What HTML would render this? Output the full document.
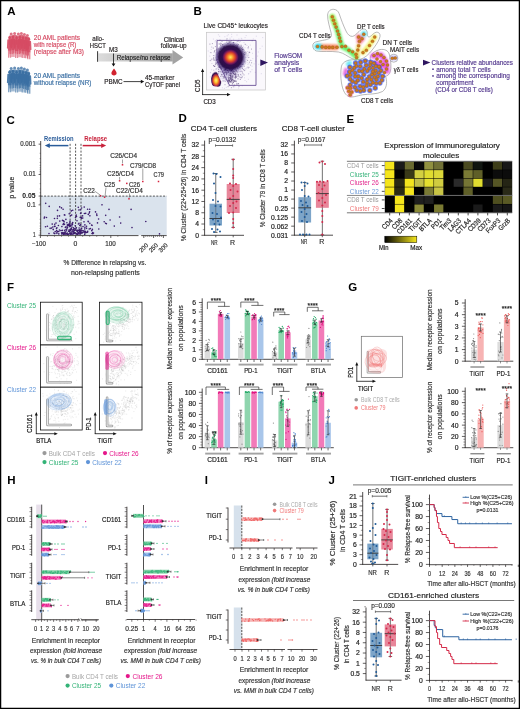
<!DOCTYPE html>
<html><head><meta charset="utf-8"><title>Figure</title>
<style>html,body{margin:0;padding:0;background:#fff;width:520px;height:709px;overflow:hidden;font-family:"Liberation Sans", sans-serif;}svg{display:block;will-change:transform;}</style>
</head><body>
<svg width="520" height="709" viewBox="0 0 520 709" font-family="'Liberation Sans', sans-serif"><defs>
<linearGradient id="garrow" x1="0" x2="1" y1="0" y2="0"><stop offset="0" stop-color="#dcdcdc"/><stop offset="1" stop-color="#a3a3a3"/></linearGradient>
<radialGradient id="gblob" cx="0.5" cy="0.5" r="0.5">
 <stop offset="0" stop-color="#fde668"/><stop offset="0.1" stop-color="#fbb43a"/><stop offset="0.2" stop-color="#f2702a"/><stop offset="0.3" stop-color="#cf3a30"/>
 <stop offset="0.4" stop-color="#7e1a5a"/><stop offset="0.5" stop-color="#320c4e"/><stop offset="0.7" stop-color="#24093f" stop-opacity="0.95"/><stop offset="0.85" stop-color="#3a2070" stop-opacity="0.5"/><stop offset="1" stop-color="#6a55a8" stop-opacity="0"/></radialGradient>
<radialGradient id="gblob2" cx="0.45" cy="0.62" r="0.55">
 <stop offset="0" stop-color="#fdf27a"/><stop offset="0.25" stop-color="#fbc232"/><stop offset="0.45" stop-color="#ec6a28"/>
 <stop offset="0.62" stop-color="#a82a4a"/><stop offset="0.8" stop-color="#2e0d4e"/><stop offset="1" stop-color="#2e0d4e" stop-opacity="0"/></radialGradient>
<radialGradient id="ghalo" cx="0.5" cy="0.5" r="0.5"><stop offset="0" stop-color="#7a68b5" stop-opacity="0.55"/><stop offset="1" stop-color="#b8aee0" stop-opacity="0"/></radialGradient>
<linearGradient id="gcbar" x1="0" x2="1" y1="0" y2="0"><stop offset="0" stop-color="#000"/><stop offset="1" stop-color="#f7e81c"/></linearGradient>
<filter id="blur1" filterUnits="userSpaceOnUse" x="0" y="0" width="520" height="709"><feGaussianBlur stdDeviation="1.2"/></filter>
<filter id="blur05" filterUnits="userSpaceOnUse" x="0" y="0" width="520" height="709"><feGaussianBlur stdDeviation="0.6"/></filter>
</defs>
<rect x="0" y="0" width="520" height="709" fill="#fff"/>
<text x="7.30" y="15.30" font-size="11.5" fill="#000" font-weight="bold">A</text>
<g fill="#d64b63"><g transform="translate(11.20 34.10)" opacity="0.78"><circle cx="0" cy="0" r="1.5"/><path d="M-2.3 2.4 Q-2.4 1.5 -1.4 1.5 L1.4 1.5 Q2.4 1.5 2.3 2.4 L2.7 10.5 L1.7 11 L1.65 13 L-1.65 13 L-1.7 11 L-2.7 10.5 Z"/><path d="M-1.65 12.5 L1.65 12.5 L1.6 20.0 L0.3 20.0 L0 13.5 L-0.3 20.0 L-1.6 20.0 Z" opacity="0.8"/></g><g transform="translate(14.60 33.50)" opacity="0.78"><circle cx="0" cy="0" r="1.5"/><path d="M-2.3 2.4 Q-2.4 1.5 -1.4 1.5 L1.4 1.5 Q2.4 1.5 2.3 2.4 L2.7 10.5 L1.7 11 L1.65 13 L-1.65 13 L-1.7 11 L-2.7 10.5 Z"/><path d="M-1.65 12.5 L1.65 12.5 L1.6 20.0 L0.3 20.0 L0 13.5 L-0.3 20.0 L-1.6 20.0 Z" opacity="0.8"/></g><g transform="translate(18.40 33.90)" opacity="0.78"><circle cx="0" cy="0" r="1.5"/><path d="M-2.3 2.4 Q-2.4 1.5 -1.4 1.5 L1.4 1.5 Q2.4 1.5 2.3 2.4 L2.7 10.5 L1.7 11 L1.65 13 L-1.65 13 L-1.7 11 L-2.7 10.5 Z"/><path d="M-1.65 12.5 L1.65 12.5 L1.6 20.0 L0.3 20.0 L0 13.5 L-0.3 20.0 L-1.6 20.0 Z" opacity="0.8"/></g><g transform="translate(21.40 33.50)" opacity="0.78"><circle cx="0" cy="0" r="1.5"/><path d="M-2.3 2.4 Q-2.4 1.5 -1.4 1.5 L1.4 1.5 Q2.4 1.5 2.3 2.4 L2.7 10.5 L1.7 11 L1.65 13 L-1.65 13 L-1.7 11 L-2.7 10.5 Z"/><path d="M-1.65 12.5 L1.65 12.5 L1.6 20.0 L0.3 20.0 L0 13.5 L-0.3 20.0 L-1.6 20.0 Z" opacity="0.8"/></g><g transform="translate(24.40 34.50)" opacity="0.78"><circle cx="0" cy="0" r="1.5"/><path d="M-2.3 2.4 Q-2.4 1.5 -1.4 1.5 L1.4 1.5 Q2.4 1.5 2.3 2.4 L2.7 10.5 L1.7 11 L1.65 13 L-1.65 13 L-1.7 11 L-2.7 10.5 Z"/><path d="M-1.65 12.5 L1.65 12.5 L1.6 20.0 L0.3 20.0 L0 13.5 L-0.3 20.0 L-1.6 20.0 Z" opacity="0.8"/></g><g transform="translate(27.40 35.50)" opacity="0.78"><circle cx="0" cy="0" r="1.5"/><path d="M-2.3 2.4 Q-2.4 1.5 -1.4 1.5 L1.4 1.5 Q2.4 1.5 2.3 2.4 L2.7 10.5 L1.7 11 L1.65 13 L-1.65 13 L-1.7 11 L-2.7 10.5 Z"/><path d="M-1.65 12.5 L1.65 12.5 L1.6 20.0 L0.3 20.0 L0 13.5 L-0.3 20.0 L-1.6 20.0 Z" opacity="0.8"/></g><g transform="translate(9.60 37.70)" opacity="0.9"><circle cx="0" cy="0" r="1.45"/><path d="M-2.3 2.4 Q-2.4 1.5 -1.4 1.5 L1.4 1.5 Q2.4 1.5 2.3 2.4 L2.7 10.5 L1.7 11 L1.65 13 L-1.65 13 L-1.7 11 L-2.7 10.5 Z"/><path d="M-1.65 12.5 L1.65 12.5 L1.6 20.0 L0.3 20.0 L0 13.5 L-0.3 20.0 L-1.6 20.0 Z" opacity="0.7"/></g><g transform="translate(13.00 36.90)" opacity="0.9"><circle cx="0" cy="0" r="1.45"/><path d="M-2.3 2.4 Q-2.4 1.5 -1.4 1.5 L1.4 1.5 Q2.4 1.5 2.3 2.4 L2.7 10.5 L1.7 11 L1.65 13 L-1.65 13 L-1.7 11 L-2.7 10.5 Z"/><path d="M-1.65 12.5 L1.65 12.5 L1.6 20.0 L0.3 20.0 L0 13.5 L-0.3 20.0 L-1.6 20.0 Z" opacity="0.7"/></g><g transform="translate(16.60 37.90)" opacity="0.9"><circle cx="0" cy="0" r="1.45"/><path d="M-2.3 2.4 Q-2.4 1.5 -1.4 1.5 L1.4 1.5 Q2.4 1.5 2.3 2.4 L2.7 10.5 L1.7 11 L1.65 13 L-1.65 13 L-1.7 11 L-2.7 10.5 Z"/><path d="M-1.65 12.5 L1.65 12.5 L1.6 20.0 L0.3 20.0 L0 13.5 L-0.3 20.0 L-1.6 20.0 Z" opacity="0.7"/></g><g transform="translate(20.00 37.30)" opacity="0.9"><circle cx="0" cy="0" r="1.45"/><path d="M-2.3 2.4 Q-2.4 1.5 -1.4 1.5 L1.4 1.5 Q2.4 1.5 2.3 2.4 L2.7 10.5 L1.7 11 L1.65 13 L-1.65 13 L-1.7 11 L-2.7 10.5 Z"/><path d="M-1.65 12.5 L1.65 12.5 L1.6 20.0 L0.3 20.0 L0 13.5 L-0.3 20.0 L-1.6 20.0 Z" opacity="0.7"/></g><g transform="translate(23.20 38.10)" opacity="0.9"><circle cx="0" cy="0" r="1.45"/><path d="M-2.3 2.4 Q-2.4 1.5 -1.4 1.5 L1.4 1.5 Q2.4 1.5 2.3 2.4 L2.7 10.5 L1.7 11 L1.65 13 L-1.65 13 L-1.7 11 L-2.7 10.5 Z"/><path d="M-1.65 12.5 L1.65 12.5 L1.6 20.0 L0.3 20.0 L0 13.5 L-0.3 20.0 L-1.6 20.0 Z" opacity="0.7"/></g><g transform="translate(26.40 38.30)" opacity="0.9"><circle cx="0" cy="0" r="1.45"/><path d="M-2.3 2.4 Q-2.4 1.5 -1.4 1.5 L1.4 1.5 Q2.4 1.5 2.3 2.4 L2.7 10.5 L1.7 11 L1.65 13 L-1.65 13 L-1.7 11 L-2.7 10.5 Z"/><path d="M-1.65 12.5 L1.65 12.5 L1.6 20.0 L0.3 20.0 L0 13.5 L-0.3 20.0 L-1.6 20.0 Z" opacity="0.7"/></g><g transform="translate(28.80 39.30)" opacity="0.9"><circle cx="0" cy="0" r="1.45"/><path d="M-2.3 2.4 Q-2.4 1.5 -1.4 1.5 L1.4 1.5 Q2.4 1.5 2.3 2.4 L2.7 10.5 L1.7 11 L1.65 13 L-1.65 13 L-1.7 11 L-2.7 10.5 Z"/><path d="M-1.65 12.5 L1.65 12.5 L1.6 20.0 L0.3 20.0 L0 13.5 L-0.3 20.0 L-1.6 20.0 Z" opacity="0.7"/></g></g>
<g fill="#3a6fa3"><g transform="translate(11.20 68.60)" opacity="0.78"><circle cx="0" cy="0" r="1.5"/><path d="M-2.3 2.4 Q-2.4 1.5 -1.4 1.5 L1.4 1.5 Q2.4 1.5 2.3 2.4 L2.7 10.5 L1.7 11 L1.65 13 L-1.65 13 L-1.7 11 L-2.7 10.5 Z"/><path d="M-1.65 12.5 L1.65 12.5 L1.6 20.0 L0.3 20.0 L0 13.5 L-0.3 20.0 L-1.6 20.0 Z" opacity="0.8"/></g><g transform="translate(14.60 68.00)" opacity="0.78"><circle cx="0" cy="0" r="1.5"/><path d="M-2.3 2.4 Q-2.4 1.5 -1.4 1.5 L1.4 1.5 Q2.4 1.5 2.3 2.4 L2.7 10.5 L1.7 11 L1.65 13 L-1.65 13 L-1.7 11 L-2.7 10.5 Z"/><path d="M-1.65 12.5 L1.65 12.5 L1.6 20.0 L0.3 20.0 L0 13.5 L-0.3 20.0 L-1.6 20.0 Z" opacity="0.8"/></g><g transform="translate(18.40 68.40)" opacity="0.78"><circle cx="0" cy="0" r="1.5"/><path d="M-2.3 2.4 Q-2.4 1.5 -1.4 1.5 L1.4 1.5 Q2.4 1.5 2.3 2.4 L2.7 10.5 L1.7 11 L1.65 13 L-1.65 13 L-1.7 11 L-2.7 10.5 Z"/><path d="M-1.65 12.5 L1.65 12.5 L1.6 20.0 L0.3 20.0 L0 13.5 L-0.3 20.0 L-1.6 20.0 Z" opacity="0.8"/></g><g transform="translate(21.40 68.00)" opacity="0.78"><circle cx="0" cy="0" r="1.5"/><path d="M-2.3 2.4 Q-2.4 1.5 -1.4 1.5 L1.4 1.5 Q2.4 1.5 2.3 2.4 L2.7 10.5 L1.7 11 L1.65 13 L-1.65 13 L-1.7 11 L-2.7 10.5 Z"/><path d="M-1.65 12.5 L1.65 12.5 L1.6 20.0 L0.3 20.0 L0 13.5 L-0.3 20.0 L-1.6 20.0 Z" opacity="0.8"/></g><g transform="translate(24.40 69.00)" opacity="0.78"><circle cx="0" cy="0" r="1.5"/><path d="M-2.3 2.4 Q-2.4 1.5 -1.4 1.5 L1.4 1.5 Q2.4 1.5 2.3 2.4 L2.7 10.5 L1.7 11 L1.65 13 L-1.65 13 L-1.7 11 L-2.7 10.5 Z"/><path d="M-1.65 12.5 L1.65 12.5 L1.6 20.0 L0.3 20.0 L0 13.5 L-0.3 20.0 L-1.6 20.0 Z" opacity="0.8"/></g><g transform="translate(27.40 70.00)" opacity="0.78"><circle cx="0" cy="0" r="1.5"/><path d="M-2.3 2.4 Q-2.4 1.5 -1.4 1.5 L1.4 1.5 Q2.4 1.5 2.3 2.4 L2.7 10.5 L1.7 11 L1.65 13 L-1.65 13 L-1.7 11 L-2.7 10.5 Z"/><path d="M-1.65 12.5 L1.65 12.5 L1.6 20.0 L0.3 20.0 L0 13.5 L-0.3 20.0 L-1.6 20.0 Z" opacity="0.8"/></g><g transform="translate(9.60 72.20)" opacity="0.9"><circle cx="0" cy="0" r="1.45"/><path d="M-2.3 2.4 Q-2.4 1.5 -1.4 1.5 L1.4 1.5 Q2.4 1.5 2.3 2.4 L2.7 10.5 L1.7 11 L1.65 13 L-1.65 13 L-1.7 11 L-2.7 10.5 Z"/><path d="M-1.65 12.5 L1.65 12.5 L1.6 20.0 L0.3 20.0 L0 13.5 L-0.3 20.0 L-1.6 20.0 Z" opacity="0.7"/></g><g transform="translate(13.00 71.40)" opacity="0.9"><circle cx="0" cy="0" r="1.45"/><path d="M-2.3 2.4 Q-2.4 1.5 -1.4 1.5 L1.4 1.5 Q2.4 1.5 2.3 2.4 L2.7 10.5 L1.7 11 L1.65 13 L-1.65 13 L-1.7 11 L-2.7 10.5 Z"/><path d="M-1.65 12.5 L1.65 12.5 L1.6 20.0 L0.3 20.0 L0 13.5 L-0.3 20.0 L-1.6 20.0 Z" opacity="0.7"/></g><g transform="translate(16.60 72.40)" opacity="0.9"><circle cx="0" cy="0" r="1.45"/><path d="M-2.3 2.4 Q-2.4 1.5 -1.4 1.5 L1.4 1.5 Q2.4 1.5 2.3 2.4 L2.7 10.5 L1.7 11 L1.65 13 L-1.65 13 L-1.7 11 L-2.7 10.5 Z"/><path d="M-1.65 12.5 L1.65 12.5 L1.6 20.0 L0.3 20.0 L0 13.5 L-0.3 20.0 L-1.6 20.0 Z" opacity="0.7"/></g><g transform="translate(20.00 71.80)" opacity="0.9"><circle cx="0" cy="0" r="1.45"/><path d="M-2.3 2.4 Q-2.4 1.5 -1.4 1.5 L1.4 1.5 Q2.4 1.5 2.3 2.4 L2.7 10.5 L1.7 11 L1.65 13 L-1.65 13 L-1.7 11 L-2.7 10.5 Z"/><path d="M-1.65 12.5 L1.65 12.5 L1.6 20.0 L0.3 20.0 L0 13.5 L-0.3 20.0 L-1.6 20.0 Z" opacity="0.7"/></g><g transform="translate(23.20 72.60)" opacity="0.9"><circle cx="0" cy="0" r="1.45"/><path d="M-2.3 2.4 Q-2.4 1.5 -1.4 1.5 L1.4 1.5 Q2.4 1.5 2.3 2.4 L2.7 10.5 L1.7 11 L1.65 13 L-1.65 13 L-1.7 11 L-2.7 10.5 Z"/><path d="M-1.65 12.5 L1.65 12.5 L1.6 20.0 L0.3 20.0 L0 13.5 L-0.3 20.0 L-1.6 20.0 Z" opacity="0.7"/></g><g transform="translate(26.40 72.80)" opacity="0.9"><circle cx="0" cy="0" r="1.45"/><path d="M-2.3 2.4 Q-2.4 1.5 -1.4 1.5 L1.4 1.5 Q2.4 1.5 2.3 2.4 L2.7 10.5 L1.7 11 L1.65 13 L-1.65 13 L-1.7 11 L-2.7 10.5 Z"/><path d="M-1.65 12.5 L1.65 12.5 L1.6 20.0 L0.3 20.0 L0 13.5 L-0.3 20.0 L-1.6 20.0 Z" opacity="0.7"/></g><g transform="translate(28.80 73.80)" opacity="0.9"><circle cx="0" cy="0" r="1.45"/><path d="M-2.3 2.4 Q-2.4 1.5 -1.4 1.5 L1.4 1.5 Q2.4 1.5 2.3 2.4 L2.7 10.5 L1.7 11 L1.65 13 L-1.65 13 L-1.7 11 L-2.7 10.5 Z"/><path d="M-1.65 12.5 L1.65 12.5 L1.6 20.0 L0.3 20.0 L0 13.5 L-0.3 20.0 L-1.6 20.0 Z" opacity="0.7"/></g></g>
<text x="33.80" y="40.20" font-size="7.1" fill="#d64b63" stroke="#d64b63" stroke-width="0.18" textLength="46.20" lengthAdjust="spacingAndGlyphs">20 AML patients</text>
<text x="33.80" y="47.30" font-size="7.1" fill="#d64b63" stroke="#d64b63" stroke-width="0.18" textLength="42.60" lengthAdjust="spacingAndGlyphs">with relapse (R)</text>
<text x="33.80" y="54.40" font-size="7.1" fill="#d64b63" stroke="#d64b63" stroke-width="0.18" textLength="50.00" lengthAdjust="spacingAndGlyphs">(relapse after M3)</text>
<text x="33.80" y="78.00" font-size="7.1" fill="#3a6fa3" stroke="#3a6fa3" stroke-width="0.18" textLength="46.20" lengthAdjust="spacingAndGlyphs">20 AML patients</text>
<text x="33.80" y="85.20" font-size="7.1" fill="#3a6fa3" stroke="#3a6fa3" stroke-width="0.18" textLength="57.50" lengthAdjust="spacingAndGlyphs">without relapse (NR)</text>
<text x="98.20" y="40.60" font-size="7.1" fill="#231f20" stroke="#231f20" stroke-width="0.18" text-anchor="middle" textLength="11.90" lengthAdjust="spacingAndGlyphs">allo-</text>
<text x="97.80" y="47.80" font-size="7.1" fill="#231f20" stroke="#231f20" stroke-width="0.18" text-anchor="middle" textLength="16.00" lengthAdjust="spacingAndGlyphs">HSCT</text>
<text x="113.40" y="52.40" font-size="7.1" fill="#231f20" stroke="#231f20" stroke-width="0.18" text-anchor="middle" textLength="8.70" lengthAdjust="spacingAndGlyphs">M3</text>
<rect x="98.30" y="53.30" width="74.50" height="8.20" fill="url(#garrow)"/>
<path d="M172.5 50.0 L183.2 57.4 L172.5 64.6 Z" fill="#a3a3a3"/>
<line x1="97.60" y1="51.20" x2="97.60" y2="61.80" stroke="#333" stroke-width="1.0"/>
<text x="116.70" y="60.40" font-size="7.1" fill="#222" stroke="#222" stroke-width="0.18" textLength="53.90" lengthAdjust="spacingAndGlyphs">Relapse/no relapse</text>
<line x1="113.50" y1="53.50" x2="113.50" y2="64.00" stroke="#111" stroke-width="0.8"/>
<path d="M111.6 63.4 L115.4 63.4 L113.5 66.6 Z" fill="#111"/>
<path d="M114 68.6 C115.6 70.8 116.6 72.0 116.6 73.2 C116.6 74.6 115.4 75.4 114 75.4 C112.6 75.4 111.4 74.6 111.4 73.2 C111.4 72.0 112.4 70.8 114 68.6 Z" fill="#d2232f"/>
<text x="113.40" y="83.80" font-size="7.1" fill="#231f20" stroke="#231f20" stroke-width="0.18" text-anchor="middle" textLength="18.30" lengthAdjust="spacingAndGlyphs">PBMC</text>
<line x1="123.50" y1="81.60" x2="141.50" y2="81.60" stroke="#111" stroke-width="0.8"/>
<path d="M140.8 79.8 L144.2 81.6 L140.8 83.4 Z" fill="#111"/>
<text x="145.00" y="79.90" font-size="7.1" fill="#231f20" stroke="#231f20" stroke-width="0.18" textLength="29.40" lengthAdjust="spacingAndGlyphs">45-marker</text>
<text x="145.00" y="87.30" font-size="7.1" fill="#231f20" stroke="#231f20" stroke-width="0.18" textLength="35.00" lengthAdjust="spacingAndGlyphs">CyTOF panel</text>
<text x="173.80" y="42.20" font-size="7.1" fill="#231f20" stroke="#231f20" stroke-width="0.18" text-anchor="middle" textLength="20.20" lengthAdjust="spacingAndGlyphs">Clinical</text>
<text x="173.70" y="48.00" font-size="7.1" fill="#231f20" stroke="#231f20" stroke-width="0.18" text-anchor="middle" textLength="26.00" lengthAdjust="spacingAndGlyphs">follow-up</text>
<text x="193.60" y="15.30" font-size="11.5" fill="#000" font-weight="bold">B</text>
<text x="203.60" y="28.40" font-size="7.1" fill="#231f20" stroke="#231f20" stroke-width="0.18" textLength="30.50" lengthAdjust="spacingAndGlyphs">Live CD45</text>
<text x="234.60" y="25.40" font-size="4.2" fill="#231f20" stroke="#231f20" stroke-width="0.18">+</text>
<text x="238.60" y="28.40" font-size="7.1" fill="#231f20" stroke="#231f20" stroke-width="0.18" textLength="29.30" lengthAdjust="spacingAndGlyphs">leukocytes</text>
<rect x="206.50" y="32.30" width="58.90" height="57.70" fill="#faf8fc" stroke="#c4c4c4" stroke-width="0.7"/>
<path d="M229.2 66.1h0M229.5 56.2h0M221.8 57.4h0M244.2 65.1h0M243.4 63.0h0M236.3 62.2h0M213.7 70.3h0M237.6 66.0h0M213.4 39.1h0M222.2 54.4h0M235.4 59.4h0M237.7 52.3h0M235.4 64.7h0M224.7 80.6h0M238.1 74.4h0M225.2 51.1h0M228.2 58.7h0M239.0 63.0h0M227.1 48.5h0M226.3 74.7h0M223.1 62.9h0M236.7 42.1h0M232.5 75.7h0M209.8 56.1h0M230.8 50.2h0M237.5 59.3h0M215.9 69.9h0M239.4 71.4h0M247.8 64.3h0M233.3 44.4h0M238.8 52.7h0M227.0 44.8h0M221.4 53.6h0M246.2 35.6h0M216.0 62.9h0M247.9 66.9h0M235.9 51.2h0M219.7 71.7h0M244.1 61.9h0M234.7 65.2h0M249.5 67.4h0M237.7 66.6h0M214.7 75.4h0M242.5 66.4h0M210.3 52.4h0M241.3 38.3h0M230.0 72.2h0M217.6 79.3h0M238.1 58.2h0M235.6 67.8h0M233.3 73.7h0M224.7 55.0h0M243.5 60.3h0M222.3 71.4h0M248.1 54.7h0M216.8 58.4h0M230.4 56.4h0M247.5 47.7h0M245.9 44.8h0M223.3 67.6h0M244.4 70.3h0M235.8 61.7h0M233.7 66.9h0M230.1 63.3h0M238.3 60.0h0M240.4 66.8h0M254.1 63.9h0M227.3 55.5h0M231.9 71.1h0M228.3 64.6h0M219.6 62.9h0M236.4 62.9h0M227.3 67.9h0M235.1 53.7h0M258.7 64.3h0M225.9 58.8h0M229.5 59.2h0M243.1 46.0h0M231.3 71.4h0M241.4 77.9h0M213.3 55.8h0M228.2 67.5h0M244.0 42.6h0M239.5 42.1h0M233.9 74.3h0M230.4 62.3h0M240.8 61.7h0M231.0 78.4h0M243.5 56.5h0M262.2 46.2h0M242.1 56.8h0M233.5 68.5h0M234.4 67.7h0M215.2 41.9h0M238.8 48.4h0M220.7 42.4h0M245.9 69.0h0M248.2 48.7h0M232.0 46.3h0M240.4 79.1h0M222.2 78.7h0M242.9 57.9h0M210.3 76.9h0M230.9 52.8h0M236.4 64.9h0M248.5 47.8h0M244.5 77.8h0M248.0 57.8h0M223.8 72.2h0M233.3 61.5h0M247.7 56.8h0M211.6 69.8h0M235.5 52.7h0M231.9 70.0h0M232.9 75.9h0M231.3 72.5h0M248.4 79.3h0M224.6 70.6h0M211.4 47.0h0M210.4 72.8h0M218.4 59.8h0M229.9 59.7h0M225.5 62.8h0M251.7 60.5h0M237.8 72.0h0M229.8 44.9h0M225.9 72.9h0M213.9 52.8h0M243.1 69.5h0M232.1 69.7h0M233.8 45.9h0M214.8 52.3h0M242.2 53.2h0M222.1 50.7h0M215.2 58.6h0M219.0 64.4h0M224.9 36.7h0M240.0 56.7h0M235.2 54.5h0M240.6 69.0h0M239.3 63.9h0M246.7 67.9h0M237.0 35.0h0M241.9 75.7h0M228.7 54.4h0M253.3 38.9h0M221.8 68.3h0M252.8 58.6h0M238.2 70.8h0M222.0 58.9h0M235.2 69.9h0M231.6 57.7h0M220.8 55.7h0M241.8 61.2h0M222.6 49.9h0M261.3 73.7h0M238.8 65.8h0M250.5 65.1h0M231.3 66.3h0M210.6 72.4h0M235.6 51.6h0M246.6 81.7h0M216.6 52.0h0M235.2 62.2h0M227.6 48.3h0M255.3 72.4h0M218.9 43.9h0M250.7 71.9h0M252.0 69.7h0M222.4 63.1h0M208.2 51.0h0M231.4 66.3h0M224.0 58.5h0M237.0 64.5h0M239.0 62.5h0M228.4 69.5h0M232.5 50.1h0M225.1 60.0h0M230.8 61.9h0M232.0 62.1h0M230.5 44.9h0M236.6 72.6h0M236.8 57.7h0M236.9 48.4h0M211.1 60.7h0M221.8 68.9h0M220.6 78.9h0M227.8 43.6h0M223.6 66.3h0M237.5 62.1h0M248.3 68.5h0M231.8 67.2h0M250.2 71.7h0M243.3 47.0h0M230.4 68.8h0M228.7 72.8h0M238.6 70.9h0M245.6 57.4h0M228.2 70.5h0M242.8 60.1h0M219.2 62.3h0M236.0 73.6h0M240.6 60.3h0M241.4 66.5h0M234.3 60.7h0M229.3 68.2h0M220.4 52.5h0M232.1 42.4h0M227.2 35.9h0M224.5 66.8h0M238.2 59.3h0M229.4 43.0h0M252.1 66.2h0M244.0 49.4h0M230.0 38.2h0M240.6 71.2h0M211.1 59.4h0M238.9 38.9h0M211.9 47.2h0M225.1 43.2h0M232.3 63.0h0M239.0 68.4h0M248.5 74.0h0M217.6 53.9h0M220.3 47.1h0M231.1 60.1h0M237.4 41.0h0M218.4 59.7h0M229.8 56.3h0M231.3 50.9h0M239.7 64.3h0M231.0 51.9h0M221.2 60.4h0M215.5 62.4h0M233.6 43.5h0M229.2 56.2h0M237.1 67.3h0M231.6 49.8h0M230.4 59.2h0M240.1 63.5h0M224.1 43.7h0M227.9 51.1h0M219.8 58.6h0M226.6 61.3h0M237.8 55.0h0M257.6 56.1h0M244.1 61.5h0M223.7 63.0h0M238.6 88.0h0M235.5 75.4h0M240.4 71.4h0M237.6 58.1h0M237.6 47.1h0M245.0 47.8h0M234.7 85.4h0M229.5 60.2h0M244.8 60.3h0M223.1 63.1h0M238.4 68.5h0M223.5 81.0h0M250.3 60.2h0M235.0 54.9h0M247.6 51.5h0M239.4 54.2h0M224.4 68.6h0M246.7 59.9h0M224.5 69.7h0M231.5 63.7h0M248.8 73.6h0M226.3 87.4h0M232.0 69.4h0M224.9 59.5h0M212.8 81.4h0M247.0 45.4h0M215.4 40.5h0M244.9 54.5h0M231.3 56.2h0M230.7 46.9h0M232.3 42.7h0M231.2 63.7h0M237.1 57.2h0M222.1 61.9h0M226.7 78.8h0M240.4 58.6h0M226.8 51.6h0M221.7 55.8h0M235.2 66.2h0M238.3 85.2h0M224.2 60.2h0M262.7 37.6h0M226.3 62.0h0M233.7 64.9h0M229.4 64.4h0M232.6 69.3h0M211.2 49.4h0M232.0 47.6h0M220.5 67.5h0M224.9 67.6h0M240.2 63.7h0M237.6 58.7h0M216.5 59.6h0M237.0 53.6h0M230.9 69.0h0M222.3 67.7h0M252.5 53.3h0M233.6 58.2h0M248.9 63.8h0M241.9 51.7h0M231.8 59.9h0M212.5 77.3h0M241.9 39.0h0M240.2 58.4h0M236.9 64.4h0M215.5 57.5h0M248.4 53.1h0M220.7 43.7h0M218.6 64.0h0M250.6 65.2h0M234.7 86.8h0M226.3 51.9h0M237.8 66.6h0M220.8 46.0h0M235.2 63.0h0M217.6 57.6h0M226.0 65.5h0M230.7 59.0h0M228.1 72.6h0M247.3 55.6h0M241.3 50.9h0M232.8 69.0h0M248.7 55.4h0M231.2 62.4h0M215.5 60.2h0M224.6 64.5h0M219.6 36.3h0M232.4 63.1h0M226.0 70.7h0M229.0 52.7h0M237.3 41.2h0M224.5 59.8h0M241.3 58.0h0M235.4 52.1h0M235.3 80.0h0M224.4 88.4h0M224.9 60.2h0M233.9 72.3h0M218.4 34.8h0M238.7 69.5h0M234.3 63.0h0M242.2 64.4h0M250.3 45.1h0M240.9 55.5h0M242.2 85.8h0M231.9 56.9h0M226.5 49.9h0M225.1 67.7h0M232.4 60.8h0M230.1 71.0h0M237.4 58.3h0M239.3 58.2h0M219.3 77.5h0M237.1 48.5h0M243.9 64.1h0M214.8 79.3h0M235.7 70.7h0M234.2 58.2h0M215.0 71.7h0M232.3 56.6h0M235.9 60.9h0M239.4 55.5h0M231.6 34.3h0M227.3 68.1h0M246.7 55.6h0M230.7 79.0h0M228.4 68.8h0M250.5 60.5h0M245.5 51.5h0M234.3 59.1h0M233.3 73.6h0M258.3 52.0h0M225.7 66.0h0M220.4 66.0h0M238.3 56.7h0M237.8 41.4h0M240.4 41.5h0M224.3 53.3h0M227.6 70.3h0M232.9 55.2h0M238.0 79.0h0M232.1 64.4h0M245.6 63.2h0M256.3 36.2h0M231.6 65.0h0M242.6 68.0h0M229.0 47.4h0M233.1 72.4h0M220.0 47.7h0M231.7 36.8h0M229.1 54.8h0M237.0 51.6h0M222.3 55.3h0M231.5 52.0h0M232.1 69.0h0M245.0 80.5h0M223.4 55.0h0M224.0 59.6h0M237.7 43.7h0M237.1 59.7h0M211.9 63.5h0M245.1 37.6h0M240.9 62.5h0M237.2 65.3h0M246.3 57.3h0M241.6 55.1h0M240.0 50.2h0M230.8 80.8h0M236.9 58.1h0M219.4 50.5h0M234.1 71.3h0M236.7 66.3h0M231.5 76.2h0M227.7 53.4h0M241.8 60.8h0M228.9 53.1h0M229.2 67.5h0M235.9 45.5h0M236.7 62.1h0M221.0 69.3h0M228.9 56.0h0M240.8 75.8h0M224.4 65.3h0M222.4 87.8h0M226.6 74.3h0M224.9 69.7h0M227.2 66.0h0M231.0 52.0h0M255.7 61.0h0M213.9 70.2h0M213.1 73.8h0M225.6 61.7h0M245.9 61.4h0M216.7 39.6h0M245.0 68.9h0M223.0 70.3h0M237.5 67.8h0M241.9 68.8h0M233.9 65.9h0M260.1 48.6h0M228.4 60.4h0M241.7 54.7h0M244.6 50.5h0M234.9 53.7h0M233.7 51.7h0M214.4 73.1h0M235.3 53.3h0M234.2 71.9h0M221.2 58.7h0M237.9 66.3h0M228.3 34.7h0M245.7 63.9h0M232.1 56.7h0M234.9 54.9h0M220.7 51.1h0M225.4 52.7h0M219.3 67.6h0M217.6 67.9h0M220.8 64.2h0M247.1 62.4h0M224.0 60.6h0M233.6 39.2h0M225.3 62.0h0M226.8 61.0h0M240.1 69.2h0M242.0 67.1h0M228.8 59.8h0M229.0 56.2h0M230.0 39.3h0M228.3 59.7h0M221.3 59.7h0" stroke="#6e5aa8" stroke-width="0.6" stroke-linecap="square" fill="none" opacity="0.35"/>
<ellipse cx="230" cy="63" rx="16" ry="21" fill="url(#ghalo)"/>
<ellipse cx="226" cy="72" rx="9" ry="12" transform="rotate(-25 226 72)" fill="url(#ghalo)" opacity="0.8"/>
<ellipse cx="230.5" cy="57.2" rx="16.5" ry="16.0" fill="url(#gblob)"/>
<path d="M224.5 75.1h0M230.4 69.6h0M230.1 78.1h0M232.9 80.2h0M216.3 60.4h0M234.0 71.4h0M230.3 70.0h0M218.1 52.9h0M238.1 83.6h0M232.6 77.1h0M225.9 68.8h0M224.3 73.1h0M232.7 72.3h0M216.2 68.9h0M213.6 57.7h0M223.1 76.5h0M212.4 43.6h0M223.2 47.0h0M225.8 69.1h0M236.5 70.2h0M233.5 70.8h0M221.4 48.0h0M228.7 67.8h0M213.3 48.1h0M223.5 65.5h0M228.4 80.2h0M230.2 79.6h0M236.9 47.9h0M228.6 68.3h0M242.3 47.5h0M220.7 68.9h0M233.1 67.7h0M222.1 46.0h0M224.7 46.4h0M232.1 69.8h0M237.6 72.0h0M220.5 49.1h0M235.5 77.4h0M240.9 66.1h0M217.5 62.9h0M229.5 80.1h0M244.5 52.3h0M230.7 71.9h0M223.8 66.7h0M223.7 71.7h0M214.8 66.5h0M221.1 62.1h0M234.8 74.4h0M223.0 80.9h0M238.6 83.7h0M241.3 71.2h0M233.8 73.2h0M234.0 71.7h0M218.7 56.1h0M224.3 67.2h0M218.9 48.5h0M217.3 54.7h0M239.1 48.4h0M230.7 76.4h0M230.8 79.0h0M242.3 59.4h0M220.9 66.8h0M231.5 40.8h0M214.6 66.3h0M215.8 72.9h0M230.2 75.5h0M214.0 66.1h0M237.3 45.4h0M241.7 57.9h0M236.8 46.8h0M230.0 81.5h0M242.8 57.7h0M235.9 75.5h0M232.6 73.1h0M234.4 67.0h0M240.5 61.1h0M240.2 77.5h0M225.6 71.9h0M224.4 72.9h0M235.2 74.2h0M221.8 74.8h0M219.3 44.0h0M248.5 46.9h0M240.5 62.7h0M227.2 73.0h0M232.8 75.1h0M228.8 79.7h0M221.9 63.4h0M230.4 68.7h0M239.0 86.4h0M218.5 73.9h0M229.3 85.2h0M224.8 67.5h0M234.1 80.8h0M245.2 44.3h0M228.6 78.5h0M232.8 77.2h0M230.8 44.4h0M220.8 71.7h0M231.1 77.1h0M218.2 76.5h0M230.2 69.5h0M232.3 84.2h0M236.3 77.3h0M234.3 67.3h0M240.7 74.5h0M238.5 66.2h0M228.5 77.3h0M230.4 81.9h0M230.6 75.3h0M218.9 71.6h0M227.2 80.6h0M236.0 66.1h0M234.7 69.1h0M231.2 80.7h0M218.5 69.4h0M230.4 41.9h0M231.9 81.1h0M233.7 80.3h0M231.6 68.8h0M243.4 53.9h0M223.3 48.9h0M243.6 69.7h0M236.8 74.3h0M222.4 66.5h0M246.1 52.3h0M216.9 59.6h0M231.3 70.6h0M223.7 66.0h0M230.8 73.9h0M251.6 62.8h0M218.9 49.6h0M222.6 48.8h0M242.9 56.1h0M245.0 54.2h0M231.8 71.2h0M226.7 42.1h0M233.5 82.4h0M240.3 79.4h0M240.6 64.1h0M235.1 72.8h0M229.0 72.4h0M239.2 67.1h0M242.5 49.5h0M230.7 73.1h0M227.9 70.3h0M220.9 49.0h0M234.4 77.7h0M235.9 71.3h0M230.6 77.2h0M231.4 74.2h0M219.1 51.1h0M234.0 46.4h0M234.3 85.0h0M228.2 80.1h0M241.6 52.8h0M219.9 62.8h0M224.4 69.0h0M239.0 65.2h0M227.9 68.1h0M230.9 71.3h0M223.0 44.6h0M233.9 81.1h0M242.4 68.4h0M236.7 83.3h0M225.7 68.2h0M218.7 53.2h0M218.3 62.2h0M215.6 63.8h0M222.0 41.3h0M235.1 68.2h0M220.4 43.9h0M217.5 59.7h0M218.8 66.2h0M219.8 60.8h0M232.8 45.2h0M213.8 55.5h0M229.3 77.6h0M252.2 40.7h0M221.6 64.4h0M229.2 67.6h0M221.3 68.1h0M219.3 58.0h0M222.5 66.1h0M237.3 46.4h0M238.5 44.6h0M233.7 73.6h0M221.8 74.6h0M231.5 69.1h0M219.9 55.8h0M230.4 73.9h0M229.0 80.1h0M230.6 78.2h0M225.6 69.3h0M244.9 62.0h0M233.3 68.3h0M233.6 42.4h0M219.6 51.5h0M223.6 65.2h0M211.0 52.7h0M231.4 80.6h0M220.4 67.2h0M211.9 59.1h0M217.9 56.4h0M229.2 67.7h0M232.6 79.7h0M226.9 67.6h0M220.1 51.9h0M227.9 67.6h0M229.8 73.7h0M235.5 78.3h0M243.4 49.3h0M224.3 66.4h0M231.5 73.3h0M225.6 67.9h0M226.3 70.4h0M234.9 74.2h0M237.6 65.9h0M231.1 75.9h0M229.8 41.8h0M219.4 67.0h0M241.5 46.1h0M232.2 70.7h0M231.5 80.2h0M226.0 67.9h0M223.5 47.6h0M232.2 79.0h0M219.9 64.4h0M214.4 51.6h0M227.0 72.6h0M221.9 64.8h0M229.0 82.3h0M225.9 69.7h0M224.8 70.5h0M246.7 53.9h0M242.6 49.0h0M224.2 76.8h0M235.3 81.2h0M233.1 82.4h0M230.5 76.0h0M242.9 51.0h0M228.5 67.8h0M240.2 62.8h0M229.4 69.6h0M214.4 60.1h0M217.9 64.8h0M242.2 64.5h0M219.2 52.1h0M242.3 76.8h0M232.5 71.7h0M230.2 77.8h0M233.4 68.7h0M215.4 64.7h0M228.9 78.2h0M228.2 83.6h0M243.1 64.2h0M233.3 86.8h0M220.2 61.5h0M219.1 65.9h0M229.5 75.2h0M225.6 68.9h0M232.3 70.0h0M229.7 81.2h0M232.0 76.1h0M239.8 67.3h0M240.8 66.7h0M233.0 81.8h0M235.2 69.2h0M244.4 54.8h0M229.4 80.7h0M220.3 52.3h0M231.9 69.4h0M232.5 76.2h0M225.7 72.5h0M228.7 82.1h0M231.2 68.1h0M241.7 77.7h0M233.9 76.1h0M238.6 40.8h0M220.0 54.7h0M215.4 46.6h0M216.2 50.2h0M223.9 78.2h0M229.6 69.9h0M228.6 71.5h0M225.0 84.7h0M237.6 68.6h0M224.5 76.9h0M232.9 79.2h0M226.3 74.1h0M225.7 69.4h0M234.8 81.3h0M227.2 68.2h0M235.9 81.0h0M242.5 72.0h0M220.8 76.4h0M231.4 79.2h0M236.9 44.7h0M231.5 78.9h0M216.6 63.2h0M248.2 67.4h0M241.1 57.8h0M227.6 70.4h0M227.8 43.6h0M226.6 72.3h0M231.1 70.3h0M220.5 45.2h0M224.0 66.9h0M218.5 71.7h0M242.9 73.7h0M230.1 81.7h0M234.0 71.6h0M220.5 68.1h0M239.0 76.6h0M221.6 43.8h0M217.8 62.1h0M232.6 83.4h0M234.5 81.0h0M226.8 68.0h0M229.5 70.0h0M218.6 57.6h0M228.5 81.1h0M232.5 69.5h0M209.9 44.1h0M225.6 79.1h0M236.8 47.3h0M231.3 70.7h0M236.9 76.5h0M213.5 65.5h0M220.9 81.7h0M251.5 49.1h0M219.8 67.5h0M244.2 66.3h0M233.9 67.6h0M233.6 42.6h0M236.8 71.4h0M231.7 77.3h0M221.6 69.0h0M238.0 78.8h0M240.7 47.1h0M234.2 44.7h0M225.2 81.3h0M238.4 74.7h0M227.5 70.4h0M228.8 75.8h0M231.0 70.4h0M230.7 75.1h0M220.0 40.1h0M241.0 45.1h0M214.7 50.6h0M227.1 71.4h0M230.3 79.0h0M228.4 72.5h0M228.0 81.6h0M224.8 72.7h0M235.7 76.4h0M224.4 47.3h0M244.7 70.6h0M232.2 79.9h0M235.1 74.7h0M226.7 73.5h0M231.4 87.7h0M224.9 66.3h0M235.7 45.7h0M233.4 73.8h0M231.5 82.0h0M222.3 50.0h0M216.7 49.2h0M223.1 65.3h0M219.1 67.5h0M223.3 65.9h0M228.8 43.1h0M224.0 77.4h0M224.7 48.2h0M235.5 76.3h0M226.9 77.3h0M249.4 62.2h0M236.0 77.3h0M233.1 72.7h0M232.8 69.3h0M231.4 70.4h0M238.3 75.7h0M219.4 66.6h0M229.4 42.0h0M244.0 74.9h0M223.4 66.6h0M230.9 73.2h0M236.3 81.3h0M220.1 52.5h0M240.9 62.8h0M249.2 52.1h0M213.5 58.8h0M241.6 48.6h0M221.5 64.8h0M232.1 78.0h0M225.3 70.0h0M224.9 71.1h0M228.2 41.2h0M223.4 65.6h0M228.1 86.7h0M228.9 74.2h0M236.9 84.4h0M247.6 60.4h0M227.0 68.3h0M226.7 74.8h0M235.5 73.2h0M226.5 46.4h0M229.4 67.8h0M228.9 70.9h0M235.9 70.7h0M232.8 68.8h0M234.8 67.0h0M229.2 80.5h0M223.5 70.3h0M248.8 57.4h0M228.8 46.3h0M249.7 52.6h0M222.5 44.6h0M213.8 60.0h0M245.3 53.0h0M223.9 46.6h0M235.1 74.3h0M210.2 60.6h0M218.1 62.5h0M224.4 69.9h0M237.4 67.3h0M222.4 72.2h0M229.2 85.7h0M219.0 53.8h0M227.0 38.8h0M233.1 68.2h0M230.8 82.1h0M226.8 40.2h0" stroke="#2e1258" stroke-width="0.7" stroke-linecap="square" fill="none" opacity="0.55"/>
<path d="M212.0 84.5 C210.5 80 211.2 74 213.2 71 C214.8 69.2 216.6 70.5 217.6 73.5 C219 77.5 221.5 82 222.0 84.5 C222.2 86.3 219 86.8 216 86.6 C213.5 86.4 212.4 85.8 212.0 84.5 Z" fill="url(#gblob2)"/>
<path d="M217 40.4 L256 40.4 L256 85.4 L229.6 85.4 L217 60.5 Z" fill="none" stroke="#5b3f8c" stroke-width="0.8"/>
<line x1="202.60" y1="95.00" x2="202.60" y2="71.50" stroke="#111" stroke-width="0.8"/>
<path d="M201 72 L202.6 68.5 L204.2 72 Z" fill="#111"/>
<line x1="202.20" y1="94.60" x2="227.50" y2="94.60" stroke="#111" stroke-width="0.8"/>
<path d="M227 93 L230.5 94.6 L227 96.2 Z" fill="#111"/>
<text x="199.80" y="92.00" font-size="7.1" fill="#231f20" stroke="#231f20" stroke-width="0.18" textLength="12.50" lengthAdjust="spacingAndGlyphs" transform="rotate(-90 199.80 92.00)">CD5</text>
<text x="203.40" y="104.30" font-size="7.1" fill="#231f20" stroke="#231f20" stroke-width="0.18" textLength="12.40" lengthAdjust="spacingAndGlyphs">CD3</text>
<path d="M260.3 59.4 L268.0 62.6 L260.3 65.9 Z" fill="#2e1660"/>
<text x="274.20" y="58.10" font-size="7.2" fill="#553a8f" stroke="#553a8f" stroke-width="0.18" textLength="28.00" lengthAdjust="spacingAndGlyphs">FlowSOM</text>
<text x="274.20" y="65.00" font-size="7.2" fill="#553a8f" stroke="#553a8f" stroke-width="0.18" textLength="25.00" lengthAdjust="spacingAndGlyphs">analysis</text>
<text x="274.20" y="72.30" font-size="7.2" fill="#553a8f" stroke="#553a8f" stroke-width="0.18" textLength="28.00" lengthAdjust="spacingAndGlyphs">of T cells</text>
<path d="M312.8 46.0 C312.5 43.5 314.5 42.0 317 41.6 L322.5 40.4 C328 39.5 331.5 38.5 331.5 34.5 C330 28 327.3 20 327.6 15 C328 11 330.5 9.3 333.5 9.3 C336.5 9.4 338.3 11.2 339.2 13.8 C341 19 343.5 26 346 31 C347.5 34.5 350 36.6 352.5 36.4 C355 36 356.5 33.5 359 31.6 C360.5 29.6 362.5 28.7 364.3 29.0 C366.6 29.5 367.6 31.8 367.2 34.0 C367 35.8 368.2 37.5 369.8 36.8 C372 35.5 373.6 32.8 376.2 32.2 C378.8 31.8 380.6 34.0 380.0 36.6 C379.2 40.0 377.0 43.5 374.6 46.8 C371.5 51 368 55.5 363.5 58.0 C359.5 60.0 355.5 60.2 352.0 58.6 C347.5 56.5 344 53.0 338.5 52.0 C330 50.8 322 52.2 316.5 51.0 C314.2 50.4 313.0 48.5 312.8 46.0 Z" fill="#fff" stroke="#8a8a8a" stroke-width="0.6"/>
<path d="M341.5 66 C343 61.5 348 59.6 354 59.8 C362 60.0 368 59.0 373.5 62.5 C378 65.5 383.5 70.5 385.8 77 C387.5 83 386.5 88.5 382.5 91.5 C377 94.5 369 93.8 362.5 94.8 C357 95.8 352 98.0 348.5 96.5 C344 94.0 342.5 88.5 341.5 83 C340.5 77 340.5 71 341.5 66 Z" fill="#fff" stroke="#8a8a8a" stroke-width="0.6"/>
<path d="M370.5 56.5 C372 52.5 376 50.5 380 49.6 C384.5 48.8 388 50.5 389.2 54.0 C390.4 58 391.2 63 390.8 68.5 C390.4 73.5 388.0 76.5 384.5 76.2 C380 75.8 377 72.5 374.0 68.5 C371.5 65 369.5 60.5 370.5 56.5 Z" fill="#fff" stroke="#8a8a8a" stroke-width="0.6"/>
<circle cx="393.8" cy="58.2" r="4.0" fill="#fff" stroke="#8a8a8a" stroke-width="0.6"/>
<path d="M332.3 16.8 L337.5 31 L341.9 46.5 L349 50.3 L356.6 57" fill="none" stroke="#4df04d" stroke-width="5.04" stroke-linecap="round" stroke-linejoin="round" opacity="0.83" filter="url(#blur1)"/>
<path d="M332.3 16.8 L335 24" fill="none" stroke="#c8f05a" stroke-width="4.80" stroke-linecap="round" stroke-linejoin="round" opacity="0.83" filter="url(#blur1)"/>
<path d="M322 47 L336 47.2" fill="none" stroke="#f8845a" stroke-width="5.52" stroke-linecap="round" stroke-linejoin="round" opacity="0.99" filter="url(#blur1)"/>
<path d="M317.5 46.5 L319 46.6" fill="none" stroke="#30e0f0" stroke-width="6.00" stroke-linecap="round" stroke-linejoin="round" opacity="0.99" filter="url(#blur1)"/>
<path d="M374.7 37 L369 45.7 L363 52.6" fill="none" stroke="#f0ee55" stroke-width="5.04" stroke-linecap="round" stroke-linejoin="round" opacity="0.83" filter="url(#blur1)"/>
<path d="M358.6 37 L362 38.7 L359.5 41.3" fill="none" stroke="#f25a7a" stroke-width="5.40" stroke-linecap="round" stroke-linejoin="round" opacity="0.83" filter="url(#blur1)"/>
<path d="M363.8 33.6 L364 34" fill="none" stroke="#40e0f0" stroke-width="5.52" stroke-linecap="round" stroke-linejoin="round" opacity="0.83" filter="url(#blur1)"/>
<path d="M358.6 45.7 L357.8 50 L357 56" fill="none" stroke="#f0d04a" stroke-width="4.20" stroke-linecap="round" stroke-linejoin="round" opacity="0.83" filter="url(#blur1)"/>
<path d="M373 56 L381 55 L386 62 L387 71 M376 63 L383 66" fill="none" stroke="#e545e0" stroke-width="5.40" stroke-linecap="round" stroke-linejoin="round" opacity="0.88" filter="url(#blur1)"/>
<path d="M345 74 L346 70" fill="none" stroke="#e040d0" stroke-width="4.20" stroke-linecap="round" stroke-linejoin="round" opacity="0.77" filter="url(#blur1)"/>
<path d="M348 64 L350 63" fill="none" stroke="#40e0f0" stroke-width="4.20" stroke-linecap="round" stroke-linejoin="round" opacity="0.77" filter="url(#blur1)"/>
<path d="M392.5 58 L395 58" fill="none" stroke="#8080ff" stroke-width="4.20" stroke-linecap="round" stroke-linejoin="round" opacity="0.77" filter="url(#blur1)"/>
<path d="M370.3 84.7h0M347.1 75.9h0M364.3 68.9h0M367.2 79.4h0M356.9 90.3h0M375.9 66.1h0M370.1 65.1h0M354.2 67.9h0M367.0 82.7h0M380.9 70.6h0M360.1 66.3h0M357.8 80.3h0M359.2 70.9h0M377.9 76.4h0M358.3 76.4h0M375.2 88.0h0M366.5 85.8h0M350.2 84.9h0M349.6 71.9h0M369.8 90.4h0M367.3 71.0h0M363.8 74.5h0M350.2 74.9h0M360.1 86.2h0M376.2 83.2h0M371.3 79.6h0M355.8 82.5h0M379.9 83.0h0M382.6 76.3h0M376.4 79.6h0M372.0 74.5h0M363.2 81.8h0M360.6 62.2h0M350.2 79.1h0M362.2 71.2h0M356.4 66.0h0M375.7 70.6h0M363.8 90.3h0M379.2 67.3h0M355.0 87.2h0M369.4 76.7h0M366.2 65.3h0M355.1 72.9h0M369.2 68.6h0M374.9 73.7h0M352.3 70.2h0M355.2 76.4h0M360.4 91.0h0M372.8 82.6h0M361.7 78.0h0M381.9 80.1h0M355.6 63.0h0M363.2 87.1h0M373.9 63.3h0M352.5 81.2h0M349.9 67.2h0M370.8 62.2h0M374.5 77.2h0M365.3 61.0h0M372.9 67.9h0M378.8 72.7h0M372.8 71.5h0" stroke="#2f48ee" stroke-width="5.4" stroke-linecap="round" fill="none" opacity="0.7" filter="url(#blur05)"/>
<path d="M347.5 87.8h0M350.5 88.3h0M348.8 91.2h0M351.8 92.0h0M350.2 94.8h0" stroke="#f0508a" stroke-width="5.0" stroke-linecap="round" fill="none" opacity="0.55" filter="url(#blur05)"/>
<circle cx="332.3" cy="16.8" r="1.55" fill="#cc7a1e" stroke="#8a4a10" stroke-width="0.3"/>
<circle cx="333.5" cy="20.2" r="1.55" fill="#cc7a1e" stroke="#8a4a10" stroke-width="0.3"/>
<circle cx="334.8" cy="23.7" r="1.55" fill="#cc7a1e" stroke="#8a4a10" stroke-width="0.3"/>
<circle cx="336.1" cy="27.1" r="1.55" fill="#cc7a1e" stroke="#8a4a10" stroke-width="0.3"/>
<circle cx="337.5" cy="31.0" r="1.55" fill="#cc7a1e" stroke="#8a4a10" stroke-width="0.3"/>
<circle cx="338.7" cy="34.4" r="1.55" fill="#cc7a1e" stroke="#8a4a10" stroke-width="0.3"/>
<circle cx="339.6" cy="37.9" r="1.55" fill="#cc7a1e" stroke="#8a4a10" stroke-width="0.3"/>
<circle cx="340.5" cy="41.3" r="1.55" fill="#cc7a1e" stroke="#8a4a10" stroke-width="0.3"/>
<circle cx="341.9" cy="46.5" r="1.55" fill="#cc7a1e" stroke="#8a4a10" stroke-width="0.3"/>
<circle cx="317.5" cy="46.5" r="1.55" fill="#cc7a1e" stroke="#8a4a10" stroke-width="0.3"/>
<circle cx="322.0" cy="46.9" r="1.55" fill="#cc7a1e" stroke="#8a4a10" stroke-width="0.3"/>
<circle cx="325.8" cy="47.4" r="1.55" fill="#cc7a1e" stroke="#8a4a10" stroke-width="0.3"/>
<circle cx="329.2" cy="47.4" r="1.55" fill="#cc7a1e" stroke="#8a4a10" stroke-width="0.3"/>
<circle cx="332.7" cy="47.4" r="1.55" fill="#cc7a1e" stroke="#8a4a10" stroke-width="0.3"/>
<circle cx="337.0" cy="47.3" r="1.55" fill="#cc7a1e" stroke="#8a4a10" stroke-width="0.3"/>
<circle cx="345.5" cy="46.2" r="1.55" fill="#cc7a1e" stroke="#8a4a10" stroke-width="0.3"/>
<circle cx="349.0" cy="50.3" r="1.55" fill="#cc7a1e" stroke="#8a4a10" stroke-width="0.3"/>
<circle cx="352.6" cy="51.7" r="1.55" fill="#cc7a1e" stroke="#8a4a10" stroke-width="0.3"/>
<circle cx="356.0" cy="54.3" r="1.55" fill="#cc7a1e" stroke="#8a4a10" stroke-width="0.3"/>
<circle cx="356.6" cy="57.5" r="1.55" fill="#cc7a1e" stroke="#8a4a10" stroke-width="0.3"/>
<circle cx="374.7" cy="37.0" r="1.55" fill="#cc7a1e" stroke="#8a4a10" stroke-width="0.3"/>
<circle cx="372.5" cy="41.3" r="1.55" fill="#cc7a1e" stroke="#8a4a10" stroke-width="0.3"/>
<circle cx="369.5" cy="45.5" r="1.55" fill="#cc7a1e" stroke="#8a4a10" stroke-width="0.3"/>
<circle cx="366.4" cy="50.3" r="1.55" fill="#cc7a1e" stroke="#8a4a10" stroke-width="0.3"/>
<circle cx="363.0" cy="52.6" r="1.55" fill="#cc7a1e" stroke="#8a4a10" stroke-width="0.3"/>
<circle cx="358.6" cy="37.0" r="1.55" fill="#cc7a1e" stroke="#8a4a10" stroke-width="0.3"/>
<circle cx="362.0" cy="38.7" r="1.55" fill="#cc7a1e" stroke="#8a4a10" stroke-width="0.3"/>
<circle cx="359.5" cy="41.3" r="1.55" fill="#cc7a1e" stroke="#8a4a10" stroke-width="0.3"/>
<circle cx="358.6" cy="45.7" r="1.55" fill="#cc7a1e" stroke="#8a4a10" stroke-width="0.3"/>
<circle cx="357.8" cy="50.0" r="1.55" fill="#cc7a1e" stroke="#8a4a10" stroke-width="0.3"/>
<circle cx="363.8" cy="34.2" r="1.55" fill="#cc7a1e" stroke="#8a4a10" stroke-width="0.3"/>
<circle cx="370.3" cy="84.7" r="1.55" fill="#cc7a1e" stroke="#8a4a10" stroke-width="0.3"/>
<circle cx="347.1" cy="75.9" r="1.55" fill="#cc7a1e" stroke="#8a4a10" stroke-width="0.3"/>
<circle cx="364.3" cy="68.9" r="1.55" fill="#cc7a1e" stroke="#8a4a10" stroke-width="0.3"/>
<circle cx="367.2" cy="79.4" r="1.55" fill="#cc7a1e" stroke="#8a4a10" stroke-width="0.3"/>
<circle cx="356.9" cy="90.3" r="1.55" fill="#cc7a1e" stroke="#8a4a10" stroke-width="0.3"/>
<circle cx="375.9" cy="66.1" r="1.55" fill="#cc7a1e" stroke="#8a4a10" stroke-width="0.3"/>
<circle cx="370.1" cy="65.1" r="1.55" fill="#cc7a1e" stroke="#8a4a10" stroke-width="0.3"/>
<circle cx="354.2" cy="67.9" r="1.55" fill="#cc7a1e" stroke="#8a4a10" stroke-width="0.3"/>
<circle cx="367.0" cy="82.7" r="1.55" fill="#cc7a1e" stroke="#8a4a10" stroke-width="0.3"/>
<circle cx="380.9" cy="70.6" r="1.55" fill="#cc7a1e" stroke="#8a4a10" stroke-width="0.3"/>
<circle cx="360.1" cy="66.3" r="1.55" fill="#cc7a1e" stroke="#8a4a10" stroke-width="0.3"/>
<circle cx="357.8" cy="80.3" r="1.55" fill="#cc7a1e" stroke="#8a4a10" stroke-width="0.3"/>
<circle cx="359.2" cy="70.9" r="1.55" fill="#cc7a1e" stroke="#8a4a10" stroke-width="0.3"/>
<circle cx="377.9" cy="76.4" r="1.55" fill="#cc7a1e" stroke="#8a4a10" stroke-width="0.3"/>
<circle cx="358.3" cy="76.4" r="1.55" fill="#cc7a1e" stroke="#8a4a10" stroke-width="0.3"/>
<circle cx="375.2" cy="88.0" r="1.55" fill="#cc7a1e" stroke="#8a4a10" stroke-width="0.3"/>
<circle cx="366.5" cy="85.8" r="1.55" fill="#cc7a1e" stroke="#8a4a10" stroke-width="0.3"/>
<circle cx="350.2" cy="84.9" r="1.55" fill="#cc7a1e" stroke="#8a4a10" stroke-width="0.3"/>
<circle cx="349.6" cy="71.9" r="1.55" fill="#cc7a1e" stroke="#8a4a10" stroke-width="0.3"/>
<circle cx="369.8" cy="90.4" r="1.55" fill="#cc7a1e" stroke="#8a4a10" stroke-width="0.3"/>
<circle cx="367.3" cy="71.0" r="1.55" fill="#cc7a1e" stroke="#8a4a10" stroke-width="0.3"/>
<circle cx="363.8" cy="74.5" r="1.55" fill="#cc7a1e" stroke="#8a4a10" stroke-width="0.3"/>
<circle cx="350.2" cy="74.9" r="1.55" fill="#cc7a1e" stroke="#8a4a10" stroke-width="0.3"/>
<circle cx="360.1" cy="86.2" r="1.55" fill="#cc7a1e" stroke="#8a4a10" stroke-width="0.3"/>
<circle cx="376.2" cy="83.2" r="1.55" fill="#cc7a1e" stroke="#8a4a10" stroke-width="0.3"/>
<circle cx="371.3" cy="79.6" r="1.55" fill="#cc7a1e" stroke="#8a4a10" stroke-width="0.3"/>
<circle cx="355.8" cy="82.5" r="1.55" fill="#cc7a1e" stroke="#8a4a10" stroke-width="0.3"/>
<circle cx="379.9" cy="83.0" r="1.55" fill="#cc7a1e" stroke="#8a4a10" stroke-width="0.3"/>
<circle cx="382.6" cy="76.3" r="1.55" fill="#cc7a1e" stroke="#8a4a10" stroke-width="0.3"/>
<circle cx="376.4" cy="79.6" r="1.55" fill="#cc7a1e" stroke="#8a4a10" stroke-width="0.3"/>
<circle cx="372.0" cy="74.5" r="1.55" fill="#cc7a1e" stroke="#8a4a10" stroke-width="0.3"/>
<circle cx="363.2" cy="81.8" r="1.55" fill="#cc7a1e" stroke="#8a4a10" stroke-width="0.3"/>
<circle cx="360.6" cy="62.2" r="1.55" fill="#cc7a1e" stroke="#8a4a10" stroke-width="0.3"/>
<circle cx="350.2" cy="79.1" r="1.55" fill="#cc7a1e" stroke="#8a4a10" stroke-width="0.3"/>
<circle cx="362.2" cy="71.2" r="1.55" fill="#cc7a1e" stroke="#8a4a10" stroke-width="0.3"/>
<circle cx="356.4" cy="66.0" r="1.55" fill="#cc7a1e" stroke="#8a4a10" stroke-width="0.3"/>
<circle cx="375.7" cy="70.6" r="1.55" fill="#cc7a1e" stroke="#8a4a10" stroke-width="0.3"/>
<circle cx="363.8" cy="90.3" r="1.55" fill="#cc7a1e" stroke="#8a4a10" stroke-width="0.3"/>
<circle cx="379.2" cy="67.3" r="1.55" fill="#cc7a1e" stroke="#8a4a10" stroke-width="0.3"/>
<circle cx="355.0" cy="87.2" r="1.55" fill="#cc7a1e" stroke="#8a4a10" stroke-width="0.3"/>
<circle cx="369.4" cy="76.7" r="1.55" fill="#cc7a1e" stroke="#8a4a10" stroke-width="0.3"/>
<circle cx="366.2" cy="65.3" r="1.55" fill="#cc7a1e" stroke="#8a4a10" stroke-width="0.3"/>
<circle cx="355.1" cy="72.9" r="1.55" fill="#cc7a1e" stroke="#8a4a10" stroke-width="0.3"/>
<circle cx="369.2" cy="68.6" r="1.55" fill="#cc7a1e" stroke="#8a4a10" stroke-width="0.3"/>
<circle cx="374.9" cy="73.7" r="1.55" fill="#cc7a1e" stroke="#8a4a10" stroke-width="0.3"/>
<circle cx="352.3" cy="70.2" r="1.55" fill="#cc7a1e" stroke="#8a4a10" stroke-width="0.3"/>
<circle cx="355.2" cy="76.4" r="1.55" fill="#cc7a1e" stroke="#8a4a10" stroke-width="0.3"/>
<circle cx="360.4" cy="91.0" r="1.55" fill="#cc7a1e" stroke="#8a4a10" stroke-width="0.3"/>
<circle cx="372.8" cy="82.6" r="1.55" fill="#cc7a1e" stroke="#8a4a10" stroke-width="0.3"/>
<circle cx="361.7" cy="78.0" r="1.55" fill="#cc7a1e" stroke="#8a4a10" stroke-width="0.3"/>
<circle cx="381.9" cy="80.1" r="1.55" fill="#cc7a1e" stroke="#8a4a10" stroke-width="0.3"/>
<circle cx="355.6" cy="63.0" r="1.55" fill="#cc7a1e" stroke="#8a4a10" stroke-width="0.3"/>
<circle cx="363.2" cy="87.1" r="1.55" fill="#cc7a1e" stroke="#8a4a10" stroke-width="0.3"/>
<circle cx="373.9" cy="63.3" r="1.55" fill="#cc7a1e" stroke="#8a4a10" stroke-width="0.3"/>
<circle cx="352.5" cy="81.2" r="1.55" fill="#cc7a1e" stroke="#8a4a10" stroke-width="0.3"/>
<circle cx="349.9" cy="67.2" r="1.55" fill="#cc7a1e" stroke="#8a4a10" stroke-width="0.3"/>
<circle cx="370.8" cy="62.2" r="1.55" fill="#cc7a1e" stroke="#8a4a10" stroke-width="0.3"/>
<circle cx="374.5" cy="77.2" r="1.55" fill="#cc7a1e" stroke="#8a4a10" stroke-width="0.3"/>
<circle cx="365.3" cy="61.0" r="1.55" fill="#cc7a1e" stroke="#8a4a10" stroke-width="0.3"/>
<circle cx="372.9" cy="67.9" r="1.55" fill="#cc7a1e" stroke="#8a4a10" stroke-width="0.3"/>
<circle cx="378.8" cy="72.7" r="1.55" fill="#cc7a1e" stroke="#8a4a10" stroke-width="0.3"/>
<circle cx="372.8" cy="71.5" r="1.55" fill="#cc7a1e" stroke="#8a4a10" stroke-width="0.3"/>
<circle cx="347.5" cy="87.8" r="1.55" fill="#cc7a1e" stroke="#8a4a10" stroke-width="0.3"/>
<circle cx="350.5" cy="88.3" r="1.55" fill="#cc7a1e" stroke="#8a4a10" stroke-width="0.3"/>
<circle cx="348.8" cy="91.2" r="1.55" fill="#cc7a1e" stroke="#8a4a10" stroke-width="0.3"/>
<circle cx="351.8" cy="92.0" r="1.55" fill="#cc7a1e" stroke="#8a4a10" stroke-width="0.3"/>
<circle cx="350.2" cy="94.8" r="1.55" fill="#cc7a1e" stroke="#8a4a10" stroke-width="0.3"/>
<circle cx="374.0" cy="55.5" r="1.55" fill="#cc7a1e" stroke="#8a4a10" stroke-width="0.3"/>
<circle cx="377.5" cy="53.5" r="1.55" fill="#cc7a1e" stroke="#8a4a10" stroke-width="0.3"/>
<circle cx="381.0" cy="55.0" r="1.55" fill="#cc7a1e" stroke="#8a4a10" stroke-width="0.3"/>
<circle cx="384.0" cy="57.5" r="1.55" fill="#cc7a1e" stroke="#8a4a10" stroke-width="0.3"/>
<circle cx="386.5" cy="61.0" r="1.55" fill="#cc7a1e" stroke="#8a4a10" stroke-width="0.3"/>
<circle cx="387.5" cy="65.0" r="1.55" fill="#cc7a1e" stroke="#8a4a10" stroke-width="0.3"/>
<circle cx="386.5" cy="69.0" r="1.55" fill="#cc7a1e" stroke="#8a4a10" stroke-width="0.3"/>
<circle cx="384.5" cy="72.5" r="1.55" fill="#cc7a1e" stroke="#8a4a10" stroke-width="0.3"/>
<circle cx="377.0" cy="59.0" r="1.55" fill="#cc7a1e" stroke="#8a4a10" stroke-width="0.3"/>
<circle cx="380.5" cy="61.5" r="1.55" fill="#cc7a1e" stroke="#8a4a10" stroke-width="0.3"/>
<circle cx="383.0" cy="64.5" r="1.55" fill="#cc7a1e" stroke="#8a4a10" stroke-width="0.3"/>
<circle cx="379.0" cy="66.5" r="1.55" fill="#cc7a1e" stroke="#8a4a10" stroke-width="0.3"/>
<circle cx="392.3" cy="58.3" r="1.55" fill="#cc7a1e" stroke="#8a4a10" stroke-width="0.3"/>
<circle cx="395.3" cy="58.0" r="1.55" fill="#cc7a1e" stroke="#8a4a10" stroke-width="0.3"/>
<text x="299.00" y="38.20" font-size="7.1" fill="#231f20" stroke="#231f20" stroke-width="0.18" textLength="31.60" lengthAdjust="spacingAndGlyphs">CD4 T cells</text>
<text x="357.00" y="28.70" font-size="7.1" fill="#231f20" stroke="#231f20" stroke-width="0.18" textLength="27.60" lengthAdjust="spacingAndGlyphs">DP T cells</text>
<text x="382.60" y="45.40" font-size="7.1" fill="#231f20" stroke="#231f20" stroke-width="0.18" textLength="29.50" lengthAdjust="spacingAndGlyphs">DN T cells</text>
<text x="390.00" y="52.30" font-size="7.1" fill="#231f20" stroke="#231f20" stroke-width="0.18" textLength="29.00" lengthAdjust="spacingAndGlyphs">MAIT cells</text>
<text x="393.80" y="72.30" font-size="7.1" fill="#231f20" stroke="#231f20" stroke-width="0.18" textLength="24.50" lengthAdjust="spacingAndGlyphs">γδ T cells</text>
<text x="361.00" y="103.00" font-size="7.1" fill="#231f20" stroke="#231f20" stroke-width="0.18" textLength="32.00" lengthAdjust="spacingAndGlyphs">CD8 T cells</text>
<path d="M423.0 59.8 L430.4 62.6 L423.0 65.4 Z" fill="#2e1660"/>
<text x="431.60" y="64.80" font-size="7.3" fill="#553a8f" stroke="#553a8f" stroke-width="0.18" textLength="81.40" lengthAdjust="spacingAndGlyphs">Clusters relative abundances</text>
<circle cx="433.00" cy="69.20" r="0.90" fill="#553a8f"/>
<text x="436.20" y="71.50" font-size="7.3" fill="#553a8f" stroke="#553a8f" stroke-width="0.18" textLength="54.60" lengthAdjust="spacingAndGlyphs">among total T cells</text>
<circle cx="433.00" cy="75.90" r="0.90" fill="#553a8f"/>
<text x="436.20" y="78.00" font-size="7.3" fill="#553a8f" stroke="#553a8f" stroke-width="0.18" textLength="73.80" lengthAdjust="spacingAndGlyphs">among the corresponding</text>
<text x="436.20" y="84.70" font-size="7.3" fill="#553a8f" stroke="#553a8f" stroke-width="0.18" textLength="37.40" lengthAdjust="spacingAndGlyphs">compartment</text>
<text x="435.20" y="92.20" font-size="7.3" fill="#553a8f" stroke="#553a8f" stroke-width="0.18" textLength="57.60" lengthAdjust="spacingAndGlyphs">(CD4 or CD8 T cells)</text>
<text x="6.50" y="124.20" font-size="11.5" fill="#000" font-weight="bold">C</text>
<rect x="40.70" y="196.10" width="126.00" height="39.10" fill="#dae3ed"/>
<line x1="40.70" y1="141.00" x2="40.70" y2="235.60" stroke="#231f20" stroke-width="0.8"/>
<line x1="38.60" y1="144.15" x2="40.70" y2="144.15" stroke="#231f20" stroke-width="0.7"/>
<line x1="38.60" y1="174.50" x2="40.70" y2="174.50" stroke="#231f20" stroke-width="0.7"/>
<line x1="38.60" y1="204.85" x2="40.70" y2="204.85" stroke="#231f20" stroke-width="0.7"/>
<line x1="38.60" y1="235.20" x2="40.70" y2="235.20" stroke="#231f20" stroke-width="0.7"/>
<line x1="39.60" y1="153.29" x2="40.70" y2="153.29" stroke="#231f20" stroke-width="0.4"/>
<line x1="39.60" y1="158.63" x2="40.70" y2="158.63" stroke="#231f20" stroke-width="0.4"/>
<line x1="39.60" y1="162.42" x2="40.70" y2="162.42" stroke="#231f20" stroke-width="0.4"/>
<line x1="39.60" y1="165.36" x2="40.70" y2="165.36" stroke="#231f20" stroke-width="0.4"/>
<line x1="39.60" y1="167.77" x2="40.70" y2="167.77" stroke="#231f20" stroke-width="0.4"/>
<line x1="39.60" y1="169.80" x2="40.70" y2="169.80" stroke="#231f20" stroke-width="0.4"/>
<line x1="39.60" y1="171.56" x2="40.70" y2="171.56" stroke="#231f20" stroke-width="0.4"/>
<line x1="39.60" y1="173.11" x2="40.70" y2="173.11" stroke="#231f20" stroke-width="0.4"/>
<line x1="39.60" y1="183.64" x2="40.70" y2="183.64" stroke="#231f20" stroke-width="0.4"/>
<line x1="39.60" y1="188.98" x2="40.70" y2="188.98" stroke="#231f20" stroke-width="0.4"/>
<line x1="39.60" y1="192.77" x2="40.70" y2="192.77" stroke="#231f20" stroke-width="0.4"/>
<line x1="39.60" y1="195.71" x2="40.70" y2="195.71" stroke="#231f20" stroke-width="0.4"/>
<line x1="39.60" y1="198.12" x2="40.70" y2="198.12" stroke="#231f20" stroke-width="0.4"/>
<line x1="39.60" y1="200.15" x2="40.70" y2="200.15" stroke="#231f20" stroke-width="0.4"/>
<line x1="39.60" y1="201.91" x2="40.70" y2="201.91" stroke="#231f20" stroke-width="0.4"/>
<line x1="39.60" y1="203.46" x2="40.70" y2="203.46" stroke="#231f20" stroke-width="0.4"/>
<line x1="39.60" y1="213.99" x2="40.70" y2="213.99" stroke="#231f20" stroke-width="0.4"/>
<line x1="39.60" y1="219.33" x2="40.70" y2="219.33" stroke="#231f20" stroke-width="0.4"/>
<line x1="39.60" y1="223.12" x2="40.70" y2="223.12" stroke="#231f20" stroke-width="0.4"/>
<line x1="39.60" y1="226.06" x2="40.70" y2="226.06" stroke="#231f20" stroke-width="0.4"/>
<line x1="39.60" y1="228.47" x2="40.70" y2="228.47" stroke="#231f20" stroke-width="0.4"/>
<line x1="39.60" y1="230.50" x2="40.70" y2="230.50" stroke="#231f20" stroke-width="0.4"/>
<line x1="39.60" y1="232.26" x2="40.70" y2="232.26" stroke="#231f20" stroke-width="0.4"/>
<line x1="39.60" y1="233.81" x2="40.70" y2="233.81" stroke="#231f20" stroke-width="0.4"/>
<line x1="38.60" y1="196.10" x2="40.70" y2="196.10" stroke="#231f20" stroke-width="0.6"/>
<text x="35.60" y="146.00" font-size="6.8" fill="#333" stroke="#333" stroke-width="0.18" text-anchor="end" textLength="15.40" lengthAdjust="spacingAndGlyphs">0.001</text>
<text x="35.60" y="176.30" font-size="6.8" fill="#333" stroke="#333" stroke-width="0.18" text-anchor="end" textLength="12.00" lengthAdjust="spacingAndGlyphs">0.01</text>
<text x="35.60" y="197.60" font-size="6.8" fill="#111" text-anchor="end" font-weight="bold" textLength="13.30" lengthAdjust="spacingAndGlyphs">0.05</text>
<text x="35.60" y="206.70" font-size="6.8" fill="#333" stroke="#333" stroke-width="0.18" text-anchor="end" textLength="8.60" lengthAdjust="spacingAndGlyphs">0.1</text>
<text x="35.60" y="237.20" font-size="6.8" fill="#333" stroke="#333" stroke-width="0.18" text-anchor="end" textLength="2.60" lengthAdjust="spacingAndGlyphs">1</text>
<text x="13.80" y="198.40" font-size="7.0" fill="#333" stroke="#333" stroke-width="0.18" textLength="21.50" lengthAdjust="spacingAndGlyphs" transform="rotate(-90 13.80 198.40)">p value</text>
<line x1="40.30" y1="235.60" x2="138.50" y2="235.60" stroke="#231f20" stroke-width="0.8"/>
<line x1="141.20" y1="235.60" x2="166.70" y2="235.60" stroke="#231f20" stroke-width="0.8"/>
<line x1="40.40" y1="235.60" x2="40.40" y2="238.00" stroke="#231f20" stroke-width="0.7"/>
<line x1="75.60" y1="235.60" x2="75.60" y2="238.00" stroke="#231f20" stroke-width="0.7"/>
<line x1="110.80" y1="235.60" x2="110.80" y2="238.00" stroke="#231f20" stroke-width="0.7"/>
<line x1="47.44" y1="235.60" x2="47.44" y2="237.00" stroke="#231f20" stroke-width="0.4"/>
<line x1="54.48" y1="235.60" x2="54.48" y2="237.00" stroke="#231f20" stroke-width="0.4"/>
<line x1="61.52" y1="235.60" x2="61.52" y2="237.00" stroke="#231f20" stroke-width="0.4"/>
<line x1="68.56" y1="235.60" x2="68.56" y2="237.00" stroke="#231f20" stroke-width="0.4"/>
<line x1="82.64" y1="235.60" x2="82.64" y2="237.00" stroke="#231f20" stroke-width="0.4"/>
<line x1="89.68" y1="235.60" x2="89.68" y2="237.00" stroke="#231f20" stroke-width="0.4"/>
<line x1="96.72" y1="235.60" x2="96.72" y2="237.00" stroke="#231f20" stroke-width="0.4"/>
<line x1="103.76" y1="235.60" x2="103.76" y2="237.00" stroke="#231f20" stroke-width="0.4"/>
<line x1="117.84" y1="235.60" x2="117.84" y2="237.00" stroke="#231f20" stroke-width="0.4"/>
<line x1="143.80" y1="235.60" x2="143.80" y2="238.00" stroke="#231f20" stroke-width="0.7"/>
<line x1="145.76" y1="235.60" x2="145.76" y2="237.00" stroke="#231f20" stroke-width="0.4"/>
<line x1="147.72" y1="235.60" x2="147.72" y2="237.00" stroke="#231f20" stroke-width="0.4"/>
<line x1="149.68" y1="235.60" x2="149.68" y2="237.00" stroke="#231f20" stroke-width="0.4"/>
<line x1="151.64" y1="235.60" x2="151.64" y2="237.00" stroke="#231f20" stroke-width="0.4"/>
<line x1="153.60" y1="235.60" x2="153.60" y2="238.00" stroke="#231f20" stroke-width="0.7"/>
<line x1="155.56" y1="235.60" x2="155.56" y2="237.00" stroke="#231f20" stroke-width="0.4"/>
<line x1="157.52" y1="235.60" x2="157.52" y2="237.00" stroke="#231f20" stroke-width="0.4"/>
<line x1="159.48" y1="235.60" x2="159.48" y2="237.00" stroke="#231f20" stroke-width="0.4"/>
<line x1="161.44" y1="235.60" x2="161.44" y2="237.00" stroke="#231f20" stroke-width="0.4"/>
<line x1="163.40" y1="235.60" x2="163.40" y2="238.00" stroke="#231f20" stroke-width="0.7"/>
<text x="38.90" y="246.40" font-size="6.8" fill="#333" stroke="#333" stroke-width="0.18" text-anchor="middle" textLength="13.90" lengthAdjust="spacingAndGlyphs">−100</text>
<text x="75.30" y="246.40" font-size="6.8" fill="#333" stroke="#333" stroke-width="0.18" text-anchor="middle">0</text>
<text x="110.50" y="246.40" font-size="6.8" fill="#333" stroke="#333" stroke-width="0.18" text-anchor="middle" textLength="10.50" lengthAdjust="spacingAndGlyphs">100</text>
<text x="148.60" y="245.60" font-size="6.1" fill="#333" stroke="#333" stroke-width="0.18" text-anchor="end" transform="rotate(-45 148.60 245.60)">200</text>
<text x="158.40" y="245.60" font-size="6.1" fill="#333" stroke="#333" stroke-width="0.18" text-anchor="end" transform="rotate(-45 158.40 245.60)">250</text>
<text x="168.20" y="245.60" font-size="6.1" fill="#333" stroke="#333" stroke-width="0.18" text-anchor="end" transform="rotate(-45 168.20 245.60)">300</text>
<text x="104.90" y="265.00" font-size="7.2" fill="#333" stroke="#333" stroke-width="0.18" text-anchor="middle" textLength="82.70" lengthAdjust="spacingAndGlyphs">% Difference in relapsing vs.</text>
<text x="105.40" y="274.50" font-size="7.2" fill="#333" stroke="#333" stroke-width="0.18" text-anchor="middle" textLength="69.00" lengthAdjust="spacingAndGlyphs">non-relapsing patients</text>
<line x1="40.70" y1="196.10" x2="166.70" y2="196.10" stroke="#222" stroke-width="0.75" stroke-dasharray="2.0 1.4"/>
<line x1="70.10" y1="143.80" x2="70.10" y2="235.20" stroke="#222" stroke-width="0.75" stroke-dasharray="2.0 1.4"/>
<line x1="75.60" y1="143.80" x2="75.60" y2="235.20" stroke="#222" stroke-width="0.75" stroke-dasharray="2.0 1.4"/>
<line x1="81.00" y1="143.80" x2="81.00" y2="235.20" stroke="#222" stroke-width="0.75" stroke-dasharray="2.0 1.4"/>
<line x1="49.00" y1="145.60" x2="68.40" y2="145.60" stroke="#2a5c9a" stroke-width="1.5"/>
<path d="M44.8 145.6 L49.8 143.2 L49.8 148.0 Z" fill="#2a5c9a"/>
<line x1="82.70" y1="145.60" x2="102.00" y2="145.60" stroke="#c8203a" stroke-width="1.5"/>
<path d="M106.2 145.6 L101.2 143.2 L101.2 148.0 Z" fill="#c8203a"/>
<text x="44.10" y="140.70" font-size="6.9" fill="#2a5c9a" font-weight="bold" textLength="29.50" lengthAdjust="spacingAndGlyphs">Remission</text>
<text x="84.30" y="140.70" font-size="6.9" fill="#c8203a" font-weight="bold" textLength="22.90" lengthAdjust="spacingAndGlyphs">Relapse</text>
<path d="M63.0 233.8h0M70.0 233.8h0M77.1 231.6h0M84.7 234.4h0M53.2 229.6h0M78.9 210.0h0M71.9 227.1h0M73.5 227.9h0M93.5 233.1h0M68.6 224.2h0M89.6 211.8h0M67.7 224.9h0M64.2 232.7h0M84.0 221.8h0M69.7 223.1h0M84.7 229.0h0M64.9 215.1h0M105.7 215.3h0M47.4 226.2h0M44.2 218.1h0M82.8 218.0h0M92.1 225.3h0M87.7 231.3h0M67.9 225.7h0M80.4 209.8h0M70.4 234.1h0M59.7 206.9h0M91.8 230.5h0M72.7 234.1h0M71.2 228.9h0M80.7 224.6h0M78.4 224.0h0M67.0 228.8h0M80.3 217.4h0M54.5 226.3h0M57.5 231.5h0M63.6 220.9h0M71.3 234.2h0M70.9 234.1h0M70.3 233.8h0M52.2 224.1h0M80.6 213.5h0M87.5 232.2h0M75.5 217.5h0M84.4 232.1h0M79.7 231.4h0M67.7 234.4h0M70.3 234.1h0M63.7 233.9h0M65.4 227.4h0M79.3 233.0h0M88.4 221.7h0M82.6 215.9h0M88.1 221.4h0M82.2 230.6h0M79.8 225.4h0M69.4 225.4h0M80.6 230.1h0M63.7 234.0h0M64.7 230.3h0M78.3 232.4h0M69.8 224.7h0M64.2 221.8h0M85.7 213.3h0M70.7 215.6h0M70.4 230.4h0M85.6 232.2h0M74.0 233.7h0M63.1 209.2h0M72.6 231.8h0M66.1 229.5h0M86.3 232.4h0M72.5 224.3h0M74.8 230.2h0M53.8 233.0h0M79.0 223.3h0M76.5 216.5h0M73.9 232.3h0M71.3 228.6h0M54.8 233.6h0M78.0 234.2h0M98.8 229.0h0M91.6 225.1h0M79.2 230.5h0M85.0 232.9h0M78.1 230.2h0M89.8 223.3h0M77.2 230.4h0M74.9 230.0h0M63.5 223.5h0M65.0 233.5h0M59.8 221.1h0M56.9 233.3h0M62.9 232.6h0M89.7 209.2h0M69.6 226.5h0M86.6 228.2h0M96.9 215.4h0M57.3 218.3h0M71.9 234.0h0M73.3 233.6h0M90.4 228.6h0M92.8 233.7h0M81.6 228.4h0M95.5 211.9h0M68.7 234.1h0M56.8 230.8h0M80.8 224.8h0M71.3 233.3h0M65.8 234.0h0M97.5 222.9h0M65.0 232.1h0M83.6 232.0h0M53.2 229.3h0M89.3 213.0h0M57.5 216.1h0M73.6 229.6h0M72.5 223.0h0M57.0 232.2h0M72.0 231.6h0M69.7 231.6h0M88.3 214.4h0M70.2 230.8h0M61.7 234.0h0M75.0 232.7h0M77.1 231.1h0M89.2 229.0h0M72.1 225.0h0M81.6 218.5h0M69.0 224.6h0M70.0 221.4h0M73.8 231.2h0M57.5 210.4h0M49.0 233.6h0M80.4 232.2h0M45.5 226.7h0M69.2 213.8h0M83.0 226.6h0M83.8 230.7h0M92.0 233.5h0M61.6 232.7h0M50.1 228.3h0M67.7 234.3h0M70.2 232.9h0M81.6 208.0h0M70.2 233.9h0M55.2 231.6h0M55.0 226.4h0M98.6 219.0h0M69.0 230.1h0M76.2 215.1h0M79.1 228.0h0M89.9 215.8h0M92.8 232.5h0M70.4 233.8h0M58.8 231.6h0M63.4 234.3h0M80.9 213.1h0M72.1 230.1h0M56.9 227.8h0M64.8 234.2h0M66.9 222.7h0M80.3 233.8h0M61.0 230.6h0M77.0 233.6h0M74.2 228.5h0M66.1 234.2h0M46.5 217.5h0M67.2 233.1h0M66.3 233.7h0M73.3 233.9h0M105.6 223.2h0M56.5 228.5h0M64.4 214.9h0M80.5 230.4h0M72.7 234.1h0M65.9 219.4h0M62.3 232.9h0M84.9 227.3h0M72.7 222.6h0M59.5 230.0h0M72.0 223.9h0M70.4 229.2h0M84.9 224.9h0M72.7 210.2h0M67.5 227.4h0M64.5 224.3h0M104.2 221.7h0M62.5 220.4h0M76.9 234.3h0M79.4 229.8h0M59.5 215.9h0M70.2 226.2h0M76.7 230.3h0M106.4 223.7h0M58.8 233.9h0M80.0 234.3h0M86.5 228.3h0M82.0 232.5h0M82.2 232.6h0M73.7 233.3h0M73.0 229.9h0M80.8 232.3h0M70.8 234.3h0M77.0 220.7h0M77.4 231.6h0M66.0 226.9h0M78.2 233.8h0M58.4 225.5h0M70.9 225.2h0M71.7 215.0h0M81.4 217.5h0M77.3 233.8h0M76.2 234.0h0M84.2 207.1h0M68.6 231.2h0M52.8 227.0h0M67.2 225.0h0M65.5 232.1h0M84.4 213.5h0M71.3 210.9h0M81.7 232.8h0M75.2 225.8h0M72.0 231.9h0M56.0 223.1h0M62.5 230.3h0M86.5 226.2h0M81.1 231.0h0M81.2 228.7h0M87.6 209.2h0M63.1 224.6h0M82.4 232.8h0M91.8 230.7h0M81.2 232.8h0M66.5 230.7h0M85.2 231.3h0M76.4 227.7h0M56.7 230.6h0M75.9 228.6h0M74.7 233.2h0M78.3 207.3h0M74.3 233.4h0M70.0 233.4h0M92.4 229.4h0M54.7 224.2h0M68.0 234.3h0M51.5 228.1h0M61.9 226.6h0M45.7 203.3h0M49.2 206.4h0M44.6 217.0h0M54.5 218.5h0M109.0 209.4h0M131.1 209.4h0M120.7 223.1h0M145.8 221.5h0M159.5 233.9h0M132.0 227.6h0M119.6 217.0h0M96.7 214.0h0M61.5 207.9h0M102.0 204.8h0M110.1 220.0h0M114.3 226.1h0" stroke="#3d1d6e" stroke-width="1.65" stroke-linecap="round" fill="none"/>
<rect x="121.75" y="164.05" width="1.50" height="1.50" fill="#d6203c"/>
<rect x="142.05" y="180.75" width="1.50" height="1.50" fill="#d6203c"/>
<rect x="118.85" y="180.05" width="1.50" height="1.50" fill="#d6203c"/>
<rect x="126.05" y="182.65" width="1.50" height="1.50" fill="#d6203c"/>
<rect x="157.75" y="180.75" width="1.50" height="1.50" fill="#d6203c"/>
<rect x="103.85" y="196.45" width="1.50" height="1.50" fill="#d6203c"/>
<rect x="99.85" y="195.05" width="1.50" height="1.50" fill="#d6203c"/>
<rect x="128.25" y="198.05" width="1.50" height="1.50" fill="#d6203c"/>
<line x1="122.50" y1="159.50" x2="122.50" y2="163.50" stroke="#444" stroke-width="0.5"/>
<line x1="142.80" y1="168.50" x2="142.80" y2="180.00" stroke="#444" stroke-width="0.5"/>
<line x1="119.60" y1="177.00" x2="119.60" y2="179.80" stroke="#444" stroke-width="0.5"/>
<line x1="129.50" y1="193.50" x2="129.20" y2="197.80" stroke="#444" stroke-width="0.5"/>
<line x1="94.50" y1="191.00" x2="100.60" y2="195.30" stroke="#444" stroke-width="0.5"/>
<line x1="106.00" y1="187.50" x2="105.00" y2="196.60" stroke="#444" stroke-width="0.5"/>
<text x="123.70" y="158.00" font-size="6.8" fill="#333" stroke="#333" stroke-width="0.18" text-anchor="middle" textLength="26.80" lengthAdjust="spacingAndGlyphs">C26/CD4</text>
<text x="143.00" y="167.60" font-size="6.8" fill="#333" stroke="#333" stroke-width="0.18" text-anchor="middle" textLength="26.00" lengthAdjust="spacingAndGlyphs">C79/CD8</text>
<text x="120.50" y="176.20" font-size="6.8" fill="#333" stroke="#333" stroke-width="0.18" text-anchor="middle" textLength="27.00" lengthAdjust="spacingAndGlyphs">C25/CD4</text>
<text x="109.50" y="186.60" font-size="6.8" fill="#333" stroke="#333" stroke-width="0.18" text-anchor="middle" textLength="11.00" lengthAdjust="spacingAndGlyphs">C25</text>
<text x="134.50" y="186.60" font-size="6.8" fill="#333" stroke="#333" stroke-width="0.18" text-anchor="middle" textLength="11.00" lengthAdjust="spacingAndGlyphs">C26</text>
<text x="158.80" y="177.00" font-size="6.8" fill="#333" stroke="#333" stroke-width="0.18" text-anchor="middle" textLength="10.40" lengthAdjust="spacingAndGlyphs">C79</text>
<text x="89.00" y="192.50" font-size="6.8" fill="#333" stroke="#333" stroke-width="0.18" text-anchor="middle" textLength="11.50" lengthAdjust="spacingAndGlyphs">C22</text>
<text x="129.40" y="192.50" font-size="6.8" fill="#333" stroke="#333" stroke-width="0.18" text-anchor="middle" textLength="26.80" lengthAdjust="spacingAndGlyphs">C22/CD4</text>
<text x="178.60" y="121.90" font-size="11.5" fill="#000" font-weight="bold">D</text>
<text x="190.70" y="130.80" font-size="7.6" fill="#222" stroke="#222" stroke-width="0.18" textLength="66.40" lengthAdjust="spacingAndGlyphs">CD4 T-cell clusters</text>
<text x="281.80" y="130.80" font-size="7.6" fill="#222" stroke="#222" stroke-width="0.18" textLength="63.20" lengthAdjust="spacingAndGlyphs">CD8 T-cell cluster</text>
<line x1="204.60" y1="140.60" x2="204.60" y2="235.60" stroke="#231f20" stroke-width="0.8"/>
<line x1="201.40" y1="235.30" x2="204.60" y2="235.30" stroke="#231f20" stroke-width="0.7"/>
<line x1="201.40" y1="224.02" x2="204.60" y2="224.02" stroke="#231f20" stroke-width="0.7"/>
<line x1="201.40" y1="212.75" x2="204.60" y2="212.75" stroke="#231f20" stroke-width="0.7"/>
<line x1="201.40" y1="201.47" x2="204.60" y2="201.47" stroke="#231f20" stroke-width="0.7"/>
<line x1="201.40" y1="190.20" x2="204.60" y2="190.20" stroke="#231f20" stroke-width="0.7"/>
<line x1="201.40" y1="178.92" x2="204.60" y2="178.92" stroke="#231f20" stroke-width="0.7"/>
<line x1="201.40" y1="167.64" x2="204.60" y2="167.64" stroke="#231f20" stroke-width="0.7"/>
<line x1="201.40" y1="156.37" x2="204.60" y2="156.37" stroke="#231f20" stroke-width="0.7"/>
<line x1="201.40" y1="145.09" x2="204.60" y2="145.09" stroke="#231f20" stroke-width="0.7"/>
<line x1="202.80" y1="229.66" x2="204.60" y2="229.66" stroke="#231f20" stroke-width="0.45"/>
<line x1="202.80" y1="218.39" x2="204.60" y2="218.39" stroke="#231f20" stroke-width="0.45"/>
<line x1="202.80" y1="207.11" x2="204.60" y2="207.11" stroke="#231f20" stroke-width="0.45"/>
<line x1="202.80" y1="195.83" x2="204.60" y2="195.83" stroke="#231f20" stroke-width="0.45"/>
<line x1="202.80" y1="184.56" x2="204.60" y2="184.56" stroke="#231f20" stroke-width="0.45"/>
<line x1="202.80" y1="173.28" x2="204.60" y2="173.28" stroke="#231f20" stroke-width="0.45"/>
<line x1="202.80" y1="162.01" x2="204.60" y2="162.01" stroke="#231f20" stroke-width="0.45"/>
<line x1="202.80" y1="150.73" x2="204.60" y2="150.73" stroke="#231f20" stroke-width="0.45"/>
<text x="199.00" y="237.70" font-size="6.8" fill="#222" stroke="#222" stroke-width="0.18" text-anchor="end">0</text>
<text x="199.00" y="226.42" font-size="6.8" fill="#222" stroke="#222" stroke-width="0.18" text-anchor="end">4</text>
<text x="199.00" y="215.15" font-size="6.8" fill="#222" stroke="#222" stroke-width="0.18" text-anchor="end">8</text>
<text x="199.00" y="203.87" font-size="6.8" fill="#222" stroke="#222" stroke-width="0.18" text-anchor="end">12</text>
<text x="199.00" y="192.60" font-size="6.8" fill="#222" stroke="#222" stroke-width="0.18" text-anchor="end">16</text>
<text x="199.00" y="181.32" font-size="6.8" fill="#222" stroke="#222" stroke-width="0.18" text-anchor="end">20</text>
<text x="199.00" y="170.04" font-size="6.8" fill="#222" stroke="#222" stroke-width="0.18" text-anchor="end">24</text>
<text x="199.00" y="158.77" font-size="6.8" fill="#222" stroke="#222" stroke-width="0.18" text-anchor="end">28</text>
<text x="199.00" y="147.49" font-size="6.8" fill="#222" stroke="#222" stroke-width="0.18" text-anchor="end">32</text>
<line x1="204.20" y1="235.30" x2="244.00" y2="235.30" stroke="#231f20" stroke-width="0.8"/>
<line x1="215.80" y1="235.30" x2="215.80" y2="237.30" stroke="#231f20" stroke-width="0.7"/>
<line x1="233.20" y1="235.30" x2="233.20" y2="237.30" stroke="#231f20" stroke-width="0.7"/>
<line x1="215.75" y1="173.50" x2="215.75" y2="232.40" stroke="#333" stroke-width="0.7"/>
<line x1="213.95" y1="173.50" x2="217.55" y2="173.50" stroke="#333" stroke-width="0.7"/>
<line x1="213.95" y1="232.40" x2="217.55" y2="232.40" stroke="#333" stroke-width="0.7"/>
<rect x="209.50" y="203.70" width="12.50" height="21.80" fill="#7da5c9" stroke="none"/>
<line x1="215.75" y1="203.70" x2="215.75" y2="225.50" stroke="#555" stroke-width="0.5"/>
<line x1="209.50" y1="218.50" x2="222.00" y2="218.50" stroke="#333" stroke-width="0.9"/>
<path d="M213.5 173.5h0M216.5 174.0h0M220.5 177.0h0M214.0 183.5h0M215.5 193.0h0M213.0 200.0h0M218.0 201.5h0M215.5 206.0h0M220.5 206.5h0M212.5 213.0h0M217.0 214.0h0M221.0 217.5h0M213.0 219.5h0M218.0 221.0h0M214.5 224.0h0M219.5 224.5h0M212.0 229.0h0M217.5 229.5h0M214.0 232.0h0M220.0 231.5h0" stroke="#1f5a98" stroke-width="2.0" stroke-linecap="round" fill="none"/>
<line x1="233.20" y1="159.30" x2="233.20" y2="227.40" stroke="#333" stroke-width="0.7"/>
<line x1="231.40" y1="159.30" x2="235.00" y2="159.30" stroke="#333" stroke-width="0.7"/>
<line x1="231.40" y1="227.40" x2="235.00" y2="227.40" stroke="#333" stroke-width="0.7"/>
<rect x="226.70" y="184.00" width="13.00" height="29.00" fill="#e8869a" stroke="none"/>
<line x1="233.20" y1="184.00" x2="233.20" y2="213.00" stroke="#555" stroke-width="0.5"/>
<line x1="226.70" y1="199.40" x2="239.70" y2="199.40" stroke="#333" stroke-width="0.9"/>
<path d="M233.2 159.5h0M233.2 169.0h0M233.2 175.5h0M233.2 178.0h0M230.0 183.5h0M236.0 184.0h0M233.2 186.0h0M230.5 190.0h0M237.5 191.5h0M233.2 196.0h0M230.0 198.5h0M236.5 201.5h0M233.2 203.0h0M230.0 206.0h0M236.0 208.0h0M233.2 212.5h0M229.0 213.0h0M233.2 219.0h0M233.2 223.0h0M233.2 227.4h0" stroke="#d3284b" stroke-width="2.0" stroke-linecap="round" fill="none"/>
<text x="214.20" y="244.80" font-size="7.0" fill="#333" stroke="#333" stroke-width="0.18" text-anchor="middle" textLength="6.60" lengthAdjust="spacingAndGlyphs">NR</text>
<text x="232.60" y="244.80" font-size="7.0" fill="#333" stroke="#333" stroke-width="0.18" text-anchor="middle">R</text>
<text x="222.40" y="141.60" font-size="6.7" fill="#333" stroke="#333" stroke-width="0.18" text-anchor="middle" textLength="27.60" lengthAdjust="spacingAndGlyphs">p=0.0132</text>
<line x1="215.50" y1="145.50" x2="232.60" y2="145.50" stroke="#333" stroke-width="0.7"/>
<line x1="215.50" y1="144.30" x2="215.50" y2="146.70" stroke="#333" stroke-width="0.6"/>
<line x1="232.60" y1="144.30" x2="232.60" y2="146.70" stroke="#333" stroke-width="0.6"/>
<text x="186.40" y="241.20" font-size="7.0" fill="#333" stroke="#333" stroke-width="0.18" textLength="107.50" lengthAdjust="spacingAndGlyphs" transform="rotate(-90 186.40 241.20)">% Cluster (22+25+26) in CD4 T cells</text>
<line x1="294.40" y1="140.70" x2="294.40" y2="235.50" stroke="#231f20" stroke-width="0.8"/>
<line x1="291.20" y1="144.90" x2="294.40" y2="144.90" stroke="#231f20" stroke-width="0.7"/>
<line x1="291.20" y1="153.93" x2="294.40" y2="153.93" stroke="#231f20" stroke-width="0.7"/>
<line x1="291.20" y1="162.96" x2="294.40" y2="162.96" stroke="#231f20" stroke-width="0.7"/>
<line x1="291.20" y1="171.99" x2="294.40" y2="171.99" stroke="#231f20" stroke-width="0.7"/>
<line x1="291.20" y1="181.02" x2="294.40" y2="181.02" stroke="#231f20" stroke-width="0.7"/>
<line x1="291.20" y1="190.05" x2="294.40" y2="190.05" stroke="#231f20" stroke-width="0.7"/>
<line x1="291.20" y1="199.08" x2="294.40" y2="199.08" stroke="#231f20" stroke-width="0.7"/>
<line x1="291.20" y1="208.11" x2="294.40" y2="208.11" stroke="#231f20" stroke-width="0.7"/>
<line x1="291.20" y1="217.14" x2="294.40" y2="217.14" stroke="#231f20" stroke-width="0.7"/>
<line x1="291.20" y1="226.17" x2="294.40" y2="226.17" stroke="#231f20" stroke-width="0.7"/>
<line x1="291.20" y1="235.20" x2="294.40" y2="235.20" stroke="#231f20" stroke-width="0.7"/>
<text x="288.00" y="147.30" font-size="6.8" fill="#222" stroke="#222" stroke-width="0.18" text-anchor="end">32</text>
<text x="288.00" y="156.33" font-size="6.8" fill="#222" stroke="#222" stroke-width="0.18" text-anchor="end">16</text>
<text x="288.00" y="165.36" font-size="6.8" fill="#222" stroke="#222" stroke-width="0.18" text-anchor="end">8</text>
<text x="288.00" y="174.39" font-size="6.8" fill="#222" stroke="#222" stroke-width="0.18" text-anchor="end">4</text>
<text x="288.00" y="183.42" font-size="6.8" fill="#222" stroke="#222" stroke-width="0.18" text-anchor="end">2</text>
<text x="288.00" y="192.45" font-size="6.8" fill="#222" stroke="#222" stroke-width="0.18" text-anchor="end">1</text>
<text x="288.00" y="201.48" font-size="6.8" fill="#222" stroke="#222" stroke-width="0.18" text-anchor="end">0.5</text>
<text x="288.00" y="210.51" font-size="6.8" fill="#222" stroke="#222" stroke-width="0.18" text-anchor="end">0.25</text>
<text x="288.00" y="219.54" font-size="6.8" fill="#222" stroke="#222" stroke-width="0.18" text-anchor="end">0.125</text>
<text x="288.00" y="228.57" font-size="6.8" fill="#222" stroke="#222" stroke-width="0.18" text-anchor="end">0.062</text>
<text x="288.00" y="237.60" font-size="6.8" fill="#222" stroke="#222" stroke-width="0.18" text-anchor="end">0.031</text>
<line x1="294.00" y1="235.20" x2="333.00" y2="235.20" stroke="#231f20" stroke-width="0.8"/>
<line x1="304.70" y1="235.20" x2="304.70" y2="237.20" stroke="#231f20" stroke-width="0.7"/>
<line x1="322.30" y1="235.20" x2="322.30" y2="237.20" stroke="#231f20" stroke-width="0.7"/>
<line x1="304.75" y1="182.50" x2="304.75" y2="234.90" stroke="#333" stroke-width="0.7"/>
<line x1="302.95" y1="182.50" x2="306.55" y2="182.50" stroke="#333" stroke-width="0.7"/>
<line x1="302.95" y1="234.90" x2="306.55" y2="234.90" stroke="#333" stroke-width="0.7"/>
<rect x="298.40" y="197.20" width="12.70" height="25.30" fill="#7da5c9" stroke="none"/>
<line x1="304.75" y1="197.20" x2="304.75" y2="222.50" stroke="#555" stroke-width="0.5"/>
<line x1="298.40" y1="207.80" x2="311.10" y2="207.80" stroke="#333" stroke-width="0.9"/>
<path d="M301.5 182.5h0M304.7 182.5h0M307.5 183.5h0M304.7 186.0h0M302.0 190.0h0M304.7 196.0h0M308.5 196.5h0M301.0 201.0h0M306.0 202.5h0M302.5 205.0h0M307.5 206.0h0M304.7 209.0h0M301.5 212.0h0M306.5 214.0h0M304.7 217.0h0M302.0 221.0h0M307.0 222.0h0M300.0 234.6h0M303.0 234.6h0M306.5 234.6h0M309.5 234.6h0" stroke="#1f5a98" stroke-width="2.0" stroke-linecap="round" fill="none"/>
<line x1="322.35" y1="161.20" x2="322.35" y2="234.90" stroke="#333" stroke-width="0.7"/>
<line x1="320.55" y1="161.20" x2="324.15" y2="161.20" stroke="#333" stroke-width="0.7"/>
<line x1="320.55" y1="234.90" x2="324.15" y2="234.90" stroke="#333" stroke-width="0.7"/>
<rect x="315.90" y="181.60" width="12.90" height="26.20" fill="#e8869a" stroke="none"/>
<line x1="322.35" y1="181.60" x2="322.35" y2="207.80" stroke="#555" stroke-width="0.5"/>
<line x1="315.90" y1="193.60" x2="328.80" y2="193.60" stroke="#333" stroke-width="0.9"/>
<path d="M319.5 162.5h0M322.3 161.5h0M325.0 164.0h0M317.0 181.8h0M320.0 181.5h0M323.5 182.0h0M327.5 181.0h0M319.0 185.0h0M324.5 185.5h0M322.3 189.0h0M318.5 193.0h0M326.0 195.0h0M322.3 198.0h0M319.0 200.5h0M325.0 202.5h0M322.3 205.5h0M322.3 211.0h0M322.3 216.0h0M322.3 222.0h0M322.3 234.6h0" stroke="#d3284b" stroke-width="2.0" stroke-linecap="round" fill="none"/>
<text x="304.00" y="244.40" font-size="7.0" fill="#333" stroke="#333" stroke-width="0.18" text-anchor="middle" textLength="6.60" lengthAdjust="spacingAndGlyphs">NR</text>
<text x="321.90" y="244.40" font-size="7.0" fill="#333" stroke="#333" stroke-width="0.18" text-anchor="middle">R</text>
<text x="311.60" y="141.60" font-size="6.7" fill="#333" stroke="#333" stroke-width="0.18" text-anchor="middle" textLength="27.60" lengthAdjust="spacingAndGlyphs">p=0.0167</text>
<line x1="304.50" y1="145.00" x2="321.60" y2="145.00" stroke="#333" stroke-width="0.7"/>
<line x1="304.50" y1="143.80" x2="304.50" y2="146.20" stroke="#333" stroke-width="0.6"/>
<line x1="321.60" y1="143.80" x2="321.60" y2="146.20" stroke="#333" stroke-width="0.6"/>
<text x="265.00" y="227.30" font-size="7.0" fill="#333" stroke="#333" stroke-width="0.18" textLength="78.10" lengthAdjust="spacingAndGlyphs" transform="rotate(-90 265.00 227.30)">% Cluster 79 in CD8 T cells</text>
<text x="346.40" y="122.50" font-size="11.5" fill="#000" font-weight="bold">E</text>
<text x="442.10" y="147.60" font-size="7.8" fill="#222" stroke="#222" stroke-width="0.18" text-anchor="middle" textLength="115.60" lengthAdjust="spacingAndGlyphs">Expression of immunoregulatory</text>
<text x="441.20" y="158.20" font-size="7.8" fill="#222" stroke="#222" stroke-width="0.18" text-anchor="middle" textLength="36.40" lengthAdjust="spacingAndGlyphs">molecules</text>
<rect x="384.80" y="161.30" width="127.40" height="51.50" fill="#000"/>
<rect x="385.05" y="161.55" width="9.30" height="8.08" fill="#f5e51c"/>
<rect x="394.85" y="161.55" width="9.30" height="8.08" fill="#1a1a1a"/>
<rect x="404.65" y="161.55" width="9.30" height="8.08" fill="#6a6a30"/>
<rect x="414.45" y="161.55" width="9.30" height="8.08" fill="#0a0a0a"/>
<rect x="424.25" y="161.55" width="9.30" height="8.08" fill="#909040"/>
<rect x="434.05" y="161.55" width="9.30" height="8.08" fill="#707035"/>
<rect x="463.45" y="161.55" width="9.30" height="8.08" fill="#4a4a20"/>
<rect x="473.25" y="161.55" width="9.30" height="8.08" fill="#101510"/>
<rect x="492.85" y="161.55" width="9.30" height="8.08" fill="#3d3d18"/>
<rect x="502.65" y="161.55" width="9.30" height="8.08" fill="#181818"/>
<rect x="385.05" y="170.13" width="9.30" height="8.08" fill="#f5e51c"/>
<rect x="404.65" y="170.13" width="9.30" height="8.08" fill="#3a3a18"/>
<rect x="414.45" y="170.13" width="9.30" height="8.08" fill="#d4d040"/>
<rect x="424.25" y="170.13" width="9.30" height="8.08" fill="#e0dc30"/>
<rect x="434.05" y="170.13" width="9.30" height="8.08" fill="#dcd838"/>
<rect x="463.45" y="170.13" width="9.30" height="8.08" fill="#7a7a35"/>
<rect x="473.25" y="170.13" width="9.30" height="8.08" fill="#5f5f28"/>
<rect x="492.85" y="170.13" width="9.30" height="8.08" fill="#0c0c0c"/>
<rect x="502.65" y="170.13" width="9.30" height="8.08" fill="#0c0c0c"/>
<rect x="385.05" y="178.72" width="9.30" height="8.08" fill="#f5e51c"/>
<rect x="394.85" y="178.72" width="9.30" height="8.08" fill="#2a2a15"/>
<rect x="404.65" y="178.72" width="9.30" height="8.08" fill="#f3e41e"/>
<rect x="414.45" y="178.72" width="9.30" height="8.08" fill="#c0be48"/>
<rect x="424.25" y="178.72" width="9.30" height="8.08" fill="#e4e030"/>
<rect x="434.05" y="178.72" width="9.30" height="8.08" fill="#d0cc40"/>
<rect x="453.65" y="178.72" width="9.30" height="8.08" fill="#2a2a2a"/>
<rect x="463.45" y="178.72" width="9.30" height="8.08" fill="#757535"/>
<rect x="473.25" y="178.72" width="9.30" height="8.08" fill="#e0dc30"/>
<rect x="483.05" y="178.72" width="9.30" height="8.08" fill="#1a1a1a"/>
<rect x="492.85" y="178.72" width="9.30" height="8.08" fill="#555525"/>
<rect x="502.65" y="178.72" width="9.30" height="8.08" fill="#252515"/>
<rect x="385.05" y="187.30" width="9.30" height="8.08" fill="#f5e51c"/>
<rect x="394.85" y="187.30" width="9.30" height="8.08" fill="#2a2a15"/>
<rect x="404.65" y="187.30" width="9.30" height="8.08" fill="#f5e51c"/>
<rect x="424.25" y="187.30" width="9.30" height="8.08" fill="#7a7a35"/>
<rect x="434.05" y="187.30" width="9.30" height="8.08" fill="#c8c445"/>
<rect x="463.45" y="187.30" width="9.30" height="8.08" fill="#5f5f28"/>
<rect x="502.65" y="187.30" width="9.30" height="8.08" fill="#2a2a18"/>
<rect x="394.85" y="195.88" width="9.30" height="8.08" fill="#f5e51c"/>
<rect x="414.45" y="195.88" width="9.30" height="8.08" fill="#1f1f1f"/>
<rect x="424.25" y="195.88" width="9.30" height="8.08" fill="#1f1f1f"/>
<rect x="492.85" y="195.88" width="9.30" height="8.08" fill="#4f4f20"/>
<rect x="502.65" y="195.88" width="9.30" height="8.08" fill="#5a5a25"/>
<rect x="394.85" y="204.47" width="9.30" height="8.08" fill="#f5e51c"/>
<rect x="414.45" y="204.47" width="9.30" height="8.08" fill="#8a8a38"/>
<rect x="434.05" y="204.47" width="9.30" height="8.08" fill="#7a7a32"/>
<rect x="473.25" y="204.47" width="9.30" height="8.08" fill="#1a1a1a"/>
<rect x="492.85" y="204.47" width="9.30" height="8.08" fill="#1a1a1a"/>
<rect x="502.65" y="204.47" width="9.30" height="8.08" fill="#151515"/>
<line x1="346.90" y1="161.30" x2="512.20" y2="161.30" stroke="#6a6a6a" stroke-width="0.9"/>
<line x1="346.90" y1="195.43" x2="512.20" y2="195.43" stroke="#7a7a7a" stroke-width="0.9"/>
<line x1="346.90" y1="212.80" x2="512.20" y2="212.80" stroke="#6a6a6a" stroke-width="0.9"/>
<text x="378.70" y="168.09" font-size="7.3" fill="#9a9a9a" text-anchor="end" textLength="32.00" lengthAdjust="spacingAndGlyphs">CD4 T cells</text>
<line x1="381.80" y1="165.59" x2="384.60" y2="165.59" stroke="#222" stroke-width="0.8"/>
<text x="378.70" y="176.68" font-size="7.3" fill="#36b37a" text-anchor="end" textLength="28.90" lengthAdjust="spacingAndGlyphs">Cluster 25</text>
<line x1="381.80" y1="174.18" x2="384.60" y2="174.18" stroke="#222" stroke-width="0.8"/>
<text x="378.70" y="185.26" font-size="7.3" fill="#e2268c" text-anchor="end" textLength="28.90" lengthAdjust="spacingAndGlyphs">Cluster 26</text>
<line x1="381.80" y1="182.76" x2="384.60" y2="182.76" stroke="#222" stroke-width="0.8"/>
<text x="378.70" y="193.84" font-size="7.3" fill="#6d9ad6" text-anchor="end" textLength="28.90" lengthAdjust="spacingAndGlyphs">Cluster 22</text>
<line x1="381.80" y1="191.34" x2="384.60" y2="191.34" stroke="#222" stroke-width="0.8"/>
<text x="378.70" y="202.43" font-size="7.3" fill="#9a9a9a" text-anchor="end" textLength="32.00" lengthAdjust="spacingAndGlyphs">CD8 T cells</text>
<line x1="381.80" y1="199.93" x2="384.60" y2="199.93" stroke="#222" stroke-width="0.8"/>
<text x="378.70" y="211.01" font-size="7.3" fill="#f07a7a" text-anchor="end" textLength="28.90" lengthAdjust="spacingAndGlyphs">Cluster 79</text>
<line x1="381.80" y1="208.51" x2="384.60" y2="208.51" stroke="#222" stroke-width="0.8"/>
<line x1="389.70" y1="212.80" x2="389.70" y2="215.40" stroke="#222" stroke-width="0.8"/>
<text x="393.10" y="221.20" font-size="7.0" fill="#222" stroke="#222" stroke-width="0.18" text-anchor="end" textLength="12.04" lengthAdjust="spacingAndGlyphs" transform="rotate(-45 393.10 221.20)">CD4</text>
<line x1="399.50" y1="212.80" x2="399.50" y2="215.40" stroke="#222" stroke-width="0.8"/>
<text x="402.90" y="221.20" font-size="7.0" fill="#222" stroke="#222" stroke-width="0.18" text-anchor="end" textLength="12.04" lengthAdjust="spacingAndGlyphs" transform="rotate(-45 402.90 221.20)">CD8</text>
<line x1="409.30" y1="212.80" x2="409.30" y2="215.40" stroke="#222" stroke-width="0.8"/>
<text x="412.70" y="221.20" font-size="7.0" fill="#222" stroke="#222" stroke-width="0.18" text-anchor="end" textLength="18.74" lengthAdjust="spacingAndGlyphs" transform="rotate(-45 412.70 221.20)">CD161</text>
<line x1="419.10" y1="212.80" x2="419.10" y2="215.40" stroke="#222" stroke-width="0.8"/>
<text x="422.50" y="221.20" font-size="7.0" fill="#222" stroke="#222" stroke-width="0.18" text-anchor="end" textLength="15.38" lengthAdjust="spacingAndGlyphs" transform="rotate(-45 422.50 221.20)">TIGIT</text>
<line x1="428.90" y1="212.80" x2="428.90" y2="215.40" stroke="#222" stroke-width="0.8"/>
<text x="432.30" y="221.20" font-size="7.0" fill="#222" stroke="#222" stroke-width="0.18" text-anchor="end" textLength="15.06" lengthAdjust="spacingAndGlyphs" transform="rotate(-45 432.30 221.20)">BTLA</text>
<line x1="438.70" y1="212.80" x2="438.70" y2="215.40" stroke="#222" stroke-width="0.8"/>
<text x="442.10" y="221.20" font-size="7.0" fill="#222" stroke="#222" stroke-width="0.18" text-anchor="end" textLength="11.71" lengthAdjust="spacingAndGlyphs" transform="rotate(-45 442.10 221.20)">PD1</text>
<line x1="448.50" y1="212.80" x2="448.50" y2="215.40" stroke="#222" stroke-width="0.8"/>
<text x="451.90" y="221.20" font-size="7.0" fill="#222" stroke="#222" stroke-width="0.18" text-anchor="end" textLength="13.15" lengthAdjust="spacingAndGlyphs" transform="rotate(-45 451.90 221.20)">Tim3</text>
<line x1="458.30" y1="212.80" x2="458.30" y2="215.40" stroke="#222" stroke-width="0.8"/>
<text x="461.70" y="221.20" font-size="7.0" fill="#222" stroke="#222" stroke-width="0.18" text-anchor="end" textLength="15.39" lengthAdjust="spacingAndGlyphs" transform="rotate(-45 461.70 221.20)">LAG3</text>
<line x1="468.10" y1="212.80" x2="468.10" y2="215.40" stroke="#222" stroke-width="0.8"/>
<text x="471.50" y="221.20" font-size="7.0" fill="#222" stroke="#222" stroke-width="0.18" text-anchor="end" textLength="18.74" lengthAdjust="spacingAndGlyphs" transform="rotate(-45 471.50 221.20)">CTLA4</text>
<line x1="477.90" y1="212.80" x2="477.90" y2="215.40" stroke="#222" stroke-width="0.8"/>
<text x="481.30" y="221.20" font-size="7.0" fill="#222" stroke="#222" stroke-width="0.18" text-anchor="end" textLength="15.39" lengthAdjust="spacingAndGlyphs" transform="rotate(-45 481.30 221.20)">CD39</text>
<line x1="487.70" y1="212.80" x2="487.70" y2="215.40" stroke="#222" stroke-width="0.8"/>
<text x="491.10" y="221.20" font-size="7.0" fill="#222" stroke="#222" stroke-width="0.18" text-anchor="end" textLength="15.39" lengthAdjust="spacingAndGlyphs" transform="rotate(-45 491.10 221.20)">CD73</text>
<line x1="497.50" y1="212.80" x2="497.50" y2="215.40" stroke="#222" stroke-width="0.8"/>
<text x="500.90" y="221.20" font-size="7.0" fill="#222" stroke="#222" stroke-width="0.18" text-anchor="end" textLength="17.40" lengthAdjust="spacingAndGlyphs" transform="rotate(-45 500.90 221.20)">FoxP3</text>
<line x1="507.30" y1="212.80" x2="507.30" y2="215.40" stroke="#222" stroke-width="0.8"/>
<text x="510.70" y="221.20" font-size="7.0" fill="#222" stroke="#222" stroke-width="0.18" text-anchor="end" textLength="13.71" lengthAdjust="spacingAndGlyphs" transform="rotate(-45 510.70 221.20)">GrzB</text>
<rect x="384.80" y="236.20" width="32.00" height="6.40" fill="url(#gcbar)" stroke="#000" stroke-width="0.5"/>
<text x="383.70" y="250.20" font-size="6.6" fill="#222" stroke="#222" stroke-width="0.18" text-anchor="middle" textLength="9.40" lengthAdjust="spacingAndGlyphs">Min</text>
<text x="416.20" y="250.20" font-size="6.6" fill="#222" stroke="#222" stroke-width="0.18" text-anchor="middle" textLength="12.00" lengthAdjust="spacingAndGlyphs">Max</text>
<text x="6.90" y="291.30" font-size="11.5" fill="#000" font-weight="bold">F</text>
<text x="6.90" y="307.60" font-size="7.4" fill="#33b377" textLength="29.10" lengthAdjust="spacingAndGlyphs">Cluster 25</text>
<text x="6.90" y="350.40" font-size="7.4" fill="#e5168a" textLength="29.10" lengthAdjust="spacingAndGlyphs">Cluster 26</text>
<text x="6.90" y="392.20" font-size="7.4" fill="#5f94d8" textLength="29.10" lengthAdjust="spacingAndGlyphs">Cluster 22</text>
<rect x="40.50" y="302.20" width="41.70" height="42.80" fill="#fff" stroke="#111" stroke-width="0.8"/>
<path d="M75.7 327.2h0M67.8 333.6h0M53.7 333.1h0M50.2 330.7h0M62.9 329.1h0M66.9 319.8h0M73.1 319.3h0M51.6 319.4h0M61.1 318.5h0M61.0 319.9h0M55.2 323.4h0M57.3 325.3h0M68.5 323.7h0M49.0 325.3h0M71.8 305.3h0M73.4 307.5h0M56.1 324.8h0M70.6 331.1h0M71.1 331.1h0M63.9 326.2h0M56.1 319.9h0M60.3 313.2h0M59.7 324.3h0M55.1 320.3h0M68.4 329.6h0M74.7 317.4h0M53.9 324.9h0M46.7 316.6h0M60.4 309.2h0M49.2 312.6h0M73.2 317.9h0M49.5 322.5h0M75.2 311.5h0M57.2 320.9h0M56.2 319.1h0M61.0 328.0h0M57.0 324.8h0M61.7 332.0h0M69.5 332.3h0M64.2 321.4h0M53.0 327.5h0M67.7 314.3h0M61.1 310.4h0M57.6 329.4h0M65.1 324.7h0M64.0 326.9h0M64.0 338.9h0M59.0 322.4h0M65.2 326.8h0M71.4 325.9h0M57.6 331.9h0M64.9 324.7h0M65.8 334.6h0M63.4 319.1h0M66.0 320.6h0M66.6 333.3h0M63.0 325.1h0M64.6 328.0h0M71.8 341.1h0M78.1 316.4h0M73.8 315.6h0M62.1 333.5h0M55.5 320.9h0M53.5 315.5h0M67.2 332.2h0M77.4 310.4h0M64.1 324.0h0M54.0 324.1h0M75.3 311.6h0M51.7 319.1h0M68.9 316.2h0M51.3 336.5h0M60.8 319.3h0M52.0 334.6h0M65.4 337.4h0M73.2 316.5h0M62.9 307.6h0M59.8 331.8h0M65.8 312.8h0M67.9 317.3h0M57.1 322.1h0M57.7 327.1h0M53.9 325.8h0M59.6 331.5h0M62.3 338.5h0M78.1 321.1h0M59.6 340.0h0M60.6 333.9h0M49.7 315.7h0M71.7 319.3h0M68.1 311.6h0M58.5 313.1h0M74.2 305.4h0M57.6 316.6h0M57.3 328.6h0M56.1 317.2h0M73.8 324.5h0M78.8 327.9h0M63.0 337.4h0M72.8 325.6h0M67.1 328.4h0M56.4 309.1h0M52.1 328.8h0M68.9 314.4h0M73.2 327.5h0M70.0 318.3h0M62.6 309.1h0M70.3 306.8h0M46.3 330.2h0M52.9 306.4h0M66.4 322.9h0M60.3 327.3h0M75.2 307.5h0M57.7 313.5h0M61.8 337.8h0M62.7 318.5h0M70.6 332.5h0M72.7 341.0h0M59.9 321.6h0M53.5 315.5h0M77.8 324.4h0M52.5 329.9h0M55.9 322.0h0M56.6 324.6h0M63.5 335.6h0M64.8 316.0h0M52.7 326.8h0M60.6 321.5h0M61.9 326.0h0M63.8 329.5h0M52.6 316.7h0M72.2 306.4h0M58.4 315.2h0M72.9 319.0h0M53.7 317.2h0M48.2 317.2h0M72.4 310.9h0M46.7 318.3h0M67.7 311.4h0M64.3 319.9h0M66.3 325.6h0M56.6 315.2h0M57.9 314.4h0M68.0 321.3h0M64.0 329.3h0M60.1 326.4h0M76.4 307.6h0M68.7 310.5h0M68.0 318.6h0M63.8 315.7h0M55.3 328.7h0M75.8 338.7h0M72.8 311.3h0M62.7 305.4h0M60.9 317.7h0M56.7 315.3h0M59.0 316.8h0M55.0 312.6h0M58.8 329.0h0M65.0 309.5h0M64.5 333.6h0M67.7 329.0h0M60.5 334.9h0M70.2 329.1h0M65.0 312.0h0M58.3 320.7h0M60.2 319.9h0M68.5 339.3h0M63.1 323.7h0M69.0 317.3h0M56.1 327.9h0M73.2 309.7h0M53.2 334.5h0M58.0 315.8h0M58.5 319.7h0M60.7 311.0h0M59.1 317.0h0M55.4 331.4h0M68.4 315.9h0M64.7 323.0h0M53.2 320.8h0M49.7 314.4h0M59.6 321.7h0M48.0 319.1h0M63.0 324.0h0M61.7 319.6h0M57.6 323.9h0M74.0 325.2h0M62.1 305.9h0M55.5 333.9h0M59.5 328.2h0M61.1 322.2h0M72.0 313.6h0M64.0 328.0h0M64.9 335.9h0M64.0 313.3h0M53.4 317.9h0M67.1 309.0h0M65.1 316.9h0M70.7 324.8h0M60.5 321.6h0M59.1 337.7h0M61.1 324.1h0M79.8 323.5h0M61.1 320.3h0M74.5 313.0h0M74.2 334.3h0M76.8 312.6h0M67.8 324.5h0M62.3 309.0h0M68.2 321.9h0M60.0 325.4h0M64.6 318.9h0M61.5 321.6h0M49.6 329.0h0M62.6 317.2h0M55.6 325.5h0M59.6 313.3h0M73.3 308.4h0M66.9 322.7h0M76.4 332.0h0M61.6 326.7h0M66.1 326.4h0M62.7 318.9h0M59.9 323.3h0M64.9 326.0h0M78.9 321.5h0M60.0 315.5h0M66.2 313.2h0M53.0 318.9h0M66.0 324.5h0M61.5 319.4h0M68.7 316.9h0M78.3 323.1h0M57.9 326.6h0M63.1 328.3h0M59.2 318.5h0M50.9 323.2h0M68.1 311.2h0M56.2 322.8h0M51.1 323.9h0M65.5 310.4h0M64.3 328.3h0" stroke="#8a8a8a" stroke-width="0.55" stroke-linecap="square" fill="none" opacity="0.35"/>
<path d="M47.5 314.7 L47.5 340.0 L70.7 340.0" fill="none" stroke="#9c9c9c" stroke-width="2.6" stroke-linejoin="round" stroke-linecap="round"/>
<path d="M47.5 314.7 L47.5 340.0 L70.7 340.0" fill="none" stroke="#ececec" stroke-width="1.0" stroke-linejoin="round" stroke-linecap="round"/>
<rect x="99.50" y="302.20" width="42.50" height="42.80" fill="#fff" stroke="#111" stroke-width="0.8"/>
<path d="M116.9 332.4h0M123.5 324.1h0M121.3 319.9h0M115.7 341.0h0M110.0 325.1h0M130.9 313.6h0M128.7 316.6h0M127.5 318.0h0M132.6 319.8h0M131.7 313.4h0M119.9 322.1h0M122.6 321.2h0M106.7 336.0h0M123.4 316.0h0M114.1 329.3h0M109.2 331.9h0M113.1 328.3h0M127.1 323.7h0M124.2 319.5h0M134.6 310.5h0M133.8 316.5h0M122.8 319.5h0M114.1 329.6h0M130.2 319.9h0M120.4 323.9h0M122.9 324.5h0M118.6 326.8h0M119.4 322.5h0M107.4 328.6h0M135.7 314.9h0M110.5 330.4h0M121.3 326.2h0M125.7 316.7h0M114.6 336.3h0M119.1 333.4h0M106.4 339.5h0M129.0 314.6h0M127.1 317.8h0M120.7 322.6h0M132.7 305.2h0M110.8 335.5h0M128.3 316.7h0M132.4 311.7h0M112.7 333.8h0M120.8 313.0h0M110.1 334.8h0M122.1 322.5h0M119.4 336.4h0M129.0 310.6h0M115.4 334.7h0M111.7 327.1h0M138.1 319.0h0M113.2 322.2h0M123.9 329.5h0M113.7 331.4h0M118.0 333.8h0M115.3 326.5h0M116.2 325.2h0M114.2 327.4h0M113.9 333.2h0M136.7 314.0h0M110.4 333.6h0M106.6 329.6h0M118.7 324.5h0M107.4 333.5h0M118.2 325.1h0M105.2 339.1h0M118.0 319.8h0M130.0 321.8h0M120.3 340.5h0M108.6 340.5h0M129.7 319.6h0M124.4 324.6h0M118.9 321.2h0M128.6 314.6h0M139.5 313.7h0M110.1 340.0h0M124.9 318.6h0M116.0 333.1h0M121.8 318.5h0M115.7 333.8h0M116.2 320.5h0M139.6 304.6h0M113.4 328.6h0M128.9 322.2h0M134.5 319.9h0M126.2 315.0h0M115.6 328.2h0M116.0 333.7h0M127.5 314.2h0M116.5 332.1h0M130.9 321.2h0M126.6 313.3h0M132.5 315.3h0M107.6 339.3h0M124.4 320.2h0M115.1 332.9h0M125.0 325.4h0M119.1 326.3h0M138.4 313.1h0M111.7 333.5h0M126.7 321.7h0M114.1 338.1h0M136.4 312.0h0M125.9 324.3h0M124.5 316.2h0M119.5 335.2h0M120.6 312.6h0M117.9 323.7h0M114.4 325.8h0M114.3 333.3h0M132.8 307.0h0M117.7 333.4h0M114.8 329.9h0M123.5 319.6h0M131.9 309.4h0M108.4 333.5h0M113.9 312.7h0M109.7 334.9h0M135.6 316.0h0M116.1 337.8h0M113.0 334.9h0M120.5 319.7h0M123.2 307.3h0M129.8 322.7h0M122.5 326.6h0M122.9 326.9h0M126.9 314.8h0M137.1 310.5h0M115.3 330.5h0M109.6 339.2h0M113.2 326.1h0M123.3 323.9h0M136.2 318.2h0M126.6 321.3h0M122.6 324.8h0M125.0 325.9h0M128.9 319.0h0M105.7 337.9h0M116.9 328.6h0M137.1 307.5h0M111.0 329.1h0M112.6 341.4h0M111.5 335.4h0M134.3 308.8h0M119.9 325.6h0M113.3 330.1h0M128.6 317.2h0M109.3 342.0h0M128.1 315.2h0M112.7 325.6h0M113.6 330.4h0M131.7 310.0h0M112.6 338.3h0M112.7 326.2h0M121.4 324.0h0M117.8 314.2h0M107.7 332.2h0M118.7 329.8h0M118.6 333.3h0M128.6 315.8h0M126.9 318.0h0M130.1 318.2h0M128.7 313.0h0M128.0 318.0h0M133.6 311.8h0M128.4 320.7h0M132.3 321.7h0M132.3 317.7h0M121.6 315.0h0M129.6 310.0h0M127.2 325.3h0M127.8 314.9h0M124.4 327.7h0M126.0 315.0h0M124.6 328.9h0M121.7 331.4h0M107.7 328.5h0M107.5 334.8h0M128.7 311.5h0M122.6 309.7h0M117.6 326.4h0M127.3 321.4h0M134.3 309.8h0M110.8 335.7h0M114.4 334.9h0M105.4 336.3h0M127.7 321.3h0M121.9 324.9h0M126.6 320.5h0M124.7 320.5h0M132.7 319.1h0M113.2 328.1h0M110.2 342.8h0M120.8 321.5h0M133.9 312.0h0M107.2 333.4h0M126.6 328.2h0M107.7 335.1h0M132.7 317.7h0M104.6 333.2h0M123.9 319.8h0M128.5 322.4h0M136.2 306.5h0M135.1 316.0h0M122.5 328.3h0M119.0 331.2h0M115.7 327.1h0M107.9 336.2h0M122.8 326.2h0M120.0 310.4h0M109.2 332.4h0M132.9 312.5h0M136.2 306.4h0M120.7 318.3h0M113.3 340.3h0M116.1 329.9h0M112.3 335.9h0M116.4 324.2h0M113.2 332.5h0M137.7 320.3h0M121.0 334.8h0M113.4 330.6h0M125.4 313.4h0M121.0 320.7h0M122.9 317.0h0M110.2 330.5h0M125.3 321.2h0M130.9 319.5h0M116.8 314.1h0M129.2 318.8h0M103.4 334.5h0M119.9 323.4h0M123.1 323.5h0M137.5 315.3h0M103.7 342.2h0M111.9 330.6h0M128.8 319.4h0M128.1 326.3h0M127.0 316.1h0M133.6 316.3h0M135.3 313.8h0M110.6 323.4h0M107.4 341.2h0M113.5 325.8h0M118.8 331.8h0M128.8 328.7h0" stroke="#8a8a8a" stroke-width="0.55" stroke-linecap="square" fill="none" opacity="0.35"/>
<path d="M107.1 312.7 L107.1 341.0 L112.0 341.0" fill="none" stroke="#9c9c9c" stroke-width="2.6" stroke-linejoin="round" stroke-linecap="round"/>
<path d="M107.1 312.7 L107.1 341.0 L112.0 341.0" fill="none" stroke="#ececec" stroke-width="1.0" stroke-linejoin="round" stroke-linecap="round"/>
<rect x="40.50" y="345.00" width="41.70" height="42.20" fill="#fff" stroke="#111" stroke-width="0.8"/>
<path d="M66.1 361.1h0M59.6 362.4h0M77.8 357.1h0M58.0 356.0h0M50.1 366.4h0M54.7 365.8h0M59.5 361.6h0M58.8 367.0h0M58.8 371.5h0M57.8 363.8h0M53.1 353.6h0M62.0 362.1h0M58.4 370.4h0M62.0 372.3h0M69.8 359.4h0M52.0 368.7h0M64.9 369.0h0M64.3 361.6h0M59.0 369.5h0M65.6 365.3h0M50.8 354.1h0M68.7 361.7h0M57.3 377.8h0M77.9 365.1h0M68.1 368.3h0M56.0 369.4h0M74.5 361.0h0M56.3 364.2h0M57.6 359.9h0M63.0 364.7h0M63.6 375.6h0M56.9 360.1h0M58.9 357.5h0M75.2 369.4h0M62.4 367.7h0M55.3 361.2h0M58.2 352.7h0M49.7 358.1h0M56.1 365.1h0M69.9 373.4h0M57.5 369.4h0M72.5 348.8h0M55.4 373.7h0M70.8 361.9h0M52.4 368.4h0M57.1 361.1h0M63.2 350.8h0M54.9 360.4h0M78.3 361.9h0M72.7 373.0h0M49.6 382.2h0M61.3 350.7h0M76.9 364.5h0M59.5 366.2h0M52.6 366.6h0M62.8 358.4h0M66.7 368.0h0M51.9 366.7h0M49.1 359.8h0M57.9 359.3h0M60.7 356.0h0M64.0 375.8h0M66.7 349.3h0M52.4 355.6h0M62.0 353.7h0M55.8 362.1h0M70.8 354.4h0M51.9 372.5h0M67.6 361.8h0M69.5 361.6h0M69.5 375.6h0M62.4 360.6h0M67.8 375.4h0M67.8 351.2h0M50.4 355.0h0M57.9 359.1h0M71.2 374.2h0M59.3 365.0h0M66.3 373.6h0M56.4 367.7h0M59.4 361.5h0M62.5 358.3h0M73.6 370.3h0M57.4 373.8h0M59.0 362.5h0M62.8 370.2h0M56.7 363.5h0M49.7 372.5h0M59.4 359.5h0M64.7 371.5h0M59.1 368.7h0M75.9 353.4h0M53.2 369.2h0M68.1 368.9h0M59.1 373.5h0M64.9 351.2h0M62.1 360.6h0M61.8 366.8h0M67.4 366.2h0M68.6 368.5h0M65.7 368.4h0M67.6 372.2h0M74.6 366.9h0M56.8 358.6h0M63.1 372.1h0M60.9 367.2h0M54.4 366.1h0M74.6 365.3h0M72.7 360.8h0M61.1 368.0h0M59.4 381.0h0M72.2 361.1h0M68.8 361.5h0M74.5 358.6h0M62.1 366.1h0M66.5 355.0h0M62.6 375.1h0M64.8 359.6h0M47.7 369.5h0M76.5 372.0h0M72.3 372.3h0M57.4 366.1h0M64.6 354.7h0M59.6 376.4h0M62.1 366.1h0M57.5 369.5h0M54.4 362.8h0M67.7 362.4h0M56.4 377.4h0M54.8 372.2h0M54.7 357.3h0M66.2 363.0h0M53.6 362.9h0M69.0 362.7h0M69.7 361.9h0M70.2 375.3h0M65.2 356.8h0M65.8 367.7h0M78.5 363.6h0M69.2 369.5h0M61.1 378.9h0M59.8 361.2h0M44.1 371.9h0M62.4 367.3h0M61.3 355.7h0M63.8 374.8h0M64.2 365.8h0M61.1 371.3h0M43.8 363.6h0M67.1 383.4h0M60.3 358.4h0M63.1 367.2h0M62.9 366.0h0M67.7 356.9h0M64.7 370.3h0M60.2 383.4h0M66.7 381.1h0M65.6 355.8h0M62.9 359.5h0M58.4 369.9h0M71.0 366.7h0M67.3 351.6h0M57.5 351.8h0M63.3 359.5h0M59.1 370.9h0M62.7 368.8h0M64.1 359.9h0M57.1 351.5h0M66.8 374.7h0M55.2 359.2h0M59.8 355.7h0M68.0 357.5h0M68.7 370.3h0M57.2 347.0h0M67.4 369.5h0M61.8 373.0h0M58.7 366.6h0M58.5 361.2h0M61.0 375.1h0M51.7 361.6h0M69.7 354.6h0M66.8 378.9h0M66.6 361.4h0M55.1 357.0h0M46.0 347.5h0M76.6 380.3h0M61.8 361.0h0M66.9 373.2h0M63.3 367.3h0M64.9 348.5h0M72.9 367.8h0M61.8 368.1h0M55.3 369.8h0M70.0 356.6h0M66.5 352.4h0M60.3 361.9h0M69.7 361.3h0M53.3 365.4h0M72.6 362.5h0M64.7 367.6h0M69.4 360.9h0M66.1 361.5h0M55.3 359.5h0M64.3 383.3h0M59.4 366.8h0M67.9 368.9h0M76.1 355.3h0M68.2 365.7h0M62.6 355.7h0M66.8 362.8h0M57.1 365.0h0M63.4 350.2h0M50.7 361.9h0M71.8 362.2h0M59.5 374.8h0M63.3 369.3h0M69.5 372.7h0M61.1 363.9h0M61.3 368.1h0M79.0 347.7h0M67.4 362.2h0M66.6 363.6h0M69.9 367.5h0M56.0 356.2h0M61.0 365.6h0M71.7 362.4h0M72.8 361.6h0M47.1 358.5h0M63.8 363.1h0M62.4 363.8h0M77.2 360.8h0M72.0 369.4h0M54.2 358.3h0M49.1 374.7h0M63.2 361.4h0M69.8 363.6h0M65.7 371.3h0" stroke="#8a8a8a" stroke-width="0.55" stroke-linecap="square" fill="none" opacity="0.35"/>
<path d="M47.5 357.5 L47.5 382.2 L70.7 382.2" fill="none" stroke="#9c9c9c" stroke-width="2.6" stroke-linejoin="round" stroke-linecap="round"/>
<path d="M47.5 357.5 L47.5 382.2 L70.7 382.2" fill="none" stroke="#ececec" stroke-width="1.0" stroke-linejoin="round" stroke-linecap="round"/>
<rect x="99.50" y="345.00" width="42.50" height="42.20" fill="#fff" stroke="#111" stroke-width="0.8"/>
<path d="M119.6 368.9h0M129.9 361.4h0M125.1 365.7h0M129.2 363.8h0M121.3 373.8h0M135.0 370.5h0M122.2 362.5h0M138.6 358.7h0M106.3 376.5h0M124.5 364.1h0M131.9 364.1h0M118.3 356.2h0M112.0 371.5h0M134.1 350.4h0M109.7 380.9h0M125.5 360.2h0M112.5 371.1h0M137.9 351.8h0M121.3 366.8h0M109.5 366.7h0M108.8 368.0h0M127.4 364.0h0M124.2 366.4h0M123.5 359.2h0M126.0 367.3h0M132.6 368.4h0M121.2 368.3h0M122.5 365.3h0M112.4 376.8h0M125.7 366.6h0M129.5 358.7h0M126.4 353.0h0M114.1 369.8h0M121.7 373.3h0M124.3 365.6h0M107.6 370.6h0M124.0 364.8h0M116.8 372.9h0M113.6 369.8h0M139.1 356.5h0M130.1 356.6h0M123.7 369.0h0M135.8 361.4h0M125.2 373.4h0M113.2 378.4h0M130.6 374.5h0M138.9 355.3h0M130.1 353.8h0M115.8 362.6h0M105.6 381.1h0M129.3 364.7h0M117.2 377.1h0M121.5 363.8h0M111.1 370.4h0M117.0 367.2h0M122.3 353.8h0M113.3 374.1h0M124.7 367.0h0M112.6 377.7h0M123.8 371.1h0M109.1 375.5h0M117.2 374.4h0M123.1 363.1h0M128.5 353.0h0M119.8 368.0h0M122.7 367.3h0M111.7 370.6h0M132.1 361.4h0M131.9 359.1h0M118.4 381.6h0M130.4 363.3h0M111.4 373.6h0M131.8 364.2h0M126.1 358.0h0M133.8 361.5h0M129.9 359.4h0M123.1 365.4h0M120.8 361.0h0M108.2 376.9h0M121.9 367.1h0M118.5 373.5h0M114.6 378.1h0M102.5 378.9h0M124.6 362.1h0M116.3 384.2h0M113.7 374.6h0M138.4 356.9h0M126.2 360.0h0M110.6 373.6h0M110.1 378.6h0M114.2 368.3h0M119.4 370.0h0M133.1 352.6h0M128.0 366.1h0M122.9 370.3h0M109.5 381.3h0M129.8 358.8h0M131.8 357.7h0M134.9 357.0h0M113.1 378.1h0M113.4 381.7h0M128.5 360.0h0M111.8 372.4h0M122.9 370.3h0M113.2 378.7h0M125.3 368.6h0M131.7 355.3h0M122.3 371.1h0M136.1 347.1h0M110.6 376.2h0M127.6 357.9h0M114.4 361.0h0M122.9 367.7h0M115.7 367.9h0M112.8 383.8h0M133.4 356.6h0M117.9 376.2h0M116.4 383.2h0M120.5 360.6h0M107.0 377.0h0M108.9 369.6h0M131.9 357.1h0M118.0 367.6h0M118.0 370.4h0M116.8 366.6h0M115.7 379.6h0M133.7 361.8h0M132.9 359.1h0M126.0 358.4h0M130.1 363.2h0M112.6 373.9h0M122.9 365.8h0M131.2 357.9h0M130.9 372.2h0M111.9 369.5h0M135.8 363.9h0M125.4 367.7h0M119.3 364.6h0M132.8 367.0h0M124.5 357.5h0M137.5 352.9h0M121.7 369.5h0M119.2 376.1h0M122.0 361.6h0M119.2 372.3h0M112.9 371.6h0M115.9 370.3h0M119.3 363.7h0M118.6 384.8h0M138.4 363.5h0M111.1 381.8h0M128.6 362.6h0M113.3 382.0h0M117.3 376.4h0M122.1 370.3h0M111.5 369.5h0M110.8 379.8h0M110.0 376.6h0M118.6 375.8h0M137.0 352.7h0M115.7 379.7h0M135.9 347.7h0M115.9 380.2h0M117.3 355.4h0M114.2 367.8h0M122.8 370.4h0M134.8 358.8h0M110.6 378.8h0M133.6 362.2h0M131.4 361.3h0M110.2 378.3h0M116.2 358.8h0M123.7 359.8h0M137.5 356.3h0M121.5 369.8h0M118.3 365.0h0M116.9 364.6h0M127.8 358.7h0M120.2 375.0h0M123.9 359.1h0M129.5 356.3h0M124.6 366.5h0M121.1 372.1h0M124.0 365.7h0M120.3 371.1h0M128.6 370.8h0M125.0 363.9h0M127.0 374.1h0M113.6 370.7h0M119.6 369.7h0M126.4 361.4h0M110.4 381.4h0M129.2 357.7h0M117.2 372.7h0M117.7 366.7h0M123.3 365.9h0M118.0 374.8h0M124.5 379.9h0M105.7 374.9h0M106.5 375.3h0M127.1 356.6h0M126.1 365.8h0M125.8 361.4h0M137.5 359.3h0M115.1 374.0h0M111.9 369.9h0M121.1 367.2h0M111.7 379.8h0M121.0 379.9h0M120.0 361.2h0M108.1 378.0h0M121.9 369.2h0M114.3 375.7h0M111.1 367.9h0M136.8 350.2h0M132.5 355.7h0M121.0 367.3h0M129.1 355.1h0M121.6 368.5h0M127.7 375.7h0M114.1 376.0h0M118.9 365.4h0M111.6 366.9h0M117.9 363.1h0M106.1 373.3h0M116.7 378.2h0M119.0 377.9h0M136.6 362.5h0M117.7 355.2h0M113.4 371.4h0M131.8 350.9h0M108.7 381.1h0M121.0 365.5h0M132.4 353.5h0M130.2 358.2h0M127.2 358.5h0M119.4 360.5h0M127.9 360.1h0M118.6 375.3h0M135.3 356.3h0M131.2 355.8h0M127.6 359.8h0M121.5 352.0h0M122.2 369.3h0M114.2 381.0h0M120.8 372.3h0M133.8 365.7h0M118.9 365.6h0M117.9 363.7h0M130.6 360.6h0M139.1 358.8h0" stroke="#8a8a8a" stroke-width="0.55" stroke-linecap="square" fill="none" opacity="0.35"/>
<path d="M107.1 355.5 L107.1 383.2 L112.0 383.2" fill="none" stroke="#9c9c9c" stroke-width="2.6" stroke-linejoin="round" stroke-linecap="round"/>
<path d="M107.1 355.5 L107.1 383.2 L112.0 383.2" fill="none" stroke="#ececec" stroke-width="1.0" stroke-linejoin="round" stroke-linecap="round"/>
<rect x="40.50" y="387.20" width="41.70" height="42.80" fill="#fff" stroke="#111" stroke-width="0.8"/>
<path d="M50.9 400.4h0M56.5 411.2h0M61.1 407.7h0M64.5 408.0h0M66.4 410.8h0M61.8 414.3h0M61.4 408.0h0M51.6 415.8h0M70.2 398.3h0M52.9 400.2h0M78.1 410.1h0M74.1 398.7h0M63.9 402.5h0M65.5 413.7h0M62.0 415.3h0M63.0 394.5h0M71.1 400.0h0M50.4 418.7h0M58.1 390.8h0M65.3 396.2h0M66.7 398.5h0M65.4 410.8h0M52.6 403.4h0M54.5 389.8h0M62.4 414.2h0M48.6 413.5h0M63.2 395.2h0M72.5 405.2h0M76.2 417.0h0M58.1 411.4h0M71.3 410.8h0M71.1 393.4h0M53.1 404.7h0M67.9 419.2h0M50.5 406.2h0M67.5 408.1h0M63.4 419.9h0M61.1 406.1h0M66.1 414.5h0M63.6 395.0h0M65.3 411.0h0M72.4 412.0h0M56.2 412.0h0M74.4 389.9h0M64.1 413.3h0M70.2 407.6h0M76.0 391.5h0M62.8 401.3h0M79.8 409.1h0M61.8 407.6h0M62.2 404.2h0M60.8 404.9h0M64.3 409.1h0M57.9 414.9h0M59.1 401.6h0M69.5 398.2h0M68.4 397.6h0M58.1 407.2h0M54.9 412.0h0M60.8 402.8h0M60.8 393.3h0M61.7 409.8h0M66.6 397.0h0M56.1 405.6h0M59.4 401.5h0M61.0 396.7h0M68.8 408.0h0M64.1 397.3h0M66.5 424.4h0M47.0 395.3h0M62.5 408.6h0M62.3 409.4h0M58.8 409.3h0M73.1 396.4h0M55.9 422.1h0M63.6 401.6h0M73.0 402.9h0M61.7 411.1h0M49.3 406.2h0M75.3 403.8h0M70.6 398.0h0M62.3 414.3h0M67.3 396.4h0M60.8 414.0h0M66.6 393.0h0M67.7 409.8h0M75.0 414.3h0M68.6 394.1h0M64.9 413.8h0M52.8 402.6h0M72.8 405.6h0M64.2 404.2h0M61.3 412.6h0M64.2 399.5h0M66.2 408.6h0M57.6 404.5h0M67.7 405.5h0M64.7 400.5h0M72.2 416.4h0M65.4 406.7h0M68.4 405.6h0M67.0 406.4h0M61.3 415.3h0M59.7 408.0h0M52.9 403.3h0M54.9 396.4h0M60.9 410.5h0M64.1 423.5h0M44.3 415.5h0M53.3 414.4h0M66.8 400.9h0M59.7 408.2h0M69.0 400.7h0M76.7 398.0h0M49.0 419.6h0M69.3 409.6h0M55.8 402.3h0M62.6 411.4h0M62.8 400.1h0M64.4 416.5h0M58.1 417.8h0M49.6 405.8h0M56.6 414.6h0M48.2 397.2h0M67.3 412.5h0M68.2 413.2h0M55.9 412.2h0M55.2 420.2h0M50.6 405.7h0M54.8 417.2h0M50.9 404.2h0M58.4 417.8h0M54.8 406.5h0M53.5 403.7h0M76.4 404.8h0M49.6 409.7h0M61.5 404.2h0M66.0 403.1h0M73.5 402.8h0M55.8 406.2h0M55.9 400.1h0M42.8 393.6h0M61.9 411.2h0M56.3 404.5h0M49.9 394.0h0M63.2 411.5h0M79.0 394.1h0M63.1 406.6h0M72.7 410.9h0M69.9 416.1h0M58.9 421.3h0M59.5 406.9h0M65.2 419.4h0M50.6 398.3h0M65.7 404.9h0M68.6 407.3h0M52.8 425.7h0M49.7 402.2h0M71.0 417.9h0M63.3 399.0h0M73.1 417.6h0M58.5 390.3h0M53.9 420.6h0M56.3 408.8h0M67.7 413.9h0M49.9 419.1h0M72.6 391.7h0M65.2 401.7h0M54.5 393.2h0M54.5 398.2h0M71.5 425.1h0M57.4 404.0h0M64.1 409.0h0M59.5 427.5h0M61.2 410.1h0M66.1 411.5h0M64.6 405.9h0M71.0 412.4h0M67.3 410.2h0M80.1 403.5h0M61.5 415.6h0M71.8 405.1h0M64.4 391.3h0M59.3 401.9h0M51.2 416.8h0M59.1 400.7h0M58.8 401.1h0M73.0 398.7h0M56.3 409.2h0M55.3 418.6h0M71.2 405.1h0M67.7 404.6h0M45.1 412.4h0M65.0 422.8h0M61.4 424.5h0M61.6 403.7h0M62.6 414.8h0M68.5 401.3h0M71.5 409.0h0M61.8 400.6h0M67.9 401.8h0M63.9 401.6h0M57.1 424.5h0M70.5 408.0h0M73.6 410.8h0M63.4 408.0h0M72.4 397.2h0M69.1 404.5h0M69.5 396.9h0M43.2 396.1h0M69.9 402.7h0M60.9 411.8h0M63.3 410.2h0M72.8 407.8h0M70.4 407.9h0M77.5 400.7h0M69.4 401.8h0M61.2 404.9h0M71.2 407.4h0M52.3 411.0h0M63.3 391.2h0M56.2 406.9h0M59.0 405.3h0M58.3 412.3h0M72.1 391.6h0M66.6 396.6h0M54.9 400.4h0M62.9 409.3h0M57.4 399.3h0M61.4 403.8h0M64.4 411.1h0M73.9 411.3h0M55.4 400.0h0M63.0 395.3h0M61.2 411.3h0M59.5 393.2h0M66.3 396.5h0M78.5 414.1h0M67.0 416.3h0" stroke="#8a8a8a" stroke-width="0.55" stroke-linecap="square" fill="none" opacity="0.35"/>
<path d="M47.5 399.7 L47.5 425.0 L70.7 425.0" fill="none" stroke="#9c9c9c" stroke-width="2.6" stroke-linejoin="round" stroke-linecap="round"/>
<path d="M47.5 399.7 L47.5 425.0 L70.7 425.0" fill="none" stroke="#ececec" stroke-width="1.0" stroke-linejoin="round" stroke-linecap="round"/>
<rect x="99.50" y="387.20" width="42.50" height="42.80" fill="#fff" stroke="#111" stroke-width="0.8"/>
<path d="M106.8 419.0h0M114.8 423.3h0M132.5 397.7h0M110.5 418.7h0M129.4 407.6h0M119.5 408.0h0M115.3 422.4h0M136.6 406.8h0M130.7 401.9h0M130.8 391.6h0M119.0 418.1h0M134.9 390.3h0M118.4 425.4h0M112.4 417.8h0M117.2 425.7h0M128.8 406.6h0M114.2 412.6h0M113.4 416.6h0M123.5 404.6h0M136.7 404.9h0M132.0 399.1h0M118.9 413.6h0M109.5 414.7h0M131.3 407.1h0M106.0 420.9h0M112.9 417.3h0M130.9 403.3h0M112.3 421.2h0M113.8 415.2h0M113.9 411.0h0M136.4 394.5h0M132.3 401.6h0M108.2 409.4h0M114.8 411.2h0M134.6 402.4h0M136.4 398.9h0M128.0 402.4h0M137.9 393.2h0M111.5 419.3h0M129.2 403.8h0M135.2 394.2h0M115.9 422.0h0M127.6 398.1h0M132.2 400.5h0M113.7 405.2h0M117.4 419.5h0M105.2 421.0h0M115.1 418.9h0M124.1 405.8h0M129.0 400.5h0M118.9 418.3h0M119.7 410.7h0M125.4 407.6h0M120.2 407.5h0M125.8 406.8h0M138.2 395.5h0M111.6 415.1h0M132.0 418.0h0M115.1 426.9h0M131.6 391.8h0M115.4 415.7h0M116.1 411.2h0M123.6 402.7h0M108.8 414.0h0M126.1 408.0h0M130.3 400.6h0M126.7 414.2h0M129.2 403.8h0M109.8 413.2h0M118.1 403.5h0M126.2 409.0h0M124.4 402.0h0M128.5 397.7h0M126.0 406.1h0M127.9 407.4h0M137.6 389.6h0M119.8 413.0h0M110.9 416.2h0M114.2 410.2h0M119.0 412.9h0M115.8 421.6h0M125.4 405.3h0M109.4 422.3h0M114.2 428.0h0M127.5 400.6h0M133.3 398.6h0M124.0 410.3h0M130.2 401.4h0M131.8 399.9h0M117.1 403.0h0M124.7 399.9h0M127.1 400.7h0M130.6 402.2h0M135.4 405.6h0M115.2 412.3h0M118.8 403.6h0M111.2 424.0h0M125.7 391.0h0M132.2 395.4h0M123.6 396.8h0M128.6 410.0h0M137.9 394.6h0M122.8 413.0h0M132.5 403.2h0M117.2 412.6h0M118.3 415.0h0M130.9 399.2h0M133.1 400.7h0M122.7 414.5h0M127.6 406.5h0M119.6 412.2h0M116.6 413.3h0M118.4 410.4h0M121.2 411.0h0M129.6 405.2h0M124.7 411.4h0M136.7 407.1h0M121.9 415.2h0M117.7 407.5h0M126.2 405.8h0M138.8 400.0h0M119.5 408.2h0M110.7 416.1h0M135.2 408.8h0M110.1 425.4h0M119.1 416.2h0M130.0 401.5h0M130.9 399.7h0M118.3 404.3h0M122.4 409.9h0M106.6 420.2h0M124.2 397.9h0M122.5 408.5h0M114.5 409.9h0M126.2 403.4h0M115.1 427.9h0M132.7 407.9h0M106.2 423.9h0M116.3 412.0h0M131.3 397.8h0M131.0 398.2h0M114.7 411.1h0M122.5 410.4h0M135.7 394.3h0M122.5 400.3h0M126.4 407.6h0M125.4 404.4h0M132.4 396.7h0M119.2 411.5h0M109.0 413.2h0M121.7 403.9h0M129.0 401.4h0M133.5 397.0h0M131.8 390.5h0M132.6 391.2h0M112.5 403.7h0M123.5 410.7h0M115.0 420.9h0M117.7 417.2h0M120.5 406.5h0M119.0 416.6h0M125.5 397.4h0M124.3 411.9h0M118.4 421.0h0M127.1 402.0h0M118.3 412.1h0M111.0 412.4h0M135.1 397.4h0M114.1 418.2h0M131.6 405.7h0M121.5 400.4h0M133.9 411.6h0M127.3 400.2h0M109.3 423.5h0M128.4 406.7h0M118.4 422.6h0M120.4 418.4h0M130.1 398.9h0M126.3 397.4h0M119.7 413.2h0M121.6 412.8h0M129.9 400.0h0M111.2 418.0h0M118.7 422.0h0M116.5 414.6h0M116.7 417.8h0M131.2 398.0h0M120.7 414.0h0M123.3 398.1h0M123.2 406.9h0M109.1 424.7h0M126.4 404.3h0M127.1 399.3h0M117.6 408.3h0M119.9 417.3h0M124.3 410.1h0M120.4 416.7h0M134.7 391.7h0M114.8 426.9h0M129.6 402.0h0M116.6 413.4h0M122.1 410.6h0M123.9 403.6h0M107.1 421.9h0M121.0 419.0h0M124.9 407.1h0M111.9 422.4h0M129.0 409.6h0M124.5 396.4h0M112.8 425.3h0M119.2 413.3h0M128.4 398.0h0M116.5 404.8h0M123.9 409.9h0M124.9 414.0h0M129.7 401.5h0M124.6 406.2h0M120.2 422.5h0M115.3 413.5h0M134.4 403.5h0M117.4 420.8h0M117.5 409.4h0M132.0 393.9h0M110.5 426.4h0M110.8 412.3h0M125.8 402.1h0M123.2 412.7h0M118.9 404.8h0M106.0 418.0h0M136.8 398.1h0M136.8 394.7h0M118.3 407.9h0M123.0 399.0h0M108.7 425.6h0M132.9 401.3h0M116.1 411.0h0M132.5 401.4h0M115.1 417.2h0M122.6 419.0h0M134.9 397.9h0M122.6 413.8h0M102.3 414.0h0" stroke="#8a8a8a" stroke-width="0.55" stroke-linecap="square" fill="none" opacity="0.35"/>
<path d="M107.1 397.7 L107.1 426.0 L112.0 426.0" fill="none" stroke="#9c9c9c" stroke-width="2.6" stroke-linejoin="round" stroke-linecap="round"/>
<path d="M107.1 397.7 L107.1 426.0 L112.0 426.0" fill="none" stroke="#ececec" stroke-width="1.0" stroke-linejoin="round" stroke-linecap="round"/>
<ellipse cx="63" cy="325" rx="10.5" ry="13.5" fill="#33b377" opacity="0.10"/>
<ellipse cx="63.0" cy="325.0" rx="10.50" ry="13.50" fill="none" stroke="#33b377" stroke-width="0.6" opacity="0.28" transform="rotate(18.8 63.0 325.0)"/>
<ellipse cx="63.0" cy="325.1" rx="9.19" ry="11.81" fill="none" stroke="#33b377" stroke-width="0.6" opacity="0.28" transform="rotate(-0.9 63.0 325.1)"/>
<ellipse cx="62.9" cy="324.2" rx="7.88" ry="10.12" fill="none" stroke="#33b377" stroke-width="0.6" opacity="0.28" transform="rotate(6.1 62.9 324.2)"/>
<ellipse cx="62.6" cy="324.8" rx="6.56" ry="8.44" fill="none" stroke="#33b377" stroke-width="0.6" opacity="0.28" transform="rotate(-0.1 62.6 324.8)"/>
<ellipse cx="63.4" cy="325.7" rx="5.25" ry="6.75" fill="none" stroke="#33b377" stroke-width="0.6" opacity="0.28" transform="rotate(17.0 63.4 325.7)"/>
<ellipse cx="63.2" cy="324.9" rx="3.94" ry="5.06" fill="none" stroke="#33b377" stroke-width="0.6" opacity="0.28" transform="rotate(-0.2 63.2 324.9)"/>
<ellipse cx="63.5" cy="325.1" rx="2.62" ry="3.38" fill="none" stroke="#33b377" stroke-width="0.6" opacity="0.28" transform="rotate(4.7 63.5 325.1)"/>
<rect x="57.5" y="336.2" width="13.8" height="3.4" rx="1.7" fill="#33b377" fill-opacity="0.25" stroke="#33b377" stroke-width="1.1"/>
<ellipse cx="117.5" cy="314.5" rx="12" ry="8" fill="#33b377" opacity="0.12"/>
<ellipse cx="117.0" cy="315.2" rx="12.00" ry="8.00" fill="none" stroke="#33b377" stroke-width="0.6" opacity="0.33" transform="rotate(7.8 117.0 315.2)"/>
<ellipse cx="117.5" cy="313.8" rx="10.50" ry="7.00" fill="none" stroke="#33b377" stroke-width="0.6" opacity="0.33" transform="rotate(9.2 117.5 313.8)"/>
<ellipse cx="116.8" cy="313.8" rx="9.00" ry="6.00" fill="none" stroke="#33b377" stroke-width="0.6" opacity="0.33" transform="rotate(-6.4 116.8 313.8)"/>
<ellipse cx="117.8" cy="314.8" rx="7.50" ry="5.00" fill="none" stroke="#33b377" stroke-width="0.6" opacity="0.33" transform="rotate(0.4 117.8 314.8)"/>
<ellipse cx="117.3" cy="314.0" rx="6.00" ry="4.00" fill="none" stroke="#33b377" stroke-width="0.6" opacity="0.33" transform="rotate(-9.1 117.3 314.0)"/>
<ellipse cx="118.2" cy="314.1" rx="4.50" ry="3.00" fill="none" stroke="#33b377" stroke-width="0.6" opacity="0.33" transform="rotate(4.7 118.2 314.1)"/>
<ellipse cx="118.1" cy="314.9" rx="3.00" ry="2.00" fill="none" stroke="#33b377" stroke-width="0.6" opacity="0.33" transform="rotate(3.0 118.1 314.9)"/>
<rect x="106.2" y="311.0" width="3.0" height="13.5" rx="1.5" fill="#33b377" fill-opacity="0.3" stroke="#33b377" stroke-width="1.1"/>
<ellipse cx="62.8" cy="360" rx="9.5" ry="9.8" fill="#e5168a" opacity="0.10"/>
<ellipse cx="63.3" cy="359.6" rx="9.50" ry="9.80" fill="none" stroke="#e5168a" stroke-width="0.6" opacity="0.33" transform="rotate(3.7 63.3 359.6)"/>
<ellipse cx="62.1" cy="359.4" rx="8.31" ry="8.58" fill="none" stroke="#e5168a" stroke-width="0.6" opacity="0.33" transform="rotate(-3.6 62.1 359.4)"/>
<ellipse cx="62.5" cy="360.5" rx="7.12" ry="7.35" fill="none" stroke="#e5168a" stroke-width="0.6" opacity="0.33" transform="rotate(6.3 62.5 360.5)"/>
<ellipse cx="63.0" cy="360.3" rx="5.94" ry="6.12" fill="none" stroke="#e5168a" stroke-width="0.6" opacity="0.33" transform="rotate(1.9 63.0 360.3)"/>
<ellipse cx="63.1" cy="359.5" rx="4.75" ry="4.90" fill="none" stroke="#e5168a" stroke-width="0.6" opacity="0.33" transform="rotate(-2.1 63.1 359.5)"/>
<ellipse cx="62.7" cy="360.0" rx="3.56" ry="3.68" fill="none" stroke="#e5168a" stroke-width="0.6" opacity="0.33" transform="rotate(5.2 62.7 360.0)"/>
<ellipse cx="63.0" cy="360.2" rx="2.38" ry="2.45" fill="none" stroke="#e5168a" stroke-width="0.6" opacity="0.33" transform="rotate(9.2 63.0 360.2)"/>
<circle cx="62.8" cy="359.7" r="2.5" fill="#fff" opacity="0.6"/>
<ellipse cx="114.5" cy="359.5" rx="9.5" ry="9" fill="#e5168a" opacity="0.10"/>
<ellipse cx="115.1" cy="359.5" rx="9.50" ry="9.00" fill="none" stroke="#e5168a" stroke-width="0.6" opacity="0.3" transform="rotate(-11.2 115.1 359.5)"/>
<ellipse cx="114.3" cy="358.8" rx="8.14" ry="7.71" fill="none" stroke="#e5168a" stroke-width="0.6" opacity="0.3" transform="rotate(1.5 114.3 358.8)"/>
<ellipse cx="114.1" cy="360.0" rx="6.79" ry="6.43" fill="none" stroke="#e5168a" stroke-width="0.6" opacity="0.3" transform="rotate(-5.4 114.1 360.0)"/>
<ellipse cx="115.3" cy="359.6" rx="5.43" ry="5.14" fill="none" stroke="#e5168a" stroke-width="0.6" opacity="0.3" transform="rotate(-8.2 115.3 359.6)"/>
<ellipse cx="113.8" cy="359.6" rx="4.07" ry="3.86" fill="none" stroke="#e5168a" stroke-width="0.6" opacity="0.3" transform="rotate(-6.3 113.8 359.6)"/>
<ellipse cx="114.7" cy="359.8" rx="2.71" ry="2.57" fill="none" stroke="#e5168a" stroke-width="0.6" opacity="0.3" transform="rotate(-11.0 114.7 359.8)"/>
<rect x="105.3" y="351.4" width="3.6" height="18.6" rx="1.8" fill="#e5168a" opacity="0.55"/>
<ellipse cx="59" cy="401.5" rx="12.5" ry="8.2" fill="#5f94d8" opacity="0.16"/>
<ellipse cx="59.2" cy="401.7" rx="12.50" ry="8.20" fill="none" stroke="#5f94d8" stroke-width="0.6" opacity="0.4" transform="rotate(-9.7 59.2 401.7)"/>
<ellipse cx="59.4" cy="401.7" rx="10.94" ry="7.17" fill="none" stroke="#5f94d8" stroke-width="0.6" opacity="0.4" transform="rotate(4.2 59.4 401.7)"/>
<ellipse cx="59.4" cy="401.1" rx="9.38" ry="6.15" fill="none" stroke="#5f94d8" stroke-width="0.6" opacity="0.4" transform="rotate(1.7 59.4 401.1)"/>
<ellipse cx="58.6" cy="401.1" rx="7.81" ry="5.12" fill="none" stroke="#5f94d8" stroke-width="0.6" opacity="0.4" transform="rotate(10.1 58.6 401.1)"/>
<ellipse cx="58.8" cy="401.7" rx="6.25" ry="4.10" fill="none" stroke="#5f94d8" stroke-width="0.6" opacity="0.4" transform="rotate(-11.9 58.8 401.7)"/>
<ellipse cx="59.0" cy="402.2" rx="4.69" ry="3.07" fill="none" stroke="#5f94d8" stroke-width="0.6" opacity="0.4" transform="rotate(6.1 59.0 402.2)"/>
<ellipse cx="58.9" cy="401.2" rx="3.12" ry="2.05" fill="none" stroke="#5f94d8" stroke-width="0.6" opacity="0.4" transform="rotate(-8.7 58.9 401.2)"/>
<ellipse cx="109.5" cy="407" rx="6.5" ry="8.5" fill="#5f94d8" opacity="0.18"/>
<ellipse cx="109.7" cy="407.8" rx="6.50" ry="8.50" fill="none" stroke="#5f94d8" stroke-width="0.6" opacity="0.4" transform="rotate(-2.9 109.7 407.8)"/>
<ellipse cx="109.7" cy="406.6" rx="5.57" ry="7.29" fill="none" stroke="#5f94d8" stroke-width="0.6" opacity="0.4" transform="rotate(8.8 109.7 406.6)"/>
<ellipse cx="110.0" cy="407.7" rx="4.64" ry="6.07" fill="none" stroke="#5f94d8" stroke-width="0.6" opacity="0.4" transform="rotate(7.3 110.0 407.7)"/>
<ellipse cx="109.2" cy="406.4" rx="3.71" ry="4.86" fill="none" stroke="#5f94d8" stroke-width="0.6" opacity="0.4" transform="rotate(5.6 109.2 406.4)"/>
<ellipse cx="109.6" cy="406.4" rx="2.79" ry="3.64" fill="none" stroke="#5f94d8" stroke-width="0.6" opacity="0.4" transform="rotate(4.6 109.6 406.4)"/>
<ellipse cx="109.7" cy="407.0" rx="1.86" ry="2.43" fill="none" stroke="#5f94d8" stroke-width="0.6" opacity="0.4" transform="rotate(-7.0 109.7 407.0)"/>
<rect x="104.0" y="399.0" width="3.6" height="16.0" rx="1.8" fill="#5f94d8" opacity="0.55"/>
<line x1="36.30" y1="434.00" x2="36.30" y2="415.00" stroke="#111" stroke-width="0.8"/>
<path d="M34.8 415.5 L36.3 412.0 L37.8 415.5 Z" fill="#111"/>
<line x1="35.90" y1="433.70" x2="54.80" y2="433.70" stroke="#111" stroke-width="0.8"/>
<path d="M54.3 432.2 L57.8 433.7 L54.3 435.2 Z" fill="#111"/>
<text x="36.30" y="442.60" font-size="6.9" fill="#111" stroke="#111" stroke-width="0.18" textLength="15.00" lengthAdjust="spacingAndGlyphs">BTLA</text>
<text x="32.10" y="432.80" font-size="6.9" fill="#111" stroke="#111" stroke-width="0.18" textLength="18.50" lengthAdjust="spacingAndGlyphs" transform="rotate(-90 32.10 432.80)">CD161</text>
<line x1="95.20" y1="434.00" x2="95.20" y2="415.00" stroke="#111" stroke-width="0.8"/>
<path d="M93.7 415.5 L95.2 412.0 L96.7 415.5 Z" fill="#111"/>
<line x1="94.80" y1="433.70" x2="113.70" y2="433.70" stroke="#111" stroke-width="0.8"/>
<path d="M113.2 432.2 L116.7 433.7 L113.2 435.2 Z" fill="#111"/>
<text x="97.60" y="442.60" font-size="6.9" fill="#111" stroke="#111" stroke-width="0.18" textLength="15.00" lengthAdjust="spacingAndGlyphs">TIGIT</text>
<text x="91.00" y="430.50" font-size="6.9" fill="#111" stroke="#111" stroke-width="0.18" textLength="13.00" lengthAdjust="spacingAndGlyphs" transform="rotate(-90 91.00 430.50)">PD-1</text>
<circle cx="44.50" cy="453.10" r="2.10" fill="#9a9a9a"/>
<text x="48.70" y="455.50" font-size="7.1" fill="#a5a5a5" textLength="46.20" lengthAdjust="spacingAndGlyphs">Bulk CD4 T cells</text>
<circle cx="105.00" cy="453.10" r="2.10" fill="#e5168a"/>
<text x="109.20" y="455.50" font-size="7.1" fill="#e5168a" textLength="29.40" lengthAdjust="spacingAndGlyphs">Cluster 26</text>
<circle cx="44.50" cy="462.10" r="2.10" fill="#33b377"/>
<text x="48.70" y="464.50" font-size="7.1" fill="#33b377" textLength="29.80" lengthAdjust="spacingAndGlyphs">Cluster 25</text>
<circle cx="88.00" cy="462.10" r="2.10" fill="#5f94d8"/>
<text x="92.20" y="464.50" font-size="7.1" fill="#5f94d8" textLength="29.50" lengthAdjust="spacingAndGlyphs">Cluster 22</text>
<line x1="202.20" y1="298.30" x2="202.20" y2="359.60" stroke="#231f20" stroke-width="0.8"/>
<line x1="198.90" y1="359.30" x2="202.20" y2="359.30" stroke="#231f20" stroke-width="0.7"/>
<line x1="198.90" y1="349.83" x2="202.20" y2="349.83" stroke="#231f20" stroke-width="0.7"/>
<line x1="198.90" y1="340.36" x2="202.20" y2="340.36" stroke="#231f20" stroke-width="0.7"/>
<line x1="198.90" y1="330.89" x2="202.20" y2="330.89" stroke="#231f20" stroke-width="0.7"/>
<line x1="198.90" y1="321.42" x2="202.20" y2="321.42" stroke="#231f20" stroke-width="0.7"/>
<line x1="198.90" y1="311.95" x2="202.20" y2="311.95" stroke="#231f20" stroke-width="0.7"/>
<line x1="198.90" y1="302.48" x2="202.20" y2="302.48" stroke="#231f20" stroke-width="0.7"/>
<line x1="200.40" y1="356.93" x2="202.20" y2="356.93" stroke="#231f20" stroke-width="0.45"/>
<line x1="200.40" y1="354.56" x2="202.20" y2="354.56" stroke="#231f20" stroke-width="0.45"/>
<line x1="200.40" y1="352.20" x2="202.20" y2="352.20" stroke="#231f20" stroke-width="0.45"/>
<line x1="200.40" y1="347.46" x2="202.20" y2="347.46" stroke="#231f20" stroke-width="0.45"/>
<line x1="200.40" y1="345.10" x2="202.20" y2="345.10" stroke="#231f20" stroke-width="0.45"/>
<line x1="200.40" y1="342.73" x2="202.20" y2="342.73" stroke="#231f20" stroke-width="0.45"/>
<line x1="200.40" y1="337.99" x2="202.20" y2="337.99" stroke="#231f20" stroke-width="0.45"/>
<line x1="200.40" y1="335.62" x2="202.20" y2="335.62" stroke="#231f20" stroke-width="0.45"/>
<line x1="200.40" y1="333.26" x2="202.20" y2="333.26" stroke="#231f20" stroke-width="0.45"/>
<line x1="200.40" y1="328.52" x2="202.20" y2="328.52" stroke="#231f20" stroke-width="0.45"/>
<line x1="200.40" y1="326.16" x2="202.20" y2="326.16" stroke="#231f20" stroke-width="0.45"/>
<line x1="200.40" y1="323.79" x2="202.20" y2="323.79" stroke="#231f20" stroke-width="0.45"/>
<line x1="200.40" y1="319.05" x2="202.20" y2="319.05" stroke="#231f20" stroke-width="0.45"/>
<line x1="200.40" y1="316.69" x2="202.20" y2="316.69" stroke="#231f20" stroke-width="0.45"/>
<line x1="200.40" y1="314.32" x2="202.20" y2="314.32" stroke="#231f20" stroke-width="0.45"/>
<line x1="200.40" y1="309.58" x2="202.20" y2="309.58" stroke="#231f20" stroke-width="0.45"/>
<line x1="200.40" y1="307.22" x2="202.20" y2="307.22" stroke="#231f20" stroke-width="0.45"/>
<line x1="200.40" y1="304.85" x2="202.20" y2="304.85" stroke="#231f20" stroke-width="0.45"/>
<text x="196.00" y="361.70" font-size="6.8" fill="#222" stroke="#222" stroke-width="0.18" text-anchor="end">0</text>
<text x="196.00" y="352.23" font-size="6.8" fill="#222" stroke="#222" stroke-width="0.18" text-anchor="end">1</text>
<text x="196.00" y="342.76" font-size="6.8" fill="#222" stroke="#222" stroke-width="0.18" text-anchor="end">2</text>
<text x="196.00" y="333.29" font-size="6.8" fill="#222" stroke="#222" stroke-width="0.18" text-anchor="end">3</text>
<text x="196.00" y="323.82" font-size="6.8" fill="#222" stroke="#222" stroke-width="0.18" text-anchor="end">4</text>
<text x="196.00" y="314.35" font-size="6.8" fill="#222" stroke="#222" stroke-width="0.18" text-anchor="end">5</text>
<text x="196.00" y="304.88" font-size="6.8" fill="#222" stroke="#222" stroke-width="0.18" text-anchor="end">6</text>
<line x1="201.80" y1="359.30" x2="333.80" y2="359.30" stroke="#231f20" stroke-width="0.8"/>
<rect x="204.60" y="347.46" width="5.60" height="11.84" fill="#dcdcdc"/>
<path d="M208.6 350.1h0M208.3 351.0h0M208.7 347.0h0M207.5 343.2h0M205.4 351.3h0M209.3 349.6h0M206.6 350.9h0M208.6 346.3h0M206.0 348.2h0M206.7 349.9h0M206.1 340.3h0M209.4 340.1h0M208.8 339.4h0M205.9 344.5h0M205.2 346.2h0M206.9 345.8h0M206.0 348.2h0M208.9 342.3h0" stroke="#8a8a8a" stroke-width="1.2" stroke-linecap="round" fill="none"/>
<line x1="207.40" y1="344.46" x2="207.40" y2="350.46" stroke="#222" stroke-width="0.6"/>
<line x1="206.10" y1="344.46" x2="208.70" y2="344.46" stroke="#222" stroke-width="0.6"/>
<line x1="206.10" y1="350.46" x2="208.70" y2="350.46" stroke="#222" stroke-width="0.6"/>
<line x1="207.40" y1="359.30" x2="207.40" y2="362.00" stroke="#333" stroke-width="0.7"/>
<rect x="211.22" y="352.20" width="5.60" height="7.10" fill="#8fd5ae"/>
<path d="M216.1 350.5h0M215.9 351.2h0M212.8 347.9h0M212.8 353.1h0M212.8 351.1h0M216.1 356.7h0M212.2 354.0h0M215.2 353.0h0M213.3 349.9h0M214.6 354.7h0M213.7 350.5h0M213.2 353.4h0M214.8 356.5h0M214.7 355.8h0M213.5 354.4h0M213.7 350.2h0M211.8 348.5h0M213.9 354.7h0" stroke="#17a55f" stroke-width="1.2" stroke-linecap="round" fill="none"/>
<line x1="214.02" y1="349.70" x2="214.02" y2="354.70" stroke="#222" stroke-width="0.6"/>
<line x1="212.72" y1="349.70" x2="215.32" y2="349.70" stroke="#222" stroke-width="0.6"/>
<line x1="212.72" y1="354.70" x2="215.32" y2="354.70" stroke="#222" stroke-width="0.6"/>
<line x1="214.02" y1="359.30" x2="214.02" y2="362.00" stroke="#333" stroke-width="0.7"/>
<rect x="217.84" y="313.84" width="5.60" height="45.46" fill="#f27ab9"/>
<path d="M219.2 315.5h0M221.6 316.1h0M221.2 312.3h0M220.9 312.6h0M221.2 316.2h0M220.7 314.5h0M220.1 316.2h0M219.4 311.6h0M221.5 316.4h0M221.1 316.5h0M219.4 311.6h0M220.8 314.7h0M221.2 315.5h0M221.4 316.0h0M219.9 313.9h0M221.5 314.7h0M220.3 310.5h0M220.2 313.6h0" stroke="#e0107f" stroke-width="1.2" stroke-linecap="round" fill="none"/>
<line x1="220.64" y1="312.64" x2="220.64" y2="315.04" stroke="#222" stroke-width="0.6"/>
<line x1="219.34" y1="312.64" x2="221.94" y2="312.64" stroke="#222" stroke-width="0.6"/>
<line x1="219.34" y1="315.04" x2="221.94" y2="315.04" stroke="#222" stroke-width="0.6"/>
<line x1="220.64" y1="359.30" x2="220.64" y2="362.00" stroke="#333" stroke-width="0.7"/>
<rect x="224.46" y="316.69" width="5.60" height="42.62" fill="#a9c6ea"/>
<path d="M228.2 318.9h0M228.3 316.4h0M227.7 316.9h0M225.6 317.5h0M228.9 313.6h0M225.6 319.5h0M228.7 317.9h0M225.2 317.4h0M225.6 316.8h0M227.4 317.6h0M228.3 317.5h0M228.2 318.6h0M227.6 313.7h0M228.7 318.5h0M227.6 316.7h0M229.2 318.6h0M226.2 315.0h0M226.3 315.1h0" stroke="#4f86d0" stroke-width="1.2" stroke-linecap="round" fill="none"/>
<line x1="227.26" y1="315.49" x2="227.26" y2="317.88" stroke="#222" stroke-width="0.6"/>
<line x1="225.96" y1="315.49" x2="228.56" y2="315.49" stroke="#222" stroke-width="0.6"/>
<line x1="225.96" y1="317.88" x2="228.56" y2="317.88" stroke="#222" stroke-width="0.6"/>
<line x1="227.26" y1="359.30" x2="227.26" y2="362.00" stroke="#333" stroke-width="0.7"/>
<line x1="205.20" y1="364.60" x2="230.20" y2="364.60" stroke="#a3a3a3" stroke-width="1.9"/>
<text x="217.50" y="373.40" font-size="7.3" fill="#222" stroke="#222" stroke-width="0.18" text-anchor="middle" textLength="20.60" lengthAdjust="spacingAndGlyphs">CD161</text>
<rect x="238.00" y="343.20" width="5.60" height="16.10" fill="#dcdcdc"/>
<path d="M242.2 348.6h0M239.7 340.8h0M241.0 338.4h0M238.9 343.7h0M238.8 338.7h0M242.2 345.8h0M241.4 346.1h0M240.9 341.4h0M241.5 336.1h0M239.8 346.8h0M243.0 338.6h0M242.7 348.6h0M242.6 344.3h0M242.9 336.7h0M240.4 346.1h0M239.6 340.6h0M240.8 332.0h0M240.0 346.7h0" stroke="#8a8a8a" stroke-width="1.2" stroke-linecap="round" fill="none"/>
<line x1="240.80" y1="339.20" x2="240.80" y2="347.20" stroke="#222" stroke-width="0.6"/>
<line x1="239.50" y1="339.20" x2="242.10" y2="339.20" stroke="#222" stroke-width="0.6"/>
<line x1="239.50" y1="347.20" x2="242.10" y2="347.20" stroke="#222" stroke-width="0.6"/>
<line x1="240.80" y1="359.30" x2="240.80" y2="362.00" stroke="#333" stroke-width="0.7"/>
<rect x="244.62" y="312.90" width="5.60" height="46.40" fill="#8fd5ae"/>
<path d="M249.4 313.7h0M247.4 311.4h0M246.0 310.1h0M246.1 315.0h0M248.2 311.3h0M247.1 313.8h0M246.2 311.4h0M248.4 314.2h0M248.8 314.8h0M246.6 311.6h0M247.7 313.0h0M247.0 311.1h0M245.7 315.8h0M245.7 309.8h0M246.3 311.2h0M249.4 313.3h0M245.3 313.3h0M248.0 312.7h0" stroke="#17a55f" stroke-width="1.2" stroke-linecap="round" fill="none"/>
<line x1="247.42" y1="311.40" x2="247.42" y2="314.40" stroke="#222" stroke-width="0.6"/>
<line x1="246.12" y1="311.40" x2="248.72" y2="311.40" stroke="#222" stroke-width="0.6"/>
<line x1="246.12" y1="314.40" x2="248.72" y2="314.40" stroke="#222" stroke-width="0.6"/>
<line x1="247.42" y1="359.30" x2="247.42" y2="362.00" stroke="#333" stroke-width="0.7"/>
<rect x="251.24" y="316.69" width="5.60" height="42.62" fill="#f27ab9"/>
<path d="M254.6 313.7h0M254.9 317.0h0M252.6 319.4h0M252.8 314.8h0M256.1 314.8h0M255.0 317.2h0M252.8 314.9h0M254.5 317.1h0M253.8 317.8h0M253.4 316.1h0M252.1 315.5h0M254.8 315.7h0M255.8 315.7h0M254.4 319.4h0M252.1 319.8h0M252.9 314.8h0M251.9 315.5h0M255.5 314.7h0" stroke="#e0107f" stroke-width="1.2" stroke-linecap="round" fill="none"/>
<line x1="254.04" y1="315.29" x2="254.04" y2="318.08" stroke="#222" stroke-width="0.6"/>
<line x1="252.74" y1="315.29" x2="255.34" y2="315.29" stroke="#222" stroke-width="0.6"/>
<line x1="252.74" y1="318.08" x2="255.34" y2="318.08" stroke="#222" stroke-width="0.6"/>
<line x1="254.04" y1="359.30" x2="254.04" y2="362.00" stroke="#333" stroke-width="0.7"/>
<rect x="257.86" y="319.53" width="5.60" height="39.77" fill="#a9c6ea"/>
<path d="M261.6 324.5h0M258.5 320.5h0M262.3 317.8h0M262.2 319.0h0M260.6 318.4h0M259.7 322.7h0M260.5 317.2h0M262.6 320.5h0M260.0 319.4h0M262.7 318.8h0M261.3 319.8h0M261.5 316.1h0M259.7 320.8h0M259.3 321.7h0M259.2 319.3h0M261.6 318.9h0M262.2 321.2h0M262.1 318.2h0" stroke="#4f86d0" stroke-width="1.2" stroke-linecap="round" fill="none"/>
<line x1="260.66" y1="317.93" x2="260.66" y2="321.13" stroke="#222" stroke-width="0.6"/>
<line x1="259.36" y1="317.93" x2="261.96" y2="317.93" stroke="#222" stroke-width="0.6"/>
<line x1="259.36" y1="321.13" x2="261.96" y2="321.13" stroke="#222" stroke-width="0.6"/>
<line x1="260.66" y1="359.30" x2="260.66" y2="362.00" stroke="#333" stroke-width="0.7"/>
<line x1="238.60" y1="364.60" x2="263.60" y2="364.60" stroke="#a3a3a3" stroke-width="1.9"/>
<text x="250.90" y="373.40" font-size="7.3" fill="#222" stroke="#222" stroke-width="0.18" text-anchor="middle" textLength="13.50" lengthAdjust="spacingAndGlyphs">PD-1</text>
<rect x="271.80" y="352.20" width="5.60" height="7.10" fill="#dcdcdc"/>
<path d="M276.6 349.0h0M275.2 351.9h0M272.8 342.2h0M275.9 345.9h0M273.8 352.8h0M275.7 355.9h0M273.0 357.9h0M273.7 349.4h0M274.6 353.4h0M272.9 358.0h0M275.5 354.8h0M276.2 358.3h0M275.9 347.5h0M275.4 353.7h0M274.8 347.7h0M276.1 354.1h0M272.5 351.6h0M274.0 350.1h0" stroke="#8a8a8a" stroke-width="1.2" stroke-linecap="round" fill="none"/>
<line x1="274.60" y1="348.70" x2="274.60" y2="355.70" stroke="#222" stroke-width="0.6"/>
<line x1="273.30" y1="348.70" x2="275.90" y2="348.70" stroke="#222" stroke-width="0.6"/>
<line x1="273.30" y1="355.70" x2="275.90" y2="355.70" stroke="#222" stroke-width="0.6"/>
<line x1="274.60" y1="359.30" x2="274.60" y2="362.00" stroke="#333" stroke-width="0.7"/>
<rect x="278.42" y="329.94" width="5.60" height="29.36" fill="#8fd5ae"/>
<path d="M280.8 332.2h0M283.0 331.3h0M283.1 328.1h0M280.3 328.3h0M282.0 331.2h0M283.3 328.2h0M282.6 330.9h0M279.1 327.4h0M282.3 326.4h0M281.0 331.7h0M280.9 330.2h0M279.5 331.8h0M281.4 332.6h0M279.8 328.8h0M279.7 329.0h0M280.5 331.8h0M283.0 327.8h0M279.1 332.4h0" stroke="#17a55f" stroke-width="1.2" stroke-linecap="round" fill="none"/>
<line x1="281.22" y1="328.74" x2="281.22" y2="331.14" stroke="#222" stroke-width="0.6"/>
<line x1="279.92" y1="328.74" x2="282.52" y2="328.74" stroke="#222" stroke-width="0.6"/>
<line x1="279.92" y1="331.14" x2="282.52" y2="331.14" stroke="#222" stroke-width="0.6"/>
<line x1="281.22" y1="359.30" x2="281.22" y2="362.00" stroke="#333" stroke-width="0.7"/>
<rect x="285.04" y="332.78" width="5.60" height="26.52" fill="#f27ab9"/>
<path d="M287.0 328.7h0M289.7 332.5h0M287.7 332.1h0M289.3 327.7h0M286.1 332.4h0M287.6 328.8h0M287.3 336.6h0M288.4 332.1h0M289.1 334.5h0M287.7 334.9h0M287.9 326.6h0M287.6 338.0h0M287.8 336.3h0M286.9 334.8h0M288.0 336.6h0M289.4 331.0h0M288.7 326.2h0M287.3 337.8h0" stroke="#e0107f" stroke-width="1.2" stroke-linecap="round" fill="none"/>
<line x1="287.84" y1="330.78" x2="287.84" y2="334.78" stroke="#222" stroke-width="0.6"/>
<line x1="286.54" y1="330.78" x2="289.14" y2="330.78" stroke="#222" stroke-width="0.6"/>
<line x1="286.54" y1="334.78" x2="289.14" y2="334.78" stroke="#222" stroke-width="0.6"/>
<line x1="287.84" y1="359.30" x2="287.84" y2="362.00" stroke="#333" stroke-width="0.7"/>
<rect x="291.66" y="352.20" width="5.60" height="7.10" fill="#a9c6ea"/>
<path d="M294.1 354.2h0M292.7 352.9h0M294.6 353.3h0M293.7 351.4h0M293.7 354.0h0M293.7 349.8h0M294.2 352.2h0M292.6 352.5h0M293.6 350.6h0M294.2 351.1h0M292.9 354.0h0M295.7 351.0h0M293.4 357.4h0M295.9 353.7h0M295.8 352.7h0M293.2 347.6h0M295.8 347.5h0M293.6 348.3h0" stroke="#4f86d0" stroke-width="1.2" stroke-linecap="round" fill="none"/>
<line x1="294.46" y1="348.20" x2="294.46" y2="356.20" stroke="#222" stroke-width="0.6"/>
<line x1="293.16" y1="348.20" x2="295.76" y2="348.20" stroke="#222" stroke-width="0.6"/>
<line x1="293.16" y1="356.20" x2="295.76" y2="356.20" stroke="#222" stroke-width="0.6"/>
<line x1="294.46" y1="359.30" x2="294.46" y2="362.00" stroke="#333" stroke-width="0.7"/>
<line x1="272.40" y1="364.60" x2="297.40" y2="364.60" stroke="#a3a3a3" stroke-width="1.9"/>
<text x="284.70" y="373.40" font-size="7.3" fill="#222" stroke="#222" stroke-width="0.18" text-anchor="middle" textLength="15.60" lengthAdjust="spacingAndGlyphs">TIGIT</text>
<rect x="305.40" y="339.41" width="5.60" height="19.89" fill="#dcdcdc"/>
<path d="M309.3 336.2h0M309.5 339.0h0M307.1 338.9h0M307.5 338.7h0M308.3 345.2h0M308.9 338.5h0M308.9 344.2h0M306.9 343.1h0M310.2 336.8h0M307.6 342.6h0M309.8 346.6h0M307.5 340.7h0M307.7 337.7h0M308.9 328.4h0M308.4 334.6h0M309.7 337.9h0M306.6 347.5h0M309.8 335.0h0" stroke="#8a8a8a" stroke-width="1.2" stroke-linecap="round" fill="none"/>
<line x1="308.20" y1="335.91" x2="308.20" y2="342.91" stroke="#222" stroke-width="0.6"/>
<line x1="306.90" y1="335.91" x2="309.50" y2="335.91" stroke="#222" stroke-width="0.6"/>
<line x1="306.90" y1="342.91" x2="309.50" y2="342.91" stroke="#222" stroke-width="0.6"/>
<line x1="308.20" y1="359.30" x2="308.20" y2="362.00" stroke="#333" stroke-width="0.7"/>
<rect x="312.02" y="322.37" width="5.60" height="36.93" fill="#8fd5ae"/>
<path d="M313.0 320.0h0M313.9 327.9h0M314.2 316.6h0M315.2 327.1h0M315.7 324.1h0M315.1 323.6h0M314.8 321.7h0M313.5 318.7h0M313.4 322.6h0M314.6 323.5h0M315.4 317.6h0M316.2 319.2h0M316.5 322.3h0M314.8 321.9h0M313.3 321.0h0M312.9 323.0h0M314.3 327.5h0M316.0 325.7h0" stroke="#17a55f" stroke-width="1.2" stroke-linecap="round" fill="none"/>
<line x1="314.82" y1="320.17" x2="314.82" y2="324.57" stroke="#222" stroke-width="0.6"/>
<line x1="313.52" y1="320.17" x2="316.12" y2="320.17" stroke="#222" stroke-width="0.6"/>
<line x1="313.52" y1="324.57" x2="316.12" y2="324.57" stroke="#222" stroke-width="0.6"/>
<line x1="314.82" y1="359.30" x2="314.82" y2="362.00" stroke="#333" stroke-width="0.7"/>
<rect x="318.64" y="320.47" width="5.60" height="38.83" fill="#f27ab9"/>
<path d="M323.2 318.3h0M323.2 321.8h0M323.5 318.8h0M322.9 325.0h0M320.4 327.4h0M322.8 321.6h0M321.0 322.0h0M322.3 323.4h0M322.9 321.0h0M323.1 315.7h0M322.7 318.2h0M322.0 318.4h0M323.4 321.2h0M323.2 318.1h0M321.7 322.0h0M321.9 324.7h0M322.2 321.7h0M323.1 316.9h0" stroke="#e0107f" stroke-width="1.2" stroke-linecap="round" fill="none"/>
<line x1="321.44" y1="318.87" x2="321.44" y2="322.07" stroke="#222" stroke-width="0.6"/>
<line x1="320.14" y1="318.87" x2="322.74" y2="318.87" stroke="#222" stroke-width="0.6"/>
<line x1="320.14" y1="322.07" x2="322.74" y2="322.07" stroke="#222" stroke-width="0.6"/>
<line x1="321.44" y1="359.30" x2="321.44" y2="362.00" stroke="#333" stroke-width="0.7"/>
<rect x="325.26" y="343.20" width="5.60" height="16.10" fill="#a9c6ea"/>
<path d="M329.2 338.6h0M329.4 343.4h0M328.6 340.5h0M329.0 347.5h0M329.7 349.5h0M328.8 341.2h0M325.9 342.9h0M328.1 346.5h0M326.5 345.0h0M325.9 346.0h0M328.7 343.6h0M329.8 339.7h0M326.4 341.9h0M326.4 348.3h0M330.2 342.7h0M327.0 341.6h0M326.2 350.7h0M327.6 336.0h0" stroke="#4f86d0" stroke-width="1.2" stroke-linecap="round" fill="none"/>
<line x1="328.06" y1="339.70" x2="328.06" y2="346.70" stroke="#222" stroke-width="0.6"/>
<line x1="326.76" y1="339.70" x2="329.36" y2="339.70" stroke="#222" stroke-width="0.6"/>
<line x1="326.76" y1="346.70" x2="329.36" y2="346.70" stroke="#222" stroke-width="0.6"/>
<line x1="328.06" y1="359.30" x2="328.06" y2="362.00" stroke="#333" stroke-width="0.7"/>
<line x1="306.00" y1="364.60" x2="331.00" y2="364.60" stroke="#a3a3a3" stroke-width="1.9"/>
<text x="318.30" y="373.40" font-size="7.3" fill="#222" stroke="#222" stroke-width="0.18" text-anchor="middle" textLength="14.80" lengthAdjust="spacingAndGlyphs">BTLA</text>
<path d="M207.4 309.1 L207.4 302.1 L224.6 302.1 L224.6 306.4" fill="none" stroke="#333" stroke-width="0.7"/>
<line x1="217.90" y1="306.40" x2="229.80" y2="306.40" stroke="#333" stroke-width="0.7"/>
<text x="216.00" y="303.00" font-size="6.6" fill="#222" stroke="#222" stroke-width="0.18" text-anchor="middle">****</text>
<path d="M240.8 307.6 L240.8 302.1 L258.0 302.1 L258.0 305.4" fill="none" stroke="#333" stroke-width="0.7"/>
<line x1="251.30" y1="305.40" x2="263.40" y2="305.40" stroke="#333" stroke-width="0.7"/>
<text x="249.40" y="303.00" font-size="6.6" fill="#222" stroke="#222" stroke-width="0.18" text-anchor="middle">****</text>
<path d="M273.7 316.5 L273.7 312.0 L284.8 312.0 L284.8 314.6" fill="none" stroke="#333" stroke-width="0.7"/>
<line x1="279.20" y1="314.60" x2="289.60" y2="314.60" stroke="#333" stroke-width="0.7"/>
<text x="279.20" y="313.00" font-size="6.6" fill="#222" stroke="#222" stroke-width="0.18" text-anchor="middle">****</text>
<path d="M307.3 311.8 L307.3 307.3 L318.2 307.3 L318.2 310.8" fill="none" stroke="#333" stroke-width="0.7"/>
<line x1="312.00" y1="310.80" x2="323.40" y2="310.80" stroke="#333" stroke-width="0.7"/>
<text x="312.70" y="308.30" font-size="6.6" fill="#222" stroke="#222" stroke-width="0.18" text-anchor="middle">****</text>
<line x1="202.20" y1="388.50" x2="202.20" y2="448.00" stroke="#231f20" stroke-width="0.8"/>
<line x1="198.90" y1="447.70" x2="202.20" y2="447.70" stroke="#231f20" stroke-width="0.7"/>
<line x1="198.90" y1="436.62" x2="202.20" y2="436.62" stroke="#231f20" stroke-width="0.7"/>
<line x1="198.90" y1="425.54" x2="202.20" y2="425.54" stroke="#231f20" stroke-width="0.7"/>
<line x1="198.90" y1="414.46" x2="202.20" y2="414.46" stroke="#231f20" stroke-width="0.7"/>
<line x1="198.90" y1="403.38" x2="202.20" y2="403.38" stroke="#231f20" stroke-width="0.7"/>
<line x1="198.90" y1="392.30" x2="202.20" y2="392.30" stroke="#231f20" stroke-width="0.7"/>
<line x1="200.40" y1="444.93" x2="202.20" y2="444.93" stroke="#231f20" stroke-width="0.45"/>
<line x1="200.40" y1="442.16" x2="202.20" y2="442.16" stroke="#231f20" stroke-width="0.45"/>
<line x1="200.40" y1="439.39" x2="202.20" y2="439.39" stroke="#231f20" stroke-width="0.45"/>
<line x1="200.40" y1="433.85" x2="202.20" y2="433.85" stroke="#231f20" stroke-width="0.45"/>
<line x1="200.40" y1="431.08" x2="202.20" y2="431.08" stroke="#231f20" stroke-width="0.45"/>
<line x1="200.40" y1="428.31" x2="202.20" y2="428.31" stroke="#231f20" stroke-width="0.45"/>
<line x1="200.40" y1="422.77" x2="202.20" y2="422.77" stroke="#231f20" stroke-width="0.45"/>
<line x1="200.40" y1="420.00" x2="202.20" y2="420.00" stroke="#231f20" stroke-width="0.45"/>
<line x1="200.40" y1="417.23" x2="202.20" y2="417.23" stroke="#231f20" stroke-width="0.45"/>
<line x1="200.40" y1="411.69" x2="202.20" y2="411.69" stroke="#231f20" stroke-width="0.45"/>
<line x1="200.40" y1="408.92" x2="202.20" y2="408.92" stroke="#231f20" stroke-width="0.45"/>
<line x1="200.40" y1="406.15" x2="202.20" y2="406.15" stroke="#231f20" stroke-width="0.45"/>
<line x1="200.40" y1="400.61" x2="202.20" y2="400.61" stroke="#231f20" stroke-width="0.45"/>
<line x1="200.40" y1="397.84" x2="202.20" y2="397.84" stroke="#231f20" stroke-width="0.45"/>
<line x1="200.40" y1="395.07" x2="202.20" y2="395.07" stroke="#231f20" stroke-width="0.45"/>
<text x="196.00" y="450.10" font-size="6.8" fill="#222" stroke="#222" stroke-width="0.18" text-anchor="end">0</text>
<text x="196.00" y="439.02" font-size="6.8" fill="#222" stroke="#222" stroke-width="0.18" text-anchor="end">20</text>
<text x="196.00" y="427.94" font-size="6.8" fill="#222" stroke="#222" stroke-width="0.18" text-anchor="end">40</text>
<text x="196.00" y="416.86" font-size="6.8" fill="#222" stroke="#222" stroke-width="0.18" text-anchor="end">60</text>
<text x="196.00" y="405.78" font-size="6.8" fill="#222" stroke="#222" stroke-width="0.18" text-anchor="end">80</text>
<text x="196.00" y="394.70" font-size="6.8" fill="#222" stroke="#222" stroke-width="0.18" text-anchor="end">100</text>
<line x1="201.80" y1="447.70" x2="333.80" y2="447.70" stroke="#231f20" stroke-width="0.8"/>
<rect x="204.60" y="432.74" width="5.60" height="14.96" fill="#dcdcdc"/>
<path d="M208.3 436.6h0M205.8 433.9h0M205.3 435.8h0M207.1 429.1h0M206.4 433.3h0M207.2 433.7h0M206.5 436.9h0M208.3 443.7h0M207.1 431.1h0M208.2 435.0h0M205.7 424.2h0M205.8 433.4h0M209.0 437.5h0M206.9 437.8h0M206.2 434.0h0M208.2 430.1h0M205.8 435.1h0M207.6 422.3h0" stroke="#8a8a8a" stroke-width="1.2" stroke-linecap="round" fill="none"/>
<line x1="207.40" y1="425.74" x2="207.40" y2="439.74" stroke="#222" stroke-width="0.6"/>
<line x1="206.10" y1="425.74" x2="208.70" y2="425.74" stroke="#222" stroke-width="0.6"/>
<line x1="206.10" y1="439.74" x2="208.70" y2="439.74" stroke="#222" stroke-width="0.6"/>
<line x1="207.40" y1="447.70" x2="207.40" y2="450.40" stroke="#333" stroke-width="0.7"/>
<rect x="211.22" y="439.39" width="5.60" height="8.31" fill="#8fd5ae"/>
<path d="M211.8 442.6h0M213.1 440.8h0M213.9 439.5h0M215.1 433.2h0M214.5 431.8h0M212.4 441.8h0M214.2 435.2h0M212.8 437.5h0M213.1 438.5h0M212.9 437.0h0M215.1 439.1h0M214.7 441.9h0M212.2 444.5h0M214.7 440.4h0M215.2 435.2h0M215.2 442.1h0M212.2 438.0h0M214.4 436.3h0" stroke="#17a55f" stroke-width="1.2" stroke-linecap="round" fill="none"/>
<line x1="214.02" y1="434.39" x2="214.02" y2="444.39" stroke="#222" stroke-width="0.6"/>
<line x1="212.72" y1="434.39" x2="215.32" y2="434.39" stroke="#222" stroke-width="0.6"/>
<line x1="212.72" y1="444.39" x2="215.32" y2="444.39" stroke="#222" stroke-width="0.6"/>
<line x1="214.02" y1="447.70" x2="214.02" y2="450.40" stroke="#333" stroke-width="0.7"/>
<rect x="217.84" y="392.30" width="5.60" height="55.40" fill="#f27ab9"/>
<path d="M220.2 392.4h0M221.4 392.0h0M222.2 393.3h0M218.6 392.1h0M221.1 392.5h0M222.2 392.2h0M219.0 392.2h0M220.5 392.0h0M218.6 392.0h0M219.6 392.1h0M218.6 392.2h0M222.4 392.7h0M218.6 393.5h0M219.2 392.1h0M219.0 392.7h0M219.4 392.0h0M222.8 392.5h0M221.3 392.2h0" stroke="#e0107f" stroke-width="1.2" stroke-linecap="round" fill="none"/>
<line x1="220.64" y1="447.70" x2="220.64" y2="450.40" stroke="#333" stroke-width="0.7"/>
<rect x="224.46" y="392.30" width="5.60" height="55.40" fill="#a9c6ea"/>
<path d="M227.7 393.1h0M226.0 392.8h0M228.7 392.4h0M228.2 392.7h0M225.5 392.4h0M229.0 391.8h0M229.4 392.8h0M226.6 392.7h0M225.9 392.3h0M228.4 392.8h0M227.7 392.2h0M226.2 392.5h0M228.8 392.3h0M226.7 392.4h0M228.9 391.8h0M225.4 392.0h0M227.0 392.2h0M226.5 392.3h0" stroke="#4f86d0" stroke-width="1.2" stroke-linecap="round" fill="none"/>
<line x1="227.26" y1="447.70" x2="227.26" y2="450.40" stroke="#333" stroke-width="0.7"/>
<line x1="205.20" y1="453.60" x2="230.20" y2="453.60" stroke="#a3a3a3" stroke-width="1.9"/>
<text x="217.50" y="462.20" font-size="7.3" fill="#222" stroke="#222" stroke-width="0.18" text-anchor="middle" textLength="20.60" lengthAdjust="spacingAndGlyphs">CD161</text>
<rect x="238.00" y="422.22" width="5.60" height="25.48" fill="#dcdcdc"/>
<path d="M241.8 412.0h0M240.4 431.2h0M239.9 423.1h0M238.8 423.8h0M240.7 429.6h0M242.3 430.7h0M239.2 424.8h0M240.4 424.7h0M241.2 432.2h0M243.0 434.1h0M240.1 417.7h0M242.0 444.2h0M240.0 426.3h0M238.6 415.9h0M241.4 415.7h0M238.7 413.8h0M239.9 436.9h0M242.9 424.0h0" stroke="#8a8a8a" stroke-width="1.2" stroke-linecap="round" fill="none"/>
<line x1="240.80" y1="410.22" x2="240.80" y2="434.22" stroke="#222" stroke-width="0.6"/>
<line x1="239.50" y1="410.22" x2="242.10" y2="410.22" stroke="#222" stroke-width="0.6"/>
<line x1="239.50" y1="434.22" x2="242.10" y2="434.22" stroke="#222" stroke-width="0.6"/>
<line x1="240.80" y1="447.70" x2="240.80" y2="450.40" stroke="#333" stroke-width="0.7"/>
<rect x="244.62" y="392.30" width="5.60" height="55.40" fill="#8fd5ae"/>
<path d="M245.3 391.8h0M249.1 392.1h0M248.9 392.0h0M246.7 392.0h0M245.8 392.4h0M248.3 391.9h0M248.9 391.8h0M248.1 392.0h0M246.0 391.8h0M245.9 391.9h0M249.5 392.0h0M248.4 391.9h0M246.3 391.9h0M249.5 392.1h0M247.5 392.2h0M245.5 391.9h0M246.3 392.1h0M247.3 392.4h0" stroke="#17a55f" stroke-width="1.2" stroke-linecap="round" fill="none"/>
<line x1="247.42" y1="447.70" x2="247.42" y2="450.40" stroke="#333" stroke-width="0.7"/>
<rect x="251.24" y="392.30" width="5.60" height="55.40" fill="#f27ab9"/>
<path d="M252.1 392.8h0M254.3 393.2h0M255.5 392.4h0M256.2 392.4h0M252.2 391.9h0M253.1 392.2h0M252.5 393.1h0M253.9 392.7h0M253.3 392.6h0M254.1 392.4h0M254.5 392.1h0M252.5 392.9h0M254.7 392.1h0M255.4 392.2h0M254.4 393.2h0M256.0 391.9h0M252.1 392.1h0M253.0 391.8h0" stroke="#e0107f" stroke-width="1.2" stroke-linecap="round" fill="none"/>
<line x1="254.04" y1="447.70" x2="254.04" y2="450.40" stroke="#333" stroke-width="0.7"/>
<rect x="257.86" y="392.30" width="5.60" height="55.40" fill="#a9c6ea"/>
<path d="M258.5 392.5h0M260.3 392.6h0M260.0 391.9h0M260.8 392.3h0M260.9 392.4h0M260.5 392.7h0M261.5 392.6h0M259.8 392.6h0M259.8 392.4h0M260.4 392.1h0M260.0 392.1h0M260.1 392.7h0M262.6 392.9h0M258.9 392.4h0M262.7 392.1h0M261.1 392.1h0M261.2 392.5h0M259.3 392.4h0" stroke="#4f86d0" stroke-width="1.2" stroke-linecap="round" fill="none"/>
<line x1="260.66" y1="447.70" x2="260.66" y2="450.40" stroke="#333" stroke-width="0.7"/>
<line x1="238.60" y1="453.60" x2="263.60" y2="453.60" stroke="#a3a3a3" stroke-width="1.9"/>
<text x="250.90" y="462.20" font-size="7.3" fill="#222" stroke="#222" stroke-width="0.18" text-anchor="middle" textLength="13.50" lengthAdjust="spacingAndGlyphs">PD-1</text>
<rect x="271.80" y="440.50" width="5.60" height="7.20" fill="#dcdcdc"/>
<path d="M273.5 440.4h0M273.6 436.9h0M275.5 435.8h0M273.4 443.9h0M274.1 444.5h0M273.3 437.5h0M273.3 434.1h0M275.5 436.8h0M273.8 436.3h0M272.8 439.8h0M275.6 442.5h0M273.4 423.1h0M272.8 436.8h0M275.3 445.7h0M272.9 437.4h0M272.4 439.9h0M274.0 446.1h0M275.1 434.5h0" stroke="#8a8a8a" stroke-width="1.2" stroke-linecap="round" fill="none"/>
<line x1="274.60" y1="434.50" x2="274.60" y2="446.50" stroke="#222" stroke-width="0.6"/>
<line x1="273.30" y1="434.50" x2="275.90" y2="434.50" stroke="#222" stroke-width="0.6"/>
<line x1="273.30" y1="446.50" x2="275.90" y2="446.50" stroke="#222" stroke-width="0.6"/>
<line x1="274.60" y1="447.70" x2="274.60" y2="450.40" stroke="#333" stroke-width="0.7"/>
<rect x="278.42" y="401.72" width="5.60" height="45.98" fill="#8fd5ae"/>
<path d="M280.3 401.8h0M282.6 403.9h0M280.6 402.7h0M281.0 410.1h0M282.8 401.2h0M281.8 400.0h0M281.2 401.6h0M282.6 404.9h0M280.6 403.6h0M283.1 400.7h0M281.7 400.6h0M282.1 410.0h0M283.4 400.4h0M282.5 399.7h0M283.0 406.6h0M281.3 395.8h0M280.2 405.2h0M283.3 404.0h0" stroke="#17a55f" stroke-width="1.2" stroke-linecap="round" fill="none"/>
<line x1="281.22" y1="395.72" x2="281.22" y2="407.72" stroke="#222" stroke-width="0.6"/>
<line x1="279.92" y1="395.72" x2="282.52" y2="395.72" stroke="#222" stroke-width="0.6"/>
<line x1="279.92" y1="407.72" x2="282.52" y2="407.72" stroke="#222" stroke-width="0.6"/>
<line x1="281.22" y1="447.70" x2="281.22" y2="450.40" stroke="#333" stroke-width="0.7"/>
<rect x="285.04" y="418.34" width="5.60" height="29.36" fill="#f27ab9"/>
<path d="M287.0 419.5h0M285.8 411.9h0M287.6 420.8h0M286.0 432.9h0M286.0 439.4h0M287.8 420.5h0M286.7 409.8h0M287.1 417.5h0M289.6 409.3h0M289.6 422.0h0M285.7 425.0h0M287.9 421.1h0M286.0 412.7h0M287.1 409.2h0M289.2 424.9h0M288.4 431.7h0M288.4 399.1h0M286.5 415.8h0" stroke="#e0107f" stroke-width="1.2" stroke-linecap="round" fill="none"/>
<line x1="287.84" y1="410.34" x2="287.84" y2="426.34" stroke="#222" stroke-width="0.6"/>
<line x1="286.54" y1="410.34" x2="289.14" y2="410.34" stroke="#222" stroke-width="0.6"/>
<line x1="286.54" y1="426.34" x2="289.14" y2="426.34" stroke="#222" stroke-width="0.6"/>
<line x1="287.84" y1="447.70" x2="287.84" y2="450.40" stroke="#333" stroke-width="0.7"/>
<rect x="291.66" y="442.71" width="5.60" height="4.99" fill="#a9c6ea"/>
<path d="M294.0 439.5h0M294.5 445.8h0M294.6 438.0h0M295.2 433.5h0M296.5 444.1h0M295.2 434.5h0M293.8 445.2h0M293.8 441.1h0M295.2 440.9h0M295.5 444.1h0M295.8 445.3h0M294.8 441.8h0M295.8 442.1h0M292.8 446.5h0M292.5 445.4h0M293.8 436.3h0M293.9 432.7h0M295.4 439.7h0" stroke="#4f86d0" stroke-width="1.2" stroke-linecap="round" fill="none"/>
<line x1="294.46" y1="435.71" x2="294.46" y2="447.70" stroke="#222" stroke-width="0.6"/>
<line x1="293.16" y1="435.71" x2="295.76" y2="435.71" stroke="#222" stroke-width="0.6"/>
<line x1="293.16" y1="447.70" x2="295.76" y2="447.70" stroke="#222" stroke-width="0.6"/>
<line x1="294.46" y1="447.70" x2="294.46" y2="450.40" stroke="#333" stroke-width="0.7"/>
<line x1="272.40" y1="453.60" x2="297.40" y2="453.60" stroke="#a3a3a3" stroke-width="1.9"/>
<text x="284.70" y="462.20" font-size="7.3" fill="#222" stroke="#222" stroke-width="0.18" text-anchor="middle" textLength="15.60" lengthAdjust="spacingAndGlyphs">TIGIT</text>
<rect x="305.40" y="422.77" width="5.60" height="24.93" fill="#dcdcdc"/>
<path d="M310.1 420.6h0M309.9 415.4h0M309.4 409.9h0M308.1 419.7h0M309.8 438.1h0M308.7 412.8h0M306.0 424.8h0M309.0 396.6h0M309.4 423.7h0M307.4 421.0h0M308.1 426.9h0M308.5 420.4h0M306.2 416.2h0M310.3 419.5h0M308.2 417.1h0M307.3 435.9h0M310.0 424.3h0M308.8 432.6h0" stroke="#8a8a8a" stroke-width="1.2" stroke-linecap="round" fill="none"/>
<line x1="308.20" y1="410.77" x2="308.20" y2="434.77" stroke="#222" stroke-width="0.6"/>
<line x1="306.90" y1="410.77" x2="309.50" y2="410.77" stroke="#222" stroke-width="0.6"/>
<line x1="306.90" y1="434.77" x2="309.50" y2="434.77" stroke="#222" stroke-width="0.6"/>
<line x1="308.20" y1="447.70" x2="308.20" y2="450.40" stroke="#333" stroke-width="0.7"/>
<rect x="312.02" y="396.18" width="5.60" height="51.52" fill="#8fd5ae"/>
<path d="M316.2 402.4h0M317.0 393.0h0M313.6 396.4h0M315.1 392.9h0M314.1 394.6h0M316.8 400.3h0M315.5 396.5h0M313.2 392.9h0M316.4 402.0h0M314.1 401.6h0M312.7 395.6h0M316.2 399.9h0M312.9 401.7h0M314.6 393.6h0M315.6 397.5h0M315.0 396.1h0M314.1 397.8h0M313.7 392.3h0" stroke="#17a55f" stroke-width="1.2" stroke-linecap="round" fill="none"/>
<line x1="314.82" y1="391.75" x2="314.82" y2="401.18" stroke="#222" stroke-width="0.6"/>
<line x1="313.52" y1="391.75" x2="316.12" y2="391.75" stroke="#222" stroke-width="0.6"/>
<line x1="313.52" y1="401.18" x2="316.12" y2="401.18" stroke="#222" stroke-width="0.6"/>
<line x1="314.82" y1="447.70" x2="314.82" y2="450.40" stroke="#333" stroke-width="0.7"/>
<rect x="318.64" y="393.41" width="5.60" height="54.29" fill="#f27ab9"/>
<path d="M319.6 393.1h0M323.0 394.8h0M323.4 393.2h0M321.1 395.0h0M320.4 392.4h0M320.8 393.4h0M321.2 394.7h0M322.8 394.1h0M322.0 392.7h0M323.6 392.4h0M319.5 392.4h0M320.0 391.9h0M319.9 393.2h0M321.7 393.8h0M323.6 393.3h0M322.7 394.8h0M320.7 393.8h0M320.1 393.4h0" stroke="#e0107f" stroke-width="1.2" stroke-linecap="round" fill="none"/>
<line x1="321.44" y1="391.75" x2="321.44" y2="396.41" stroke="#222" stroke-width="0.6"/>
<line x1="320.14" y1="391.75" x2="322.74" y2="391.75" stroke="#222" stroke-width="0.6"/>
<line x1="320.14" y1="396.41" x2="322.74" y2="396.41" stroke="#222" stroke-width="0.6"/>
<line x1="321.44" y1="447.70" x2="321.44" y2="450.40" stroke="#333" stroke-width="0.7"/>
<rect x="325.26" y="422.77" width="5.60" height="24.93" fill="#a9c6ea"/>
<path d="M328.2 417.6h0M329.4 411.2h0M329.5 416.7h0M327.0 423.4h0M326.2 417.8h0M328.8 409.4h0M326.9 436.7h0M327.1 421.0h0M329.5 416.5h0M327.1 423.5h0M328.5 417.7h0M327.3 421.9h0M329.1 433.4h0M327.7 422.0h0M326.1 437.1h0M326.1 426.1h0M327.4 423.3h0M327.3 416.6h0" stroke="#4f86d0" stroke-width="1.2" stroke-linecap="round" fill="none"/>
<line x1="328.06" y1="410.77" x2="328.06" y2="434.77" stroke="#222" stroke-width="0.6"/>
<line x1="326.76" y1="410.77" x2="329.36" y2="410.77" stroke="#222" stroke-width="0.6"/>
<line x1="326.76" y1="434.77" x2="329.36" y2="434.77" stroke="#222" stroke-width="0.6"/>
<line x1="328.06" y1="447.70" x2="328.06" y2="450.40" stroke="#333" stroke-width="0.7"/>
<line x1="306.00" y1="453.60" x2="331.00" y2="453.60" stroke="#a3a3a3" stroke-width="1.9"/>
<text x="318.30" y="462.20" font-size="7.3" fill="#222" stroke="#222" stroke-width="0.18" text-anchor="middle" textLength="14.80" lengthAdjust="spacingAndGlyphs">BTLA</text>
<path d="M206.0 395.0 L206.0 387.0 L225.4 387.0 L225.4 389.4" fill="none" stroke="#333" stroke-width="0.7"/>
<line x1="217.30" y1="389.40" x2="229.20" y2="389.40" stroke="#333" stroke-width="0.7"/>
<text x="215.70" y="387.70" font-size="6.6" fill="#222" stroke="#222" stroke-width="0.18" text-anchor="middle">****</text>
<path d="M239.4 395.0 L239.4 387.0 L258.8 387.0 L258.8 389.4" fill="none" stroke="#333" stroke-width="0.7"/>
<line x1="250.70" y1="389.40" x2="262.60" y2="389.40" stroke="#333" stroke-width="0.7"/>
<text x="249.10" y="387.70" font-size="6.6" fill="#222" stroke="#222" stroke-width="0.18" text-anchor="middle">****</text>
<path d="M272.3 395.0 L272.3 387.0 L283.6 387.0 L283.6 391.4" fill="none" stroke="#333" stroke-width="0.7"/>
<line x1="279.20" y1="391.40" x2="289.60" y2="391.40" stroke="#333" stroke-width="0.7"/>
<text x="278.00" y="387.70" font-size="6.6" fill="#222" stroke="#222" stroke-width="0.18" text-anchor="middle">****</text>
<path d="M306.0 391.0 L306.0 387.0 L318.0 387.0 L318.0 389.2" fill="none" stroke="#333" stroke-width="0.7"/>
<line x1="312.00" y1="389.20" x2="323.40" y2="389.20" stroke="#333" stroke-width="0.7"/>
<text x="312.00" y="387.70" font-size="6.6" fill="#222" stroke="#222" stroke-width="0.18" text-anchor="middle">****</text>
<text x="214.30" y="435.50" font-size="6.5" fill="#222" stroke="#222" stroke-width="0.18" text-anchor="middle">**</text>
<text x="172.00" y="369.40" font-size="7.2" fill="#333" stroke="#333" stroke-width="0.18" textLength="81.70" lengthAdjust="spacingAndGlyphs" transform="rotate(-90 172.00 369.40)">Median receptor expression</text>
<text x="182.60" y="351.20" font-size="7.2" fill="#333" stroke="#333" stroke-width="0.18" textLength="46.00" lengthAdjust="spacingAndGlyphs" transform="rotate(-90 182.60 351.20)">on populations</text>
<text x="172.00" y="453.80" font-size="7.2" fill="#333" stroke="#333" stroke-width="0.18" textLength="72.10" lengthAdjust="spacingAndGlyphs" transform="rotate(-90 172.00 453.80)">% of receptor expression</text>
<text x="182.60" y="439.40" font-size="7.2" fill="#333" stroke="#333" stroke-width="0.18" textLength="41.40" lengthAdjust="spacingAndGlyphs" transform="rotate(-90 182.60 439.40)">on populations</text>
<text x="348.20" y="291.30" font-size="11.5" fill="#000" font-weight="bold">G</text>
<rect x="361.30" y="336.30" width="41.30" height="41.30" fill="#fff" stroke="#6a6a6a" stroke-width="0.7"/>
<path d="M367.8 352 L367.8 372.4 L380 372.4" fill="none" stroke="#9c9c9c" stroke-width="2.2" stroke-linejoin="round" stroke-linecap="round"/>
<path d="M367.8 352 L367.8 372.4 L380 372.4" fill="none" stroke="#ececec" stroke-width="0.8" stroke-linejoin="round" stroke-linecap="round"/>
<path d="M367 351 C369 348.5 374 348.2 378 348.8 C382 348.4 386.5 349.5 387 353 C387.5 357 385.5 360 386 364 C386.5 368 385.5 372.5 381 373.2 C376 373.8 371 373.5 368.5 371.5 C366.5 368 366.5 356 367 351 Z" fill="#f07878" opacity="0.22"/>
<ellipse cx="378.3" cy="357.6" rx="5.2" ry="9.1" transform="rotate(-23 378.3 357.6)" fill="none" stroke="#f07878" stroke-width="0.6" opacity="0.5"/>
<ellipse cx="376.4" cy="359.5" rx="7.1" ry="5.7" transform="rotate(8 376.4 359.5)" fill="none" stroke="#f07878" stroke-width="0.6" opacity="0.5"/>
<ellipse cx="376.5" cy="361.8" rx="4.1" ry="9.8" transform="rotate(-20 376.5 361.8)" fill="none" stroke="#f07878" stroke-width="0.6" opacity="0.5"/>
<ellipse cx="378.4" cy="359.1" rx="8.2" ry="5.9" transform="rotate(-11 378.4 359.1)" fill="none" stroke="#f07878" stroke-width="0.6" opacity="0.5"/>
<ellipse cx="374.0" cy="361.2" rx="6.7" ry="6.0" transform="rotate(-18 374.0 361.2)" fill="none" stroke="#f07878" stroke-width="0.6" opacity="0.5"/>
<ellipse cx="374.0" cy="356.6" rx="6.8" ry="7.2" transform="rotate(12 374.0 356.6)" fill="none" stroke="#f07878" stroke-width="0.6" opacity="0.5"/>
<ellipse cx="374.0" cy="361.7" rx="8.9" ry="8.7" transform="rotate(15 374.0 361.7)" fill="none" stroke="#f07878" stroke-width="0.6" opacity="0.5"/>
<ellipse cx="378.6" cy="355.8" rx="6.3" ry="5.4" transform="rotate(17 378.6 355.8)" fill="none" stroke="#f07878" stroke-width="0.6" opacity="0.5"/>
<ellipse cx="376.7" cy="355.9" rx="6.2" ry="8.9" transform="rotate(3 376.7 355.9)" fill="none" stroke="#f07878" stroke-width="0.6" opacity="0.5"/>
<rect x="369" y="363.5" width="13" height="3" fill="#f07878" opacity="0.5"/>
<rect x="369" y="367.5" width="14" height="3.5" fill="#fff" opacity="0.55"/>
<line x1="356.80" y1="381.60" x2="356.80" y2="365.00" stroke="#111" stroke-width="0.8"/>
<path d="M355.3 365.5 L356.8 362.0 L358.3 365.5 Z" fill="#111"/>
<line x1="356.40" y1="381.30" x2="373.00" y2="381.30" stroke="#111" stroke-width="0.8"/>
<path d="M372.5 379.8 L376.0 381.3 L372.5 382.8 Z" fill="#111"/>
<text x="353.30" y="377.80" font-size="6.9" fill="#111" stroke="#111" stroke-width="0.18" textLength="10.80" lengthAdjust="spacingAndGlyphs" transform="rotate(-90 353.30 377.80)">PD1</text>
<text x="358.00" y="390.50" font-size="6.9" fill="#111" stroke="#111" stroke-width="0.18" textLength="15.10" lengthAdjust="spacingAndGlyphs">TIGIT</text>
<circle cx="356.20" cy="399.80" r="1.80" fill="#9a9a9a"/>
<text x="361.00" y="402.30" font-size="6.5" fill="#ababab" textLength="38.70" lengthAdjust="spacingAndGlyphs">Bulk CD8 T cells</text>
<circle cx="356.20" cy="407.90" r="1.80" fill="#f07878"/>
<text x="361.00" y="410.40" font-size="6.5" fill="#f07878" textLength="24.40" lengthAdjust="spacingAndGlyphs">Cluster 79</text>
<line x1="465.20" y1="299.20" x2="465.20" y2="361.50" stroke="#231f20" stroke-width="0.8"/>
<line x1="461.90" y1="361.20" x2="465.20" y2="361.20" stroke="#231f20" stroke-width="0.7"/>
<text x="458.60" y="363.60" font-size="6.8" fill="#222" stroke="#222" stroke-width="0.18" text-anchor="end">0</text>
<line x1="461.90" y1="349.56" x2="465.20" y2="349.56" stroke="#231f20" stroke-width="0.7"/>
<text x="458.60" y="351.96" font-size="6.8" fill="#222" stroke="#222" stroke-width="0.18" text-anchor="end">1</text>
<line x1="461.90" y1="337.92" x2="465.20" y2="337.92" stroke="#231f20" stroke-width="0.7"/>
<text x="458.60" y="340.32" font-size="6.8" fill="#222" stroke="#222" stroke-width="0.18" text-anchor="end">2</text>
<line x1="461.90" y1="326.28" x2="465.20" y2="326.28" stroke="#231f20" stroke-width="0.7"/>
<text x="458.60" y="328.68" font-size="6.8" fill="#222" stroke="#222" stroke-width="0.18" text-anchor="end">3</text>
<line x1="461.90" y1="314.64" x2="465.20" y2="314.64" stroke="#231f20" stroke-width="0.7"/>
<text x="458.60" y="317.04" font-size="6.8" fill="#222" stroke="#222" stroke-width="0.18" text-anchor="end">4</text>
<line x1="461.90" y1="303.00" x2="465.20" y2="303.00" stroke="#231f20" stroke-width="0.7"/>
<text x="458.60" y="305.40" font-size="6.8" fill="#222" stroke="#222" stroke-width="0.18" text-anchor="end">5</text>
<line x1="463.40" y1="358.29" x2="465.20" y2="358.29" stroke="#231f20" stroke-width="0.45"/>
<line x1="463.40" y1="355.38" x2="465.20" y2="355.38" stroke="#231f20" stroke-width="0.45"/>
<line x1="463.40" y1="352.47" x2="465.20" y2="352.47" stroke="#231f20" stroke-width="0.45"/>
<line x1="463.40" y1="346.65" x2="465.20" y2="346.65" stroke="#231f20" stroke-width="0.45"/>
<line x1="463.40" y1="343.74" x2="465.20" y2="343.74" stroke="#231f20" stroke-width="0.45"/>
<line x1="463.40" y1="340.83" x2="465.20" y2="340.83" stroke="#231f20" stroke-width="0.45"/>
<line x1="463.40" y1="335.01" x2="465.20" y2="335.01" stroke="#231f20" stroke-width="0.45"/>
<line x1="463.40" y1="332.10" x2="465.20" y2="332.10" stroke="#231f20" stroke-width="0.45"/>
<line x1="463.40" y1="329.19" x2="465.20" y2="329.19" stroke="#231f20" stroke-width="0.45"/>
<line x1="463.40" y1="323.37" x2="465.20" y2="323.37" stroke="#231f20" stroke-width="0.45"/>
<line x1="463.40" y1="320.46" x2="465.20" y2="320.46" stroke="#231f20" stroke-width="0.45"/>
<line x1="463.40" y1="317.55" x2="465.20" y2="317.55" stroke="#231f20" stroke-width="0.45"/>
<line x1="463.40" y1="311.73" x2="465.20" y2="311.73" stroke="#231f20" stroke-width="0.45"/>
<line x1="463.40" y1="308.82" x2="465.20" y2="308.82" stroke="#231f20" stroke-width="0.45"/>
<line x1="463.40" y1="305.91" x2="465.20" y2="305.91" stroke="#231f20" stroke-width="0.45"/>
<line x1="464.80" y1="361.20" x2="513.30" y2="361.20" stroke="#231f20" stroke-width="0.8"/>
<rect x="471.00" y="349.56" width="6.20" height="11.64" fill="#dcdcdc"/>
<path d="M471.6 344.3h0M473.3 345.9h0M474.5 352.8h0M472.4 343.0h0M472.3 343.5h0M472.8 352.5h0M474.2 359.4h0M475.5 357.4h0M476.0 347.4h0M474.4 344.1h0M473.4 355.0h0M471.9 348.1h0M475.6 352.8h0M473.5 340.3h0M475.7 359.8h0M471.8 343.9h0M475.3 357.3h0M473.8 334.0h0M472.6 345.5h0M476.1 345.8h0M472.8 340.5h0M473.6 338.5h0" stroke="#8a8a8a" stroke-width="1.2" stroke-linecap="round" fill="none"/>
<line x1="474.10" y1="341.56" x2="474.10" y2="357.56" stroke="#222" stroke-width="0.6"/>
<line x1="472.80" y1="341.56" x2="475.40" y2="341.56" stroke="#222" stroke-width="0.6"/>
<line x1="472.80" y1="357.56" x2="475.40" y2="357.56" stroke="#222" stroke-width="0.6"/>
<line x1="474.10" y1="361.20" x2="474.10" y2="363.40" stroke="#333" stroke-width="0.5"/>
<rect x="477.50" y="327.44" width="6.20" height="33.76" fill="#f7b3b3"/>
<path d="M480.6 321.7h0M480.4 331.7h0M479.4 328.0h0M483.0 333.4h0M478.6 327.9h0M480.3 337.7h0M482.3 318.2h0M479.7 324.2h0M479.0 322.2h0M482.2 321.6h0M479.2 331.4h0M481.8 317.9h0M482.0 317.8h0M478.2 330.1h0M479.5 334.4h0M482.9 324.8h0M481.1 332.4h0M478.2 335.6h0M478.5 328.7h0M478.9 324.2h0M479.5 331.2h0M482.7 329.7h0" stroke="#ec5a5a" stroke-width="1.2" stroke-linecap="round" fill="none"/>
<line x1="480.60" y1="323.94" x2="480.60" y2="330.94" stroke="#222" stroke-width="0.6"/>
<line x1="479.30" y1="323.94" x2="481.90" y2="323.94" stroke="#222" stroke-width="0.6"/>
<line x1="479.30" y1="330.94" x2="481.90" y2="330.94" stroke="#222" stroke-width="0.6"/>
<line x1="480.60" y1="361.20" x2="480.60" y2="363.40" stroke="#333" stroke-width="0.5"/>
<line x1="470.40" y1="367.00" x2="484.40" y2="367.00" stroke="#333" stroke-width="0.8"/>
<rect x="497.40" y="341.99" width="6.20" height="19.21" fill="#dcdcdc"/>
<path d="M501.2 346.8h0M499.4 352.6h0M501.1 349.2h0M498.9 355.8h0M501.5 329.4h0M502.1 336.4h0M502.9 355.0h0M500.5 338.0h0M499.3 340.7h0M498.7 360.1h0M499.8 322.9h0M502.8 337.2h0M500.5 347.1h0M501.0 337.4h0M498.3 334.2h0M501.5 330.7h0M500.7 347.4h0M498.5 351.0h0M499.2 334.6h0M501.8 333.0h0M498.4 354.8h0M502.0 357.9h0" stroke="#8a8a8a" stroke-width="1.2" stroke-linecap="round" fill="none"/>
<line x1="500.50" y1="331.99" x2="500.50" y2="351.99" stroke="#222" stroke-width="0.6"/>
<line x1="499.20" y1="331.99" x2="501.80" y2="331.99" stroke="#222" stroke-width="0.6"/>
<line x1="499.20" y1="351.99" x2="501.80" y2="351.99" stroke="#222" stroke-width="0.6"/>
<line x1="500.50" y1="361.20" x2="500.50" y2="363.40" stroke="#333" stroke-width="0.5"/>
<rect x="503.90" y="319.30" width="6.20" height="41.90" fill="#f7b3b3"/>
<path d="M505.4 314.9h0M508.3 321.4h0M506.4 320.9h0M507.9 325.5h0M509.2 319.5h0M504.8 318.2h0M508.8 320.6h0M507.4 318.4h0M509.4 314.5h0M506.6 315.9h0M505.8 320.6h0M507.5 318.6h0M508.3 313.6h0M505.9 314.5h0M505.6 317.3h0M508.9 322.8h0M507.1 322.9h0M504.5 315.9h0M505.5 321.8h0M508.5 315.2h0M507.0 318.0h0M505.5 318.9h0" stroke="#ec5a5a" stroke-width="1.2" stroke-linecap="round" fill="none"/>
<line x1="507.00" y1="315.80" x2="507.00" y2="322.80" stroke="#222" stroke-width="0.6"/>
<line x1="505.70" y1="315.80" x2="508.30" y2="315.80" stroke="#222" stroke-width="0.6"/>
<line x1="505.70" y1="322.80" x2="508.30" y2="322.80" stroke="#222" stroke-width="0.6"/>
<line x1="507.00" y1="361.20" x2="507.00" y2="363.40" stroke="#333" stroke-width="0.5"/>
<line x1="496.80" y1="367.00" x2="510.80" y2="367.00" stroke="#333" stroke-width="0.8"/>
<text x="480.60" y="318.00" font-size="6.6" fill="#222" stroke="#222" stroke-width="0.18" text-anchor="middle">****</text>
<text x="506.90" y="310.60" font-size="6.6" fill="#222" stroke="#222" stroke-width="0.18" text-anchor="middle">****</text>
<text x="477.00" y="376.20" font-size="7.3" fill="#222" stroke="#222" stroke-width="0.18" text-anchor="middle" textLength="14.80" lengthAdjust="spacingAndGlyphs">TIGIT</text>
<text x="503.50" y="376.20" font-size="7.3" fill="#222" stroke="#222" stroke-width="0.18" text-anchor="middle" textLength="13.90" lengthAdjust="spacingAndGlyphs">PD-1</text>
<line x1="465.20" y1="387.50" x2="465.20" y2="448.00" stroke="#231f20" stroke-width="0.8"/>
<line x1="461.90" y1="447.70" x2="465.20" y2="447.70" stroke="#231f20" stroke-width="0.7"/>
<text x="458.60" y="450.10" font-size="6.8" fill="#222" stroke="#222" stroke-width="0.18" text-anchor="end">0</text>
<line x1="461.90" y1="436.42" x2="465.20" y2="436.42" stroke="#231f20" stroke-width="0.7"/>
<text x="458.60" y="438.82" font-size="6.8" fill="#222" stroke="#222" stroke-width="0.18" text-anchor="end">20</text>
<line x1="461.90" y1="425.14" x2="465.20" y2="425.14" stroke="#231f20" stroke-width="0.7"/>
<text x="458.60" y="427.54" font-size="6.8" fill="#222" stroke="#222" stroke-width="0.18" text-anchor="end">40</text>
<line x1="461.90" y1="413.86" x2="465.20" y2="413.86" stroke="#231f20" stroke-width="0.7"/>
<text x="458.60" y="416.26" font-size="6.8" fill="#222" stroke="#222" stroke-width="0.18" text-anchor="end">60</text>
<line x1="461.90" y1="402.58" x2="465.20" y2="402.58" stroke="#231f20" stroke-width="0.7"/>
<text x="458.60" y="404.98" font-size="6.8" fill="#222" stroke="#222" stroke-width="0.18" text-anchor="end">80</text>
<line x1="461.90" y1="391.30" x2="465.20" y2="391.30" stroke="#231f20" stroke-width="0.7"/>
<text x="458.60" y="393.70" font-size="6.8" fill="#222" stroke="#222" stroke-width="0.18" text-anchor="end">100</text>
<line x1="463.40" y1="444.88" x2="465.20" y2="444.88" stroke="#231f20" stroke-width="0.45"/>
<line x1="463.40" y1="442.06" x2="465.20" y2="442.06" stroke="#231f20" stroke-width="0.45"/>
<line x1="463.40" y1="439.24" x2="465.20" y2="439.24" stroke="#231f20" stroke-width="0.45"/>
<line x1="463.40" y1="433.60" x2="465.20" y2="433.60" stroke="#231f20" stroke-width="0.45"/>
<line x1="463.40" y1="430.78" x2="465.20" y2="430.78" stroke="#231f20" stroke-width="0.45"/>
<line x1="463.40" y1="427.96" x2="465.20" y2="427.96" stroke="#231f20" stroke-width="0.45"/>
<line x1="463.40" y1="422.32" x2="465.20" y2="422.32" stroke="#231f20" stroke-width="0.45"/>
<line x1="463.40" y1="419.50" x2="465.20" y2="419.50" stroke="#231f20" stroke-width="0.45"/>
<line x1="463.40" y1="416.68" x2="465.20" y2="416.68" stroke="#231f20" stroke-width="0.45"/>
<line x1="463.40" y1="411.04" x2="465.20" y2="411.04" stroke="#231f20" stroke-width="0.45"/>
<line x1="463.40" y1="408.22" x2="465.20" y2="408.22" stroke="#231f20" stroke-width="0.45"/>
<line x1="463.40" y1="405.40" x2="465.20" y2="405.40" stroke="#231f20" stroke-width="0.45"/>
<line x1="463.40" y1="399.76" x2="465.20" y2="399.76" stroke="#231f20" stroke-width="0.45"/>
<line x1="463.40" y1="396.94" x2="465.20" y2="396.94" stroke="#231f20" stroke-width="0.45"/>
<line x1="463.40" y1="394.12" x2="465.20" y2="394.12" stroke="#231f20" stroke-width="0.45"/>
<line x1="464.80" y1="447.70" x2="513.30" y2="447.70" stroke="#231f20" stroke-width="0.8"/>
<rect x="471.00" y="437.55" width="6.20" height="10.15" fill="#dcdcdc"/>
<path d="M475.7 435.6h0M474.4 442.6h0M476.3 439.0h0M475.9 429.9h0M473.0 421.5h0M472.7 432.7h0M475.2 445.3h0M471.8 427.7h0M471.6 437.6h0M472.7 446.3h0M472.1 442.0h0M473.2 435.6h0M475.9 445.9h0M475.5 433.2h0M471.9 445.6h0M472.1 420.2h0M476.6 444.7h0M474.7 432.3h0M476.1 444.7h0M475.9 437.3h0M473.0 443.5h0M475.1 433.2h0" stroke="#8a8a8a" stroke-width="1.2" stroke-linecap="round" fill="none"/>
<line x1="474.10" y1="428.55" x2="474.10" y2="446.55" stroke="#222" stroke-width="0.6"/>
<line x1="472.80" y1="428.55" x2="475.40" y2="428.55" stroke="#222" stroke-width="0.6"/>
<line x1="472.80" y1="446.55" x2="475.40" y2="446.55" stroke="#222" stroke-width="0.6"/>
<line x1="474.10" y1="447.70" x2="474.10" y2="449.90" stroke="#333" stroke-width="0.5"/>
<rect x="477.50" y="419.50" width="6.20" height="28.20" fill="#f7b3b3"/>
<path d="M482.2 408.9h0M482.1 419.7h0M482.9 422.2h0M479.0 409.9h0M479.0 423.3h0M482.8 405.1h0M481.9 417.7h0M481.5 416.0h0M481.4 418.0h0M483.0 419.2h0M481.4 426.7h0M478.9 415.2h0M480.7 412.3h0M478.9 418.4h0M479.4 409.8h0M482.5 421.5h0M482.0 431.7h0M481.2 413.8h0M479.5 419.8h0M479.6 412.0h0M482.7 407.5h0M482.1 419.0h0" stroke="#ec5a5a" stroke-width="1.2" stroke-linecap="round" fill="none"/>
<line x1="480.60" y1="410.50" x2="480.60" y2="428.50" stroke="#222" stroke-width="0.6"/>
<line x1="479.30" y1="410.50" x2="481.90" y2="410.50" stroke="#222" stroke-width="0.6"/>
<line x1="479.30" y1="428.50" x2="481.90" y2="428.50" stroke="#222" stroke-width="0.6"/>
<line x1="480.60" y1="447.70" x2="480.60" y2="449.90" stroke="#333" stroke-width="0.5"/>
<line x1="470.40" y1="453.80" x2="484.40" y2="453.80" stroke="#333" stroke-width="0.8"/>
<rect x="497.40" y="425.14" width="6.20" height="22.56" fill="#dcdcdc"/>
<path d="M502.2 445.5h0M502.2 432.2h0M498.5 413.8h0M500.0 415.5h0M499.0 419.1h0M499.7 421.2h0M500.7 437.3h0M499.4 426.3h0M501.5 434.3h0M499.6 440.0h0M500.4 412.6h0M502.9 424.2h0M501.6 413.2h0M500.1 434.4h0M501.1 418.8h0M499.1 413.7h0M499.3 437.9h0M502.9 417.1h0M499.5 435.8h0M498.2 431.4h0M499.9 445.3h0M500.9 403.7h0" stroke="#8a8a8a" stroke-width="1.2" stroke-linecap="round" fill="none"/>
<line x1="500.50" y1="413.14" x2="500.50" y2="437.14" stroke="#222" stroke-width="0.6"/>
<line x1="499.20" y1="413.14" x2="501.80" y2="413.14" stroke="#222" stroke-width="0.6"/>
<line x1="499.20" y1="437.14" x2="501.80" y2="437.14" stroke="#222" stroke-width="0.6"/>
<line x1="500.50" y1="447.70" x2="500.50" y2="449.90" stroke="#333" stroke-width="0.5"/>
<rect x="503.90" y="400.89" width="6.20" height="46.81" fill="#f7b3b3"/>
<path d="M506.5 395.4h0M506.0 403.9h0M505.2 402.2h0M508.9 402.0h0M509.4 399.8h0M507.6 403.7h0M509.2 397.9h0M507.9 402.7h0M508.6 404.5h0M506.8 399.0h0M509.0 383.7h0M505.2 399.9h0M508.6 406.6h0M508.0 403.0h0M506.8 396.3h0M506.6 390.3h0M508.4 397.3h0M507.8 398.4h0M509.1 402.1h0M506.5 388.7h0M505.8 399.5h0M505.6 407.5h0" stroke="#ec5a5a" stroke-width="1.2" stroke-linecap="round" fill="none"/>
<line x1="507.00" y1="393.89" x2="507.00" y2="407.89" stroke="#222" stroke-width="0.6"/>
<line x1="505.70" y1="393.89" x2="508.30" y2="393.89" stroke="#222" stroke-width="0.6"/>
<line x1="505.70" y1="407.89" x2="508.30" y2="407.89" stroke="#222" stroke-width="0.6"/>
<line x1="507.00" y1="447.70" x2="507.00" y2="449.90" stroke="#333" stroke-width="0.5"/>
<line x1="496.80" y1="453.80" x2="510.80" y2="453.80" stroke="#333" stroke-width="0.8"/>
<text x="480.60" y="393.10" font-size="6.6" fill="#222" stroke="#222" stroke-width="0.18" text-anchor="middle">****</text>
<text x="506.90" y="390.60" font-size="6.6" fill="#222" stroke="#222" stroke-width="0.18" text-anchor="middle">****</text>
<text x="477.00" y="462.50" font-size="7.3" fill="#222" stroke="#222" stroke-width="0.18" text-anchor="middle" textLength="14.80" lengthAdjust="spacingAndGlyphs">TIGIT</text>
<text x="503.50" y="462.50" font-size="7.3" fill="#222" stroke="#222" stroke-width="0.18" text-anchor="middle" textLength="13.90" lengthAdjust="spacingAndGlyphs">PD-1</text>
<text x="432.20" y="370.40" font-size="7.2" fill="#333" stroke="#333" stroke-width="0.18" textLength="81.20" lengthAdjust="spacingAndGlyphs" transform="rotate(-90 432.20 370.40)">Median receptor expression</text>
<text x="442.40" y="354.00" font-size="7.2" fill="#333" stroke="#333" stroke-width="0.18" textLength="45.50" lengthAdjust="spacingAndGlyphs" transform="rotate(-90 442.40 354.00)">on populations</text>
<text x="432.20" y="452.90" font-size="7.2" fill="#333" stroke="#333" stroke-width="0.18" textLength="71.20" lengthAdjust="spacingAndGlyphs" transform="rotate(-90 432.20 452.90)">% of receptor expression</text>
<text x="442.40" y="439.40" font-size="7.2" fill="#333" stroke="#333" stroke-width="0.18" textLength="45.20" lengthAdjust="spacingAndGlyphs" transform="rotate(-90 442.40 439.40)">on populations</text>
<text x="7.30" y="483.80" font-size="11.5" fill="#000" font-weight="bold">H</text>
<rect x="36.20" y="504.60" width="5.00" height="114.60" fill="#e7dfea"/>
<line x1="31.70" y1="506.70" x2="31.70" y2="528.20" stroke="#231f20" stroke-width="0.8"/>
<line x1="29.50" y1="507.70" x2="31.70" y2="507.70" stroke="#231f20" stroke-width="0.6"/>
<line x1="29.50" y1="511.70" x2="31.70" y2="511.70" stroke="#231f20" stroke-width="0.6"/>
<line x1="29.50" y1="516.20" x2="31.70" y2="516.20" stroke="#231f20" stroke-width="0.6"/>
<line x1="29.50" y1="521.50" x2="31.70" y2="521.50" stroke="#231f20" stroke-width="0.6"/>
<line x1="29.50" y1="527.00" x2="31.70" y2="527.00" stroke="#231f20" stroke-width="0.6"/>
<line x1="30.40" y1="518.85" x2="31.70" y2="518.85" stroke="#231f20" stroke-width="0.4"/>
<line x1="30.40" y1="524.25" x2="31.70" y2="524.25" stroke="#231f20" stroke-width="0.4"/>
<line x1="30.40" y1="509.70" x2="31.70" y2="509.70" stroke="#231f20" stroke-width="0.4"/>
<line x1="30.40" y1="514.00" x2="31.70" y2="514.00" stroke="#231f20" stroke-width="0.4"/>
<line x1="31.70" y1="534.50" x2="31.70" y2="555.80" stroke="#231f20" stroke-width="0.8"/>
<line x1="29.50" y1="535.50" x2="31.70" y2="535.50" stroke="#231f20" stroke-width="0.6"/>
<line x1="29.50" y1="539.50" x2="31.70" y2="539.50" stroke="#231f20" stroke-width="0.6"/>
<line x1="29.50" y1="544.00" x2="31.70" y2="544.00" stroke="#231f20" stroke-width="0.6"/>
<line x1="29.50" y1="549.40" x2="31.70" y2="549.40" stroke="#231f20" stroke-width="0.6"/>
<line x1="29.50" y1="554.60" x2="31.70" y2="554.60" stroke="#231f20" stroke-width="0.6"/>
<line x1="30.40" y1="546.70" x2="31.70" y2="546.70" stroke="#231f20" stroke-width="0.4"/>
<line x1="30.40" y1="552.00" x2="31.70" y2="552.00" stroke="#231f20" stroke-width="0.4"/>
<line x1="30.40" y1="537.50" x2="31.70" y2="537.50" stroke="#231f20" stroke-width="0.4"/>
<line x1="30.40" y1="541.80" x2="31.70" y2="541.80" stroke="#231f20" stroke-width="0.4"/>
<line x1="31.70" y1="562.70" x2="31.70" y2="584.50" stroke="#231f20" stroke-width="0.8"/>
<line x1="29.50" y1="563.70" x2="31.70" y2="563.70" stroke="#231f20" stroke-width="0.6"/>
<line x1="29.50" y1="567.70" x2="31.70" y2="567.70" stroke="#231f20" stroke-width="0.6"/>
<line x1="29.50" y1="572.20" x2="31.70" y2="572.20" stroke="#231f20" stroke-width="0.6"/>
<line x1="29.50" y1="577.80" x2="31.70" y2="577.80" stroke="#231f20" stroke-width="0.6"/>
<line x1="29.50" y1="583.30" x2="31.70" y2="583.30" stroke="#231f20" stroke-width="0.6"/>
<line x1="30.40" y1="575.00" x2="31.70" y2="575.00" stroke="#231f20" stroke-width="0.4"/>
<line x1="30.40" y1="580.55" x2="31.70" y2="580.55" stroke="#231f20" stroke-width="0.4"/>
<line x1="30.40" y1="565.70" x2="31.70" y2="565.70" stroke="#231f20" stroke-width="0.4"/>
<line x1="30.40" y1="570.00" x2="31.70" y2="570.00" stroke="#231f20" stroke-width="0.4"/>
<line x1="31.70" y1="590.30" x2="31.70" y2="612.00" stroke="#231f20" stroke-width="0.8"/>
<line x1="29.50" y1="591.30" x2="31.70" y2="591.30" stroke="#231f20" stroke-width="0.6"/>
<line x1="29.50" y1="595.30" x2="31.70" y2="595.30" stroke="#231f20" stroke-width="0.6"/>
<line x1="29.50" y1="599.80" x2="31.70" y2="599.80" stroke="#231f20" stroke-width="0.6"/>
<line x1="29.50" y1="605.40" x2="31.70" y2="605.40" stroke="#231f20" stroke-width="0.6"/>
<line x1="29.50" y1="610.80" x2="31.70" y2="610.80" stroke="#231f20" stroke-width="0.6"/>
<line x1="30.40" y1="602.60" x2="31.70" y2="602.60" stroke="#231f20" stroke-width="0.4"/>
<line x1="30.40" y1="608.10" x2="31.70" y2="608.10" stroke="#231f20" stroke-width="0.4"/>
<line x1="30.40" y1="593.30" x2="31.70" y2="593.30" stroke="#231f20" stroke-width="0.4"/>
<line x1="30.40" y1="597.60" x2="31.70" y2="597.60" stroke="#231f20" stroke-width="0.4"/>
<line x1="41.70" y1="504.60" x2="41.70" y2="619.70" stroke="#222" stroke-width="0.8"/>
<line x1="31.30" y1="619.70" x2="79.30" y2="619.70" stroke="#231f20" stroke-width="0.8"/>
<line x1="81.40" y1="619.70" x2="98.80" y2="619.70" stroke="#231f20" stroke-width="0.8"/>
<path d="M78.5 618.2 L80.0 621.2 M80.8 618.2 L82.3 621.2" fill="none" stroke="#222" stroke-width="0.5"/>
<line x1="35.60" y1="619.70" x2="35.60" y2="621.90" stroke="#231f20" stroke-width="0.6"/>
<text x="35.60" y="631.20" font-size="7.0" fill="#333" stroke="#333" stroke-width="0.18" text-anchor="middle" textLength="3.20" lengthAdjust="spacingAndGlyphs">0</text>
<line x1="38.55" y1="619.70" x2="38.55" y2="621.00" stroke="#231f20" stroke-width="0.4"/>
<line x1="41.50" y1="619.70" x2="41.50" y2="621.90" stroke="#231f20" stroke-width="0.6"/>
<text x="41.50" y="631.20" font-size="7.0" fill="#333" stroke="#333" stroke-width="0.18" text-anchor="middle" textLength="3.20" lengthAdjust="spacingAndGlyphs">1</text>
<line x1="44.45" y1="619.70" x2="44.45" y2="621.00" stroke="#231f20" stroke-width="0.4"/>
<line x1="47.40" y1="619.70" x2="47.40" y2="621.90" stroke="#231f20" stroke-width="0.6"/>
<text x="47.40" y="631.20" font-size="7.0" fill="#333" stroke="#333" stroke-width="0.18" text-anchor="middle" textLength="3.20" lengthAdjust="spacingAndGlyphs">2</text>
<line x1="50.35" y1="619.70" x2="50.35" y2="621.00" stroke="#231f20" stroke-width="0.4"/>
<line x1="53.60" y1="619.70" x2="53.60" y2="621.90" stroke="#231f20" stroke-width="0.6"/>
<text x="53.60" y="631.20" font-size="7.0" fill="#333" stroke="#333" stroke-width="0.18" text-anchor="middle" textLength="3.20" lengthAdjust="spacingAndGlyphs">3</text>
<line x1="56.55" y1="619.70" x2="56.55" y2="621.00" stroke="#231f20" stroke-width="0.4"/>
<line x1="59.90" y1="619.70" x2="59.90" y2="621.90" stroke="#231f20" stroke-width="0.6"/>
<text x="59.90" y="631.20" font-size="7.0" fill="#333" stroke="#333" stroke-width="0.18" text-anchor="middle" textLength="3.20" lengthAdjust="spacingAndGlyphs">4</text>
<line x1="62.85" y1="619.70" x2="62.85" y2="621.00" stroke="#231f20" stroke-width="0.4"/>
<line x1="65.80" y1="619.70" x2="65.80" y2="621.90" stroke="#231f20" stroke-width="0.6"/>
<text x="65.80" y="631.20" font-size="7.0" fill="#333" stroke="#333" stroke-width="0.18" text-anchor="middle" textLength="3.20" lengthAdjust="spacingAndGlyphs">5</text>
<line x1="68.75" y1="619.70" x2="68.75" y2="621.00" stroke="#231f20" stroke-width="0.4"/>
<line x1="71.60" y1="619.70" x2="71.60" y2="621.90" stroke="#231f20" stroke-width="0.6"/>
<text x="71.60" y="631.20" font-size="7.0" fill="#333" stroke="#333" stroke-width="0.18" text-anchor="middle" textLength="3.20" lengthAdjust="spacingAndGlyphs">6</text>
<line x1="74.55" y1="619.70" x2="74.55" y2="621.00" stroke="#231f20" stroke-width="0.4"/>
<line x1="77.90" y1="619.70" x2="77.90" y2="621.90" stroke="#231f20" stroke-width="0.6"/>
<text x="77.90" y="631.20" font-size="7.0" fill="#333" stroke="#333" stroke-width="0.18" text-anchor="middle" textLength="3.20" lengthAdjust="spacingAndGlyphs">7</text>
<line x1="85.80" y1="619.70" x2="85.80" y2="621.90" stroke="#231f20" stroke-width="0.6"/>
<text x="85.80" y="631.20" font-size="7.0" fill="#333" stroke="#333" stroke-width="0.18" text-anchor="middle" textLength="6.40" lengthAdjust="spacingAndGlyphs">10</text>
<line x1="96.20" y1="619.70" x2="96.20" y2="621.90" stroke="#231f20" stroke-width="0.6"/>
<text x="96.20" y="631.20" font-size="7.0" fill="#333" stroke="#333" stroke-width="0.18" text-anchor="middle" textLength="6.40" lengthAdjust="spacingAndGlyphs">20</text>
<line x1="82.50" y1="619.70" x2="82.50" y2="621.00" stroke="#231f20" stroke-width="0.3"/>
<line x1="83.50" y1="619.70" x2="83.50" y2="621.00" stroke="#231f20" stroke-width="0.3"/>
<line x1="84.50" y1="619.70" x2="84.50" y2="621.00" stroke="#231f20" stroke-width="0.3"/>
<line x1="85.50" y1="619.70" x2="85.50" y2="621.00" stroke="#231f20" stroke-width="0.3"/>
<line x1="86.50" y1="619.70" x2="86.50" y2="621.00" stroke="#231f20" stroke-width="0.3"/>
<line x1="87.50" y1="619.70" x2="87.50" y2="621.00" stroke="#231f20" stroke-width="0.3"/>
<line x1="88.50" y1="619.70" x2="88.50" y2="621.00" stroke="#231f20" stroke-width="0.3"/>
<line x1="89.50" y1="619.70" x2="89.50" y2="621.00" stroke="#231f20" stroke-width="0.3"/>
<line x1="90.50" y1="619.70" x2="90.50" y2="621.00" stroke="#231f20" stroke-width="0.3"/>
<line x1="91.50" y1="619.70" x2="91.50" y2="621.00" stroke="#231f20" stroke-width="0.3"/>
<line x1="92.50" y1="619.70" x2="92.50" y2="621.00" stroke="#231f20" stroke-width="0.3"/>
<line x1="93.50" y1="619.70" x2="93.50" y2="621.00" stroke="#231f20" stroke-width="0.3"/>
<line x1="94.50" y1="619.70" x2="94.50" y2="621.00" stroke="#231f20" stroke-width="0.3"/>
<line x1="95.50" y1="619.70" x2="95.50" y2="621.00" stroke="#231f20" stroke-width="0.3"/>
<line x1="96.50" y1="619.70" x2="96.50" y2="621.00" stroke="#231f20" stroke-width="0.3"/>
<line x1="97.50" y1="619.70" x2="97.50" y2="621.00" stroke="#231f20" stroke-width="0.3"/>
<text x="25.40" y="522.20" font-size="7.2" fill="#222" stroke="#222" stroke-width="0.18" text-anchor="end" textLength="18.70" lengthAdjust="spacingAndGlyphs">CD161</text>
<text x="25.40" y="549.80" font-size="7.2" fill="#222" stroke="#222" stroke-width="0.18" text-anchor="end" textLength="13.40" lengthAdjust="spacingAndGlyphs">PD-1</text>
<text x="25.40" y="578.00" font-size="7.2" fill="#222" stroke="#222" stroke-width="0.18" text-anchor="end" textLength="15.50" lengthAdjust="spacingAndGlyphs">TIGIT</text>
<text x="25.40" y="605.50" font-size="7.2" fill="#222" stroke="#222" stroke-width="0.18" text-anchor="end" textLength="15.50" lengthAdjust="spacingAndGlyphs">BTLA</text>
<rect x="37.50" y="514.25" width="4.20" height="3.90" fill="#84d2a8"/>
<path d="M38.1 517.1h0M40.9 515.6h0M39.7 516.1h0M40.4 517.0h0M37.9 515.0h0M41.2 516.0h0M40.9 514.9h0M39.5 516.8h0M38.5 517.4h0M41.5 515.0h0M37.6 516.3h0M41.6 515.9h0M38.5 516.0h0M37.6 515.5h0M44.0 516.2h0M46.0 516.2h0" stroke="#33b377" stroke-width="1.35" stroke-linecap="round" fill="none" opacity="0.9"/>
<line x1="36.50" y1="516.20" x2="37.50" y2="516.20" stroke="#333" stroke-width="0.6"/>
<line x1="36.50" y1="515.20" x2="36.50" y2="517.20" stroke="#333" stroke-width="0.6"/>
<circle cx="37.50" cy="516.20" r="0.90" fill="#333"/>
<rect x="41.70" y="519.55" width="24.30" height="3.90" fill="#f27fbe"/>
<path d="M66.1 522.7h0M43.1 520.4h0M63.0 522.1h0M58.8 521.0h0M57.2 521.8h0M56.5 520.6h0M52.7 521.2h0M60.1 522.8h0M65.9 521.6h0M53.1 520.9h0M42.6 520.3h0M53.6 521.0h0M51.4 522.5h0M55.1 521.7h0M47.7 520.3h0M50.0 520.6h0M54.7 522.8h0M58.9 520.7h0M64.5 522.3h0M60.4 522.6h0M61.2 522.3h0M50.7 522.8h0M66.2 520.6h0M60.9 522.1h0M53.5 521.6h0M54.2 522.6h0M54.5 522.4h0M50.7 522.5h0M64.7 521.4h0M56.2 522.6h0M60.2 521.5h0M47.4 521.0h0M59.5 520.6h0M64.9 520.9h0M65.0 521.0h0M66.1 522.0h0M54.6 521.5h0M58.3 521.7h0M49.7 520.7h0M54.8 522.6h0M57.6 520.4h0M62.6 522.1h0M64.9 520.7h0M60.7 520.4h0M58.4 520.9h0M47.5 522.5h0M44.4 521.6h0M63.5 520.8h0M47.1 522.5h0M52.5 522.1h0M42.5 521.1h0M46.1 521.9h0M43.8 522.7h0M42.3 522.1h0M42.2 520.9h0M70.0 521.5h0M73.0 521.5h0M78.0 521.5h0M85.6 521.5h0" stroke="#e5168a" stroke-width="1.35" stroke-linecap="round" fill="none" opacity="0.9"/>
<line x1="66.00" y1="521.50" x2="67.50" y2="521.50" stroke="#333" stroke-width="0.6"/>
<line x1="67.50" y1="520.50" x2="67.50" y2="522.50" stroke="#333" stroke-width="0.6"/>
<circle cx="66.00" cy="521.50" r="0.90" fill="#333"/>
<rect x="41.70" y="525.05" width="22.80" height="3.90" fill="#9dbde9"/>
<path d="M47.4 527.1h0M50.6 527.3h0M56.7 525.9h0M42.0 527.9h0M47.9 526.3h0M65.5 526.9h0M61.7 526.9h0M57.0 526.1h0M56.9 528.0h0M54.2 527.6h0M57.8 525.9h0M59.9 527.2h0M48.9 525.8h0M62.4 526.9h0M58.9 528.0h0M58.8 528.1h0M51.2 527.8h0M52.3 528.1h0M62.7 526.0h0M45.0 526.3h0M64.8 526.8h0M56.7 526.5h0M53.8 526.7h0M50.1 527.2h0M55.7 528.1h0M58.0 528.1h0M62.2 528.3h0M57.8 526.1h0M62.3 528.2h0M63.4 527.2h0M58.8 526.2h0M61.6 527.2h0M48.5 525.9h0M62.1 528.3h0M43.8 527.8h0M51.5 526.1h0M48.7 527.7h0M62.6 525.8h0M56.4 525.8h0M58.9 526.6h0M62.8 528.2h0M53.8 528.3h0M49.1 525.9h0M56.1 525.8h0M46.4 526.8h0M56.3 526.1h0M42.7 528.0h0M49.2 528.2h0M63.2 526.7h0M52.7 527.1h0M57.1 527.2h0M55.1 527.3h0M64.2 527.0h0M52.0 527.6h0M47.4 526.5h0M68.0 527.0h0M71.0 527.0h0M83.0 527.0h0M86.0 527.0h0" stroke="#5f94d8" stroke-width="1.35" stroke-linecap="round" fill="none" opacity="0.9"/>
<line x1="64.50" y1="527.00" x2="66.00" y2="527.00" stroke="#333" stroke-width="0.6"/>
<line x1="66.00" y1="526.00" x2="66.00" y2="528.00" stroke="#333" stroke-width="0.6"/>
<circle cx="64.50" cy="527.00" r="0.90" fill="#333"/>
<rect x="41.70" y="542.05" width="8.30" height="3.90" fill="#84d2a8"/>
<path d="M43.8 543.0h0M45.2 543.1h0M42.3 543.7h0M49.7 544.8h0M48.4 543.3h0M46.4 543.4h0M43.2 543.0h0M43.6 545.1h0M48.9 544.8h0M48.7 543.2h0M44.4 544.3h0M48.1 544.9h0M49.4 542.9h0M47.0 544.4h0M46.1 543.2h0M45.8 542.9h0M49.8 545.0h0M46.5 543.5h0M49.6 544.2h0M49.4 544.9h0M46.1 543.8h0M46.9 543.8h0M43.1 543.5h0M48.8 542.8h0M42.1 544.3h0M44.1 544.1h0M45.8 543.6h0M50.4 543.2h0M55.0 544.0h0M58.0 544.0h0M62.0 544.0h0M64.0 544.0h0" stroke="#33b377" stroke-width="1.35" stroke-linecap="round" fill="none" opacity="0.9"/>
<line x1="50.00" y1="544.00" x2="52.00" y2="544.00" stroke="#333" stroke-width="0.6"/>
<line x1="52.00" y1="543.00" x2="52.00" y2="545.00" stroke="#333" stroke-width="0.6"/>
<circle cx="50.00" cy="544.00" r="0.90" fill="#333"/>
<rect x="41.70" y="547.45" width="8.30" height="3.90" fill="#f27fbe"/>
<path d="M47.1 550.0h0M48.6 550.6h0M48.1 550.5h0M42.0 549.3h0M49.9 549.8h0M49.6 548.4h0M45.8 548.7h0M46.4 549.6h0M41.8 548.7h0M44.1 550.5h0M48.4 548.5h0M48.6 548.5h0M47.1 548.4h0M41.7 550.4h0M43.5 548.7h0M50.3 550.4h0M44.2 550.6h0M46.4 549.9h0M43.5 550.5h0M47.7 550.6h0M49.5 548.9h0M44.8 548.5h0M43.0 548.3h0M44.3 549.7h0M41.7 549.9h0M44.6 548.9h0M48.8 549.3h0M44.5 549.4h0M55.0 549.4h0M57.0 549.4h0M62.0 549.4h0M64.0 549.4h0" stroke="#e5168a" stroke-width="1.35" stroke-linecap="round" fill="none" opacity="0.9"/>
<line x1="50.00" y1="549.40" x2="52.00" y2="549.40" stroke="#333" stroke-width="0.6"/>
<line x1="52.00" y1="548.40" x2="52.00" y2="550.40" stroke="#333" stroke-width="0.6"/>
<circle cx="50.00" cy="549.40" r="0.90" fill="#333"/>
<rect x="41.70" y="552.65" width="7.30" height="3.90" fill="#9dbde9"/>
<path d="M47.8 555.4h0M45.4 554.0h0M41.7 555.0h0M45.3 555.3h0M44.6 555.3h0M43.8 555.4h0M47.3 554.4h0M45.8 555.1h0M43.2 554.7h0M47.9 554.0h0M47.9 555.1h0M48.2 554.2h0M42.4 555.4h0M47.9 554.5h0M42.4 553.8h0M46.6 554.1h0M49.0 554.8h0M43.2 555.0h0M44.5 555.7h0M48.7 554.6h0M46.6 555.1h0M47.9 555.8h0M41.9 554.2h0M46.3 554.1h0M46.2 553.5h0M48.4 554.7h0M42.6 555.0h0M44.1 553.8h0M54.0 554.6h0M56.0 554.6h0M62.0 554.6h0M64.0 554.6h0" stroke="#5f94d8" stroke-width="1.35" stroke-linecap="round" fill="none" opacity="0.9"/>
<line x1="49.00" y1="554.60" x2="51.00" y2="554.60" stroke="#333" stroke-width="0.6"/>
<line x1="51.00" y1="553.60" x2="51.00" y2="555.60" stroke="#333" stroke-width="0.6"/>
<circle cx="49.00" cy="554.60" r="0.90" fill="#333"/>
<rect x="41.70" y="570.25" width="28.10" height="3.90" fill="#84d2a8"/>
<path d="M51.3 571.3h0M60.9 571.1h0M57.5 571.9h0M43.4 572.2h0M42.8 572.0h0M43.8 571.1h0M54.2 573.0h0M45.4 571.5h0M60.2 573.4h0M58.7 571.9h0M70.5 571.0h0M67.0 571.7h0M46.0 571.2h0M50.8 573.0h0M47.0 572.4h0M60.6 571.9h0M57.9 571.1h0M43.5 571.4h0M61.8 572.0h0M51.0 572.4h0M55.1 571.7h0M65.1 572.7h0M48.9 572.4h0M57.2 573.2h0M63.2 571.6h0M70.6 571.2h0M54.0 572.9h0M46.2 572.2h0M42.9 572.6h0M64.3 572.4h0M67.5 571.7h0M62.2 572.4h0M58.8 572.1h0M66.5 573.4h0M55.7 572.6h0M43.5 572.7h0M60.8 573.5h0M66.0 571.6h0M53.1 572.6h0M42.4 572.1h0M46.7 571.2h0M43.4 572.9h0M45.5 571.5h0M53.2 573.2h0M44.1 572.1h0M57.9 573.2h0M65.9 573.1h0M49.9 572.0h0M52.3 573.2h0M70.0 571.3h0M90.0 572.2h0M92.0 572.2h0M94.0 572.2h0" stroke="#33b377" stroke-width="1.35" stroke-linecap="round" fill="none" opacity="0.9"/>
<line x1="69.80" y1="572.20" x2="88.80" y2="572.20" stroke="#333" stroke-width="0.6"/>
<line x1="88.80" y1="571.20" x2="88.80" y2="573.20" stroke="#333" stroke-width="0.6"/>
<circle cx="69.80" cy="572.20" r="0.90" fill="#333"/>
<rect x="41.70" y="575.85" width="19.60" height="3.90" fill="#f27fbe"/>
<path d="M46.4 579.0h0M44.3 578.3h0M43.5 577.1h0M62.3 577.0h0M54.9 577.7h0M51.0 577.8h0M45.7 578.7h0M43.5 577.1h0M42.1 577.2h0M50.1 578.8h0M49.5 576.8h0M47.0 579.1h0M43.0 578.1h0M49.5 578.2h0M48.7 578.3h0M51.9 578.2h0M60.3 578.0h0M44.6 576.7h0M61.2 577.8h0M45.7 579.0h0M53.6 578.4h0M59.8 577.2h0M49.0 578.8h0M44.5 578.5h0M43.7 578.3h0M56.2 579.0h0M59.1 577.8h0M45.8 576.9h0M52.6 577.8h0M43.2 578.8h0M52.1 578.3h0M46.2 577.1h0M41.9 577.4h0M47.2 577.6h0M49.5 578.7h0M60.0 577.0h0M49.9 576.9h0M55.3 579.0h0M45.9 578.5h0M47.9 576.5h0M57.4 577.4h0M45.2 577.6h0M46.5 577.6h0M50.9 577.6h0M53.8 577.3h0M88.0 577.8h0M92.0 577.8h0" stroke="#e5168a" stroke-width="1.35" stroke-linecap="round" fill="none" opacity="0.9"/>
<line x1="61.30" y1="577.80" x2="84.60" y2="577.80" stroke="#333" stroke-width="0.6"/>
<line x1="84.60" y1="576.80" x2="84.60" y2="578.80" stroke="#333" stroke-width="0.6"/>
<circle cx="61.30" cy="577.80" r="0.90" fill="#333"/>
<rect x="38.00" y="581.35" width="3.70" height="3.90" fill="#9dbde9"/>
<path d="M39.8 583.0h0M38.5 584.3h0M38.0 583.3h0M41.5 582.2h0M40.2 583.6h0M38.2 583.0h0M40.7 583.2h0M40.8 582.4h0M38.9 582.3h0M40.0 584.4h0M40.3 584.0h0M39.5 583.9h0M47.0 583.3h0M50.0 583.3h0" stroke="#5f94d8" stroke-width="1.35" stroke-linecap="round" fill="none" opacity="0.9"/>
<line x1="38.00" y1="583.30" x2="45.00" y2="583.30" stroke="#333" stroke-width="0.6"/>
<line x1="45.00" y1="582.30" x2="45.00" y2="584.30" stroke="#333" stroke-width="0.6"/>
<circle cx="38.00" cy="583.30" r="0.90" fill="#333"/>
<rect x="41.70" y="597.85" width="8.30" height="3.90" fill="#84d2a8"/>
<path d="M46.7 599.6h0M46.7 599.0h0M48.8 600.6h0M47.4 598.9h0M46.2 599.4h0M43.9 601.0h0M50.4 598.6h0M49.2 600.1h0M45.0 599.2h0M47.6 599.7h0M47.7 600.2h0M42.9 600.5h0M50.3 601.0h0M47.0 598.6h0M41.7 598.8h0M49.9 599.3h0M44.9 600.8h0M44.4 599.9h0M45.5 598.7h0M46.8 600.7h0M43.1 599.1h0M45.3 598.6h0M55.0 599.8h0M58.0 599.8h0" stroke="#33b377" stroke-width="1.35" stroke-linecap="round" fill="none" opacity="0.9"/>
<line x1="50.00" y1="599.80" x2="53.00" y2="599.80" stroke="#333" stroke-width="0.6"/>
<line x1="53.00" y1="598.80" x2="53.00" y2="600.80" stroke="#333" stroke-width="0.6"/>
<circle cx="50.00" cy="599.80" r="0.90" fill="#333"/>
<rect x="41.70" y="603.45" width="9.30" height="3.90" fill="#f27fbe"/>
<path d="M46.1 605.6h0M50.7 605.3h0M46.7 605.6h0M43.5 605.4h0M47.9 606.2h0M42.6 604.9h0M42.6 606.2h0M48.5 604.2h0M51.3 606.6h0M48.1 605.7h0M43.2 604.1h0M46.9 604.3h0M43.6 604.7h0M42.0 605.3h0M46.0 606.3h0M46.8 605.8h0M46.6 605.8h0M46.2 604.8h0M51.4 606.7h0M49.9 605.9h0M44.8 604.7h0M44.5 604.3h0M61.0 605.4h0M68.0 605.4h0" stroke="#e5168a" stroke-width="1.35" stroke-linecap="round" fill="none" opacity="0.9"/>
<line x1="51.00" y1="605.40" x2="54.00" y2="605.40" stroke="#333" stroke-width="0.6"/>
<line x1="54.00" y1="604.40" x2="54.00" y2="606.40" stroke="#333" stroke-width="0.6"/>
<circle cx="51.00" cy="605.40" r="0.90" fill="#333"/>
<rect x="40.50" y="608.85" width="1.20" height="3.90" fill="#9dbde9"/>
<path d="M41.1 611.2h0M41.3 609.9h0M40.5 610.5h0M40.8 611.6h0M41.4 611.1h0M41.2 611.2h0M40.7 610.6h0M40.7 611.9h0M40.6 611.6h0M40.6 611.3h0M48.0 610.8h0" stroke="#5f94d8" stroke-width="1.35" stroke-linecap="round" fill="none" opacity="0.9"/>
<line x1="40.50" y1="610.80" x2="43.50" y2="610.80" stroke="#333" stroke-width="0.6"/>
<line x1="43.50" y1="609.80" x2="43.50" y2="611.80" stroke="#333" stroke-width="0.6"/>
<circle cx="40.50" cy="610.80" r="0.90" fill="#333"/>
<text x="65.90" y="643.40" font-size="7.4" fill="#333" stroke="#333" stroke-width="0.18" text-anchor="middle" textLength="68.40" lengthAdjust="spacingAndGlyphs">Enrichment in receptor</text>
<text x="29.9" y="653.4" font-size="7.4" fill="#333" stroke="#333" stroke-width="0.18" textLength="72.3" lengthAdjust="spacingAndGlyphs">expression <tspan font-style="italic">(fold increase</tspan></text>
<text x="31.00" y="663.40" font-size="7.4" fill="#333" stroke="#333" stroke-width="0.18" font-style="italic" textLength="70.00" lengthAdjust="spacingAndGlyphs">vs. % in bulk CD4 T cells)</text>
<line x1="126.90" y1="506.70" x2="126.90" y2="528.20" stroke="#231f20" stroke-width="0.8"/>
<line x1="124.70" y1="507.70" x2="126.90" y2="507.70" stroke="#231f20" stroke-width="0.6"/>
<line x1="124.70" y1="511.70" x2="126.90" y2="511.70" stroke="#231f20" stroke-width="0.6"/>
<line x1="124.70" y1="516.20" x2="126.90" y2="516.20" stroke="#231f20" stroke-width="0.6"/>
<line x1="124.70" y1="521.50" x2="126.90" y2="521.50" stroke="#231f20" stroke-width="0.6"/>
<line x1="124.70" y1="527.00" x2="126.90" y2="527.00" stroke="#231f20" stroke-width="0.6"/>
<line x1="125.60" y1="518.85" x2="126.90" y2="518.85" stroke="#231f20" stroke-width="0.4"/>
<line x1="125.60" y1="524.25" x2="126.90" y2="524.25" stroke="#231f20" stroke-width="0.4"/>
<line x1="125.60" y1="509.70" x2="126.90" y2="509.70" stroke="#231f20" stroke-width="0.4"/>
<line x1="125.60" y1="514.00" x2="126.90" y2="514.00" stroke="#231f20" stroke-width="0.4"/>
<line x1="126.90" y1="534.50" x2="126.90" y2="555.80" stroke="#231f20" stroke-width="0.8"/>
<line x1="124.70" y1="535.50" x2="126.90" y2="535.50" stroke="#231f20" stroke-width="0.6"/>
<line x1="124.70" y1="539.50" x2="126.90" y2="539.50" stroke="#231f20" stroke-width="0.6"/>
<line x1="124.70" y1="544.00" x2="126.90" y2="544.00" stroke="#231f20" stroke-width="0.6"/>
<line x1="124.70" y1="549.40" x2="126.90" y2="549.40" stroke="#231f20" stroke-width="0.6"/>
<line x1="124.70" y1="554.60" x2="126.90" y2="554.60" stroke="#231f20" stroke-width="0.6"/>
<line x1="125.60" y1="546.70" x2="126.90" y2="546.70" stroke="#231f20" stroke-width="0.4"/>
<line x1="125.60" y1="552.00" x2="126.90" y2="552.00" stroke="#231f20" stroke-width="0.4"/>
<line x1="125.60" y1="537.50" x2="126.90" y2="537.50" stroke="#231f20" stroke-width="0.4"/>
<line x1="125.60" y1="541.80" x2="126.90" y2="541.80" stroke="#231f20" stroke-width="0.4"/>
<line x1="126.90" y1="562.70" x2="126.90" y2="584.50" stroke="#231f20" stroke-width="0.8"/>
<line x1="124.70" y1="563.70" x2="126.90" y2="563.70" stroke="#231f20" stroke-width="0.6"/>
<line x1="124.70" y1="567.70" x2="126.90" y2="567.70" stroke="#231f20" stroke-width="0.6"/>
<line x1="124.70" y1="572.20" x2="126.90" y2="572.20" stroke="#231f20" stroke-width="0.6"/>
<line x1="124.70" y1="577.80" x2="126.90" y2="577.80" stroke="#231f20" stroke-width="0.6"/>
<line x1="124.70" y1="583.30" x2="126.90" y2="583.30" stroke="#231f20" stroke-width="0.6"/>
<line x1="125.60" y1="575.00" x2="126.90" y2="575.00" stroke="#231f20" stroke-width="0.4"/>
<line x1="125.60" y1="580.55" x2="126.90" y2="580.55" stroke="#231f20" stroke-width="0.4"/>
<line x1="125.60" y1="565.70" x2="126.90" y2="565.70" stroke="#231f20" stroke-width="0.4"/>
<line x1="125.60" y1="570.00" x2="126.90" y2="570.00" stroke="#231f20" stroke-width="0.4"/>
<line x1="126.90" y1="590.30" x2="126.90" y2="612.00" stroke="#231f20" stroke-width="0.8"/>
<line x1="124.70" y1="591.30" x2="126.90" y2="591.30" stroke="#231f20" stroke-width="0.6"/>
<line x1="124.70" y1="595.30" x2="126.90" y2="595.30" stroke="#231f20" stroke-width="0.6"/>
<line x1="124.70" y1="599.80" x2="126.90" y2="599.80" stroke="#231f20" stroke-width="0.6"/>
<line x1="124.70" y1="605.40" x2="126.90" y2="605.40" stroke="#231f20" stroke-width="0.6"/>
<line x1="124.70" y1="610.80" x2="126.90" y2="610.80" stroke="#231f20" stroke-width="0.6"/>
<line x1="125.60" y1="602.60" x2="126.90" y2="602.60" stroke="#231f20" stroke-width="0.4"/>
<line x1="125.60" y1="608.10" x2="126.90" y2="608.10" stroke="#231f20" stroke-width="0.4"/>
<line x1="125.60" y1="593.30" x2="126.90" y2="593.30" stroke="#231f20" stroke-width="0.4"/>
<line x1="125.60" y1="597.60" x2="126.90" y2="597.60" stroke="#231f20" stroke-width="0.4"/>
<line x1="143.50" y1="505.00" x2="143.50" y2="619.50" stroke="#222" stroke-width="0.8"/>
<line x1="126.50" y1="619.50" x2="195.20" y2="619.50" stroke="#231f20" stroke-width="0.8"/>
<line x1="131.80" y1="619.50" x2="131.80" y2="621.80" stroke="#231f20" stroke-width="0.6"/>
<text x="131.80" y="631.20" font-size="7.0" fill="#333" stroke="#333" stroke-width="0.18" text-anchor="middle" textLength="12.90" lengthAdjust="spacingAndGlyphs">0.25</text>
<line x1="143.50" y1="619.50" x2="143.50" y2="621.80" stroke="#231f20" stroke-width="0.6"/>
<text x="143.50" y="631.20" font-size="7.0" fill="#333" stroke="#333" stroke-width="0.18" text-anchor="middle" textLength="3.20" lengthAdjust="spacingAndGlyphs">1</text>
<line x1="155.20" y1="619.50" x2="155.20" y2="621.80" stroke="#231f20" stroke-width="0.6"/>
<text x="155.20" y="631.20" font-size="7.0" fill="#333" stroke="#333" stroke-width="0.18" text-anchor="middle" textLength="3.20" lengthAdjust="spacingAndGlyphs">4</text>
<line x1="166.90" y1="619.50" x2="166.90" y2="621.80" stroke="#231f20" stroke-width="0.6"/>
<text x="166.90" y="631.20" font-size="7.0" fill="#333" stroke="#333" stroke-width="0.18" text-anchor="middle" textLength="6.40" lengthAdjust="spacingAndGlyphs">16</text>
<line x1="178.60" y1="619.50" x2="178.60" y2="621.80" stroke="#231f20" stroke-width="0.6"/>
<text x="178.60" y="631.20" font-size="7.0" fill="#333" stroke="#333" stroke-width="0.18" text-anchor="middle" textLength="6.40" lengthAdjust="spacingAndGlyphs">64</text>
<line x1="190.30" y1="619.50" x2="190.30" y2="621.80" stroke="#231f20" stroke-width="0.6"/>
<text x="190.30" y="631.20" font-size="7.0" fill="#333" stroke="#333" stroke-width="0.18" text-anchor="middle" textLength="9.60" lengthAdjust="spacingAndGlyphs">256</text>
<line x1="125.95" y1="619.50" x2="125.95" y2="620.90" stroke="#231f20" stroke-width="0.4"/>
<line x1="137.65" y1="619.50" x2="137.65" y2="620.90" stroke="#231f20" stroke-width="0.4"/>
<line x1="149.35" y1="619.50" x2="149.35" y2="620.90" stroke="#231f20" stroke-width="0.4"/>
<line x1="161.05" y1="619.50" x2="161.05" y2="620.90" stroke="#231f20" stroke-width="0.4"/>
<line x1="172.75" y1="619.50" x2="172.75" y2="620.90" stroke="#231f20" stroke-width="0.4"/>
<line x1="184.45" y1="619.50" x2="184.45" y2="620.90" stroke="#231f20" stroke-width="0.4"/>
<line x1="196.15" y1="619.50" x2="196.15" y2="620.90" stroke="#231f20" stroke-width="0.4"/>
<text x="121.30" y="522.00" font-size="7.2" fill="#222" stroke="#222" stroke-width="0.18" text-anchor="end" textLength="19.30" lengthAdjust="spacingAndGlyphs">CD161</text>
<text x="121.30" y="550.30" font-size="7.2" fill="#222" stroke="#222" stroke-width="0.18" text-anchor="end" textLength="13.40" lengthAdjust="spacingAndGlyphs">PD-1</text>
<text x="121.30" y="578.60" font-size="7.2" fill="#222" stroke="#222" stroke-width="0.18" text-anchor="end" textLength="15.50" lengthAdjust="spacingAndGlyphs">TIGIT</text>
<text x="121.30" y="605.20" font-size="7.2" fill="#222" stroke="#222" stroke-width="0.18" text-anchor="end" textLength="15.50" lengthAdjust="spacingAndGlyphs">BTLA</text>
<rect x="133.00" y="513.85" width="10.50" height="3.90" fill="#84d2a8"/>
<path d="M134.8 516.3h0M140.0 515.7h0M135.4 516.6h0M141.9 515.8h0M138.6 515.1h0M133.0 515.5h0M139.5 514.7h0M141.8 515.1h0M135.6 514.6h0M144.0 516.4h0M142.6 516.1h0M133.4 515.4h0M138.5 514.8h0M143.5 515.5h0M134.7 516.6h0M134.4 516.9h0M138.0 515.9h0M136.8 515.8h0M146.0 515.8h0M149.0 515.8h0M153.0 515.8h0M157.0 515.8h0M159.0 515.8h0" stroke="#33b377" stroke-width="1.35" stroke-linecap="round" fill="none" opacity="0.9"/>
<line x1="131.50" y1="515.80" x2="133.00" y2="515.80" stroke="#333" stroke-width="0.6"/>
<line x1="131.50" y1="514.80" x2="131.50" y2="516.80" stroke="#333" stroke-width="0.6"/>
<circle cx="133.00" cy="515.80" r="0.90" fill="#333"/>
<rect x="143.50" y="519.25" width="19.10" height="3.90" fill="#f27fbe"/>
<path d="M162.7 520.3h0M144.0 522.5h0M147.2 520.2h0M156.6 520.8h0M161.3 520.5h0M162.7 520.7h0M155.6 522.3h0M157.2 522.3h0M157.7 520.0h0M161.2 521.4h0M149.7 520.4h0M160.5 521.4h0M162.3 521.9h0M162.8 521.4h0M157.5 521.5h0M148.7 522.4h0M149.8 521.9h0M162.6 521.6h0M146.4 522.0h0M156.9 520.4h0M144.5 521.3h0M144.1 522.3h0M153.7 521.2h0M151.7 521.6h0M161.9 520.7h0M151.0 521.4h0M149.5 521.4h0M154.4 521.0h0M157.0 521.3h0M145.3 522.5h0M150.6 521.0h0M151.6 522.3h0M162.6 521.2h0M151.5 520.2h0M161.5 520.3h0M154.5 520.8h0M150.1 520.8h0M147.3 520.0h0M154.2 522.0h0M156.5 520.4h0M157.4 520.0h0M151.7 522.1h0M169.0 521.2h0M172.0 521.2h0M175.0 521.2h0M178.0 521.2h0" stroke="#e5168a" stroke-width="1.35" stroke-linecap="round" fill="none" opacity="0.9"/>
<line x1="162.60" y1="521.20" x2="166.00" y2="521.20" stroke="#333" stroke-width="0.6"/>
<line x1="166.00" y1="520.20" x2="166.00" y2="522.20" stroke="#333" stroke-width="0.6"/>
<circle cx="162.60" cy="521.20" r="0.90" fill="#333"/>
<rect x="143.50" y="524.35" width="18.10" height="3.90" fill="#9dbde9"/>
<path d="M161.1 527.5h0M160.5 525.2h0M154.8 526.1h0M153.6 525.3h0M147.1 526.2h0M147.7 526.2h0M144.0 525.2h0M157.0 526.1h0M153.2 526.9h0M150.3 525.1h0M158.4 526.5h0M156.0 526.6h0M161.9 525.9h0M157.9 526.0h0M154.4 526.7h0M149.5 525.2h0M152.5 526.9h0M154.7 526.2h0M155.7 525.5h0M146.9 525.8h0M159.0 525.5h0M145.7 525.3h0M144.2 525.7h0M154.4 527.1h0M149.8 526.0h0M149.0 525.8h0M158.3 526.4h0M148.4 525.3h0M158.4 526.8h0M159.2 525.6h0M153.9 527.4h0M154.8 527.5h0M146.7 527.5h0M144.6 526.1h0M143.9 527.1h0M156.6 527.5h0M158.8 527.5h0M153.7 527.6h0M157.7 525.9h0M162.0 526.0h0M147.2 525.2h0M152.4 525.5h0M168.0 526.3h0M171.0 526.3h0M175.0 526.3h0M178.0 526.3h0" stroke="#5f94d8" stroke-width="1.35" stroke-linecap="round" fill="none" opacity="0.9"/>
<line x1="161.60" y1="526.30" x2="165.00" y2="526.30" stroke="#333" stroke-width="0.6"/>
<line x1="165.00" y1="525.30" x2="165.00" y2="527.30" stroke="#333" stroke-width="0.6"/>
<circle cx="161.60" cy="526.30" r="0.90" fill="#333"/>
<rect x="143.50" y="541.45" width="8.00" height="3.90" fill="#84d2a8"/>
<path d="M149.5 544.3h0M145.0 544.7h0M145.1 543.8h0M144.3 544.1h0M144.8 543.9h0M149.6 544.1h0M147.2 544.4h0M151.8 542.4h0M147.8 544.6h0M149.7 543.3h0M146.1 544.6h0M144.2 544.1h0M150.6 542.5h0M146.2 542.9h0M148.1 543.1h0M151.0 544.5h0M146.2 544.4h0M144.1 542.4h0M149.1 544.2h0M150.4 544.7h0M150.7 542.8h0M149.7 544.5h0M157.0 543.4h0M163.0 543.4h0M167.0 543.4h0" stroke="#33b377" stroke-width="1.35" stroke-linecap="round" fill="none" opacity="0.9"/>
<line x1="151.50" y1="543.40" x2="154.00" y2="543.40" stroke="#333" stroke-width="0.6"/>
<line x1="154.00" y1="542.40" x2="154.00" y2="544.40" stroke="#333" stroke-width="0.6"/>
<circle cx="151.50" cy="543.40" r="0.90" fill="#333"/>
<rect x="143.50" y="547.05" width="7.50" height="3.90" fill="#f27fbe"/>
<path d="M146.5 550.1h0M150.1 548.3h0M150.4 549.4h0M143.8 550.2h0M145.5 548.5h0M146.8 549.2h0M144.5 549.5h0M150.1 549.0h0M149.8 549.3h0M150.0 548.2h0M146.3 548.9h0M144.3 550.2h0M148.5 548.0h0M148.1 548.8h0M145.0 548.1h0M147.1 547.9h0M147.9 549.0h0M144.5 550.0h0M143.8 548.1h0M149.9 548.3h0M146.8 549.2h0M146.9 549.0h0M163.0 549.0h0M167.0 549.0h0" stroke="#e5168a" stroke-width="1.35" stroke-linecap="round" fill="none" opacity="0.9"/>
<line x1="151.00" y1="549.00" x2="154.00" y2="549.00" stroke="#333" stroke-width="0.6"/>
<line x1="154.00" y1="548.00" x2="154.00" y2="550.00" stroke="#333" stroke-width="0.6"/>
<circle cx="151.00" cy="549.00" r="0.90" fill="#333"/>
<rect x="143.50" y="552.55" width="7.00" height="3.90" fill="#9dbde9"/>
<path d="M149.0 553.7h0M145.0 554.8h0M143.9 555.2h0M149.1 553.3h0M148.5 554.5h0M148.2 555.7h0M150.8 554.3h0M149.7 555.2h0M150.6 553.3h0M150.4 553.8h0M144.5 554.8h0M149.7 555.7h0M146.2 555.4h0M143.7 555.7h0M145.7 554.6h0M144.4 553.3h0M143.6 554.8h0M147.6 555.3h0M149.8 554.3h0M149.7 553.7h0M150.0 553.9h0M150.4 554.2h0M162.0 554.5h0M168.0 554.5h0" stroke="#5f94d8" stroke-width="1.35" stroke-linecap="round" fill="none" opacity="0.9"/>
<line x1="150.50" y1="554.50" x2="153.00" y2="554.50" stroke="#333" stroke-width="0.6"/>
<line x1="153.00" y1="553.50" x2="153.00" y2="555.50" stroke="#333" stroke-width="0.6"/>
<circle cx="150.50" cy="554.50" r="0.90" fill="#333"/>
<rect x="143.50" y="569.75" width="24.20" height="3.90" fill="#84d2a8"/>
<path d="M160.0 572.2h0M167.8 570.9h0M145.2 572.5h0M152.0 571.4h0M164.2 570.9h0M166.6 571.7h0M145.3 572.8h0M158.1 570.6h0M164.8 572.4h0M162.3 572.1h0M168.7 570.4h0M168.3 572.1h0M149.9 572.0h0M152.1 572.1h0M161.4 571.8h0M146.0 571.4h0M151.2 572.3h0M167.2 572.4h0M157.0 570.8h0M161.5 571.1h0M168.8 570.8h0M168.1 570.4h0M163.3 571.3h0M158.1 571.5h0M151.3 571.5h0M164.2 571.3h0M152.7 572.4h0M148.0 571.3h0M156.6 571.7h0M147.8 572.4h0M155.9 570.6h0M152.1 570.5h0M152.2 570.7h0M150.0 571.8h0M161.0 571.2h0M155.3 571.7h0M158.4 572.8h0M149.0 572.4h0M157.6 572.7h0M160.9 570.4h0M145.0 572.5h0M151.0 572.0h0M146.0 571.9h0M153.9 571.6h0M143.6 572.7h0M164.9 572.3h0M159.3 571.0h0M148.4 572.6h0M151.9 571.4h0M165.9 571.3h0M175.0 571.7h0M177.0 571.7h0M178.0 571.7h0" stroke="#33b377" stroke-width="1.35" stroke-linecap="round" fill="none" opacity="0.9"/>
<line x1="167.70" y1="571.70" x2="171.00" y2="571.70" stroke="#333" stroke-width="0.6"/>
<line x1="171.00" y1="570.70" x2="171.00" y2="572.70" stroke="#333" stroke-width="0.6"/>
<circle cx="167.70" cy="571.70" r="0.90" fill="#333"/>
<rect x="143.50" y="575.05" width="23.20" height="3.90" fill="#f27fbe"/>
<path d="M146.3 576.0h0M158.0 576.2h0M146.7 576.9h0M153.7 576.3h0M153.0 577.9h0M146.7 576.2h0M144.2 576.3h0M145.8 578.3h0M151.2 578.3h0M146.7 578.1h0M155.8 577.5h0M159.6 576.4h0M149.2 577.5h0M146.7 575.7h0M162.3 577.3h0M149.8 577.1h0M165.7 576.4h0M146.5 576.8h0M147.6 576.7h0M144.3 577.7h0M163.1 576.7h0M152.7 576.4h0M166.7 578.0h0M159.6 576.2h0M147.7 577.7h0M148.1 577.5h0M153.8 575.8h0M148.3 578.1h0M151.4 577.5h0M162.1 576.7h0M155.7 577.9h0M161.2 577.1h0M156.8 576.9h0M153.9 577.4h0M149.4 578.0h0M150.7 576.3h0M167.0 575.7h0M153.4 577.1h0M154.2 577.9h0M159.9 577.0h0M143.6 578.3h0M152.4 576.6h0M148.8 576.2h0M146.0 576.0h0M159.9 576.5h0M155.9 577.4h0M145.3 577.7h0M148.2 577.8h0M174.0 577.0h0M177.0 577.0h0M178.0 577.0h0" stroke="#e5168a" stroke-width="1.35" stroke-linecap="round" fill="none" opacity="0.9"/>
<line x1="166.70" y1="577.00" x2="169.50" y2="577.00" stroke="#333" stroke-width="0.6"/>
<line x1="169.50" y1="576.00" x2="169.50" y2="578.00" stroke="#333" stroke-width="0.6"/>
<circle cx="166.70" cy="577.00" r="0.90" fill="#333"/>
<rect x="143.50" y="580.85" width="2.50" height="3.90" fill="#9dbde9"/>
<path d="M144.9 582.4h0M145.7 582.3h0M144.8 582.4h0M144.6 584.0h0M143.8 582.7h0M144.1 582.4h0M146.1 582.4h0M145.1 582.6h0M145.4 582.7h0M143.9 582.6h0M144.6 583.6h0M145.0 582.0h0M132.0 582.8h0M134.0 582.8h0M137.0 582.8h0M153.0 582.8h0M156.0 582.8h0M159.0 582.8h0M162.0 582.8h0" stroke="#5f94d8" stroke-width="1.35" stroke-linecap="round" fill="none" opacity="0.9"/>
<line x1="146.00" y1="582.80" x2="150.00" y2="582.80" stroke="#333" stroke-width="0.6"/>
<line x1="150.00" y1="581.80" x2="150.00" y2="583.80" stroke="#333" stroke-width="0.6"/>
<circle cx="146.00" cy="582.80" r="0.90" fill="#333"/>
<rect x="143.50" y="597.45" width="8.00" height="3.90" fill="#84d2a8"/>
<path d="M148.0 598.9h0M143.8 599.8h0M145.3 598.8h0M146.8 599.8h0M151.8 599.3h0M151.8 600.7h0M145.5 598.3h0M144.8 600.3h0M148.5 600.5h0M151.7 599.8h0M148.0 598.3h0M143.7 600.2h0M149.1 600.1h0M148.3 599.9h0M148.9 600.4h0M144.4 599.4h0M146.1 600.3h0M150.9 598.8h0M144.2 598.7h0M146.1 600.1h0M146.9 600.0h0M146.0 599.5h0M157.0 599.4h0M158.0 599.4h0" stroke="#33b377" stroke-width="1.35" stroke-linecap="round" fill="none" opacity="0.9"/>
<line x1="151.50" y1="599.40" x2="153.50" y2="599.40" stroke="#333" stroke-width="0.6"/>
<line x1="153.50" y1="598.40" x2="153.50" y2="600.40" stroke="#333" stroke-width="0.6"/>
<circle cx="151.50" cy="599.40" r="0.90" fill="#333"/>
<rect x="143.50" y="603.05" width="8.00" height="3.90" fill="#f27fbe"/>
<path d="M143.6 604.0h0M146.8 605.5h0M144.7 604.0h0M145.4 605.7h0M144.7 605.6h0M149.1 604.1h0M148.0 604.9h0M147.0 606.3h0M144.3 603.8h0M151.4 604.7h0M145.2 604.6h0M146.6 606.2h0M145.3 604.3h0M148.4 605.1h0M151.5 605.9h0M146.5 604.2h0M150.5 606.3h0M143.8 605.6h0M150.8 605.4h0M145.3 605.8h0M149.6 604.2h0M148.9 604.3h0M159.0 605.0h0M160.0 605.0h0" stroke="#e5168a" stroke-width="1.35" stroke-linecap="round" fill="none" opacity="0.9"/>
<line x1="151.50" y1="605.00" x2="154.00" y2="605.00" stroke="#333" stroke-width="0.6"/>
<line x1="154.00" y1="604.00" x2="154.00" y2="606.00" stroke="#333" stroke-width="0.6"/>
<circle cx="151.50" cy="605.00" r="0.90" fill="#333"/>
<rect x="140.50" y="608.75" width="3.00" height="3.90" fill="#9dbde9"/>
<path d="M140.7 610.0h0M141.5 611.7h0M142.1 611.3h0M140.8 610.7h0M143.2 610.8h0M143.5 611.7h0M141.7 609.4h0M142.9 609.7h0M140.5 611.3h0M143.2 611.6h0M136.0 610.7h0M147.0 610.7h0M149.0 610.7h0" stroke="#5f94d8" stroke-width="1.35" stroke-linecap="round" fill="none" opacity="0.9"/>
<line x1="138.00" y1="610.70" x2="140.50" y2="610.70" stroke="#333" stroke-width="0.6"/>
<line x1="138.00" y1="609.70" x2="138.00" y2="611.70" stroke="#333" stroke-width="0.6"/>
<circle cx="140.50" cy="610.70" r="0.90" fill="#333"/>
<path d="M141.2 610.7 L143.5 608.9 L145.8 610.7 L143.5 612.5 Z" fill="#5f94d8"/>
<text x="161.60" y="643.40" font-size="7.4" fill="#333" stroke="#333" stroke-width="0.18" text-anchor="middle" textLength="67.60" lengthAdjust="spacingAndGlyphs">Enrichment in receptor</text>
<text x="124.1" y="653.4" font-size="7.4" fill="#333" stroke="#333" stroke-width="0.18" textLength="73.1" lengthAdjust="spacingAndGlyphs">expression <tspan font-style="italic">(fold increase</tspan></text>
<text x="120.50" y="663.40" font-size="7.4" fill="#333" stroke="#333" stroke-width="0.18" font-style="italic" textLength="80.40" lengthAdjust="spacingAndGlyphs">vs. MMI in bulk CD4 T cells)</text>
<circle cx="67.60" cy="676.10" r="2.10" fill="#9a9a9a"/>
<text x="71.90" y="678.60" font-size="7.1" fill="#a5a5a5" textLength="46.10" lengthAdjust="spacingAndGlyphs">Bulk CD4 T cells</text>
<circle cx="127.80" cy="676.10" r="2.10" fill="#e5168a"/>
<text x="132.50" y="678.60" font-size="7.1" fill="#e5168a" textLength="30.00" lengthAdjust="spacingAndGlyphs">Cluster 26</text>
<circle cx="67.60" cy="685.60" r="2.10" fill="#33b377"/>
<text x="71.90" y="688.10" font-size="7.1" fill="#33b377" textLength="29.20" lengthAdjust="spacingAndGlyphs">Cluster 25</text>
<circle cx="111.30" cy="685.60" r="2.10" fill="#5f94d8"/>
<text x="115.70" y="688.10" font-size="7.1" fill="#5f94d8" textLength="29.60" lengthAdjust="spacingAndGlyphs">Cluster 22</text>
<text x="204.80" y="484.20" font-size="11.5" fill="#000" font-weight="bold">I</text>
<circle cx="274.60" cy="504.30" r="1.80" fill="#9a9a9a"/>
<text x="279.50" y="506.60" font-size="6.3" fill="#ababab" textLength="38.00" lengthAdjust="spacingAndGlyphs">Bulk CD8 T cells</text>
<circle cx="274.60" cy="510.60" r="1.80" fill="#f07878"/>
<text x="279.50" y="512.90" font-size="6.3" fill="#f07878" textLength="24.20" lengthAdjust="spacingAndGlyphs">Cluster 79</text>
<rect x="233.80" y="505.50" width="7.50" height="42.00" fill="#d6e1ec"/>
<line x1="228.00" y1="507.50" x2="228.00" y2="542.50" stroke="#231f20" stroke-width="0.8"/>
<line x1="225.80" y1="508.00" x2="228.00" y2="508.00" stroke="#231f20" stroke-width="0.6"/>
<line x1="225.80" y1="519.20" x2="228.00" y2="519.20" stroke="#231f20" stroke-width="0.6"/>
<line x1="225.80" y1="529.60" x2="228.00" y2="529.60" stroke="#231f20" stroke-width="0.6"/>
<line x1="225.80" y1="540.00" x2="228.00" y2="540.00" stroke="#231f20" stroke-width="0.6"/>
<line x1="241.80" y1="505.50" x2="241.80" y2="548.50" stroke="#222" stroke-width="0.8" stroke-dasharray="2.2 1.0"/>
<line x1="229.50" y1="548.00" x2="292.50" y2="548.00" stroke="#231f20" stroke-width="0.8"/>
<line x1="296.00" y1="548.00" x2="317.50" y2="548.00" stroke="#231f20" stroke-width="0.8"/>
<line x1="233.70" y1="548.00" x2="233.70" y2="550.20" stroke="#231f20" stroke-width="0.6"/>
<text x="233.70" y="559.30" font-size="7.0" fill="#333" stroke="#333" stroke-width="0.18" text-anchor="middle" textLength="3.20" lengthAdjust="spacingAndGlyphs">0</text>
<line x1="241.80" y1="548.00" x2="241.80" y2="550.20" stroke="#231f20" stroke-width="0.6"/>
<text x="241.80" y="559.30" font-size="7.0" fill="#333" stroke="#333" stroke-width="0.18" text-anchor="middle" textLength="3.20" lengthAdjust="spacingAndGlyphs">1</text>
<line x1="249.90" y1="548.00" x2="249.90" y2="550.20" stroke="#231f20" stroke-width="0.6"/>
<text x="249.90" y="559.30" font-size="7.0" fill="#333" stroke="#333" stroke-width="0.18" text-anchor="middle" textLength="3.20" lengthAdjust="spacingAndGlyphs">2</text>
<line x1="258.00" y1="548.00" x2="258.00" y2="550.20" stroke="#231f20" stroke-width="0.6"/>
<text x="258.00" y="559.30" font-size="7.0" fill="#333" stroke="#333" stroke-width="0.18" text-anchor="middle" textLength="3.20" lengthAdjust="spacingAndGlyphs">3</text>
<line x1="266.10" y1="548.00" x2="266.10" y2="550.20" stroke="#231f20" stroke-width="0.6"/>
<text x="266.10" y="559.30" font-size="7.0" fill="#333" stroke="#333" stroke-width="0.18" text-anchor="middle" textLength="3.20" lengthAdjust="spacingAndGlyphs">4</text>
<line x1="274.20" y1="548.00" x2="274.20" y2="550.20" stroke="#231f20" stroke-width="0.6"/>
<text x="274.20" y="559.30" font-size="7.0" fill="#333" stroke="#333" stroke-width="0.18" text-anchor="middle" textLength="3.20" lengthAdjust="spacingAndGlyphs">5</text>
<line x1="282.30" y1="548.00" x2="282.30" y2="550.20" stroke="#231f20" stroke-width="0.6"/>
<text x="282.30" y="559.30" font-size="7.0" fill="#333" stroke="#333" stroke-width="0.18" text-anchor="middle" textLength="3.20" lengthAdjust="spacingAndGlyphs">6</text>
<line x1="290.40" y1="548.00" x2="290.40" y2="550.20" stroke="#231f20" stroke-width="0.6"/>
<text x="290.40" y="559.30" font-size="7.0" fill="#333" stroke="#333" stroke-width="0.18" text-anchor="middle" textLength="3.20" lengthAdjust="spacingAndGlyphs">7</text>
<line x1="300.20" y1="548.00" x2="300.20" y2="550.20" stroke="#231f20" stroke-width="0.6"/>
<text x="300.20" y="559.30" font-size="7.0" fill="#333" stroke="#333" stroke-width="0.18" text-anchor="middle" textLength="6.40" lengthAdjust="spacingAndGlyphs">10</text>
<line x1="313.70" y1="548.00" x2="313.70" y2="550.20" stroke="#231f20" stroke-width="0.6"/>
<text x="313.70" y="559.30" font-size="7.0" fill="#333" stroke="#333" stroke-width="0.18" text-anchor="middle" textLength="6.40" lengthAdjust="spacingAndGlyphs">20</text>
<text x="222.00" y="518.30" font-size="7.2" fill="#222" stroke="#222" stroke-width="0.18" text-anchor="end" textLength="15.80" lengthAdjust="spacingAndGlyphs">TIGIT</text>
<rect x="241.80" y="517.40" width="20.70" height="3.60" fill="#f7b4b4"/>
<path d="M262.2 518.8h0M251.4 520.4h0M262.0 518.9h0M251.4 520.3h0M256.9 519.3h0M242.0 519.9h0M255.4 518.8h0M245.4 517.9h0M245.3 518.3h0M250.3 519.7h0M259.5 518.2h0M262.2 519.0h0M256.7 519.3h0M259.6 518.6h0M254.9 518.2h0M255.7 518.9h0M256.0 519.4h0M254.4 520.2h0M262.7 518.5h0M244.6 520.4h0M252.5 519.9h0M249.8 519.4h0M261.1 517.9h0M246.4 519.5h0M253.5 520.1h0M253.8 518.7h0M249.1 519.8h0M245.5 519.5h0M251.3 518.3h0M256.0 518.2h0M261.1 520.4h0M254.1 519.3h0M245.7 519.4h0M246.9 519.7h0M248.4 518.0h0M259.1 519.6h0M253.1 520.3h0M260.0 518.2h0M245.9 519.9h0M257.6 520.5h0M257.0 518.6h0M260.3 519.0h0M243.9 518.0h0M257.2 519.2h0M257.7 519.7h0M283.0 519.2h0M287.0 519.2h0M298.0 519.2h0M300.0 519.2h0" stroke="#ee6262" stroke-width="1.35" stroke-linecap="round" fill="none" opacity="0.9"/>
<line x1="262.50" y1="519.20" x2="280.00" y2="519.20" stroke="#333" stroke-width="0.6"/>
<line x1="280.00" y1="518.20" x2="280.00" y2="520.20" stroke="#333" stroke-width="0.6"/>
<circle cx="262.50" cy="519.20" r="0.90" fill="#333"/>
<text x="222.00" y="540.10" font-size="7.2" fill="#222" stroke="#222" stroke-width="0.18" text-anchor="end" textLength="13.30" lengthAdjust="spacingAndGlyphs">PD-1</text>
<rect x="241.80" y="538.20" width="16.90" height="3.60" fill="#f7b4b4"/>
<path d="M245.2 540.2h0M254.8 539.0h0M254.7 540.0h0M257.2 540.9h0M248.2 540.4h0M252.3 540.1h0M253.6 540.5h0M246.1 539.5h0M251.7 539.7h0M254.4 539.3h0M246.1 539.9h0M242.6 540.6h0M246.2 538.7h0M253.7 539.7h0M250.8 539.2h0M252.6 540.0h0M242.9 540.5h0M243.6 540.4h0M252.6 539.9h0M245.6 541.1h0M259.5 540.4h0M255.8 539.6h0M258.4 539.8h0M252.9 539.6h0M254.0 539.4h0M258.5 541.2h0M245.4 539.5h0M255.6 540.1h0M256.4 540.8h0M251.3 539.1h0M246.3 539.6h0M250.5 539.9h0M250.6 538.7h0M252.0 539.3h0M245.5 540.1h0M250.5 540.7h0M254.1 541.2h0M252.2 539.5h0M254.9 539.2h0M245.4 539.7h0M251.1 541.0h0M255.1 540.3h0M244.4 540.3h0M251.2 539.3h0M242.5 540.5h0M268.0 540.0h0M275.0 540.0h0M282.0 540.0h0" stroke="#ee6262" stroke-width="1.35" stroke-linecap="round" fill="none" opacity="0.9"/>
<line x1="258.70" y1="540.00" x2="263.70" y2="540.00" stroke="#333" stroke-width="0.6"/>
<line x1="263.70" y1="539.00" x2="263.70" y2="541.00" stroke="#333" stroke-width="0.6"/>
<circle cx="258.70" cy="540.00" r="0.90" fill="#333"/>
<text x="274.00" y="571.30" font-size="7.4" fill="#333" stroke="#333" stroke-width="0.18" text-anchor="middle" textLength="68.60" lengthAdjust="spacingAndGlyphs">Enrichment in receptor</text>
<text x="238.5" y="581.8" font-size="7.4" fill="#333" stroke="#333" stroke-width="0.18" textLength="71.8" lengthAdjust="spacingAndGlyphs">expression <tspan font-style="italic">(fold increase</tspan></text>
<text x="273.80" y="592.10" font-size="7.4" fill="#333" stroke="#333" stroke-width="0.18" text-anchor="middle" font-style="italic" textLength="72.00" lengthAdjust="spacingAndGlyphs">vs. % in bulk CD4 T cells)</text>
<rect x="233.80" y="607.50" width="7.50" height="41.50" fill="#d6e1ec"/>
<line x1="228.00" y1="609.50" x2="228.00" y2="643.70" stroke="#231f20" stroke-width="0.8"/>
<line x1="225.80" y1="610.00" x2="228.00" y2="610.00" stroke="#231f20" stroke-width="0.6"/>
<line x1="225.80" y1="620.00" x2="228.00" y2="620.00" stroke="#231f20" stroke-width="0.6"/>
<line x1="225.80" y1="630.00" x2="228.00" y2="630.00" stroke="#231f20" stroke-width="0.6"/>
<line x1="225.80" y1="640.00" x2="228.00" y2="640.00" stroke="#231f20" stroke-width="0.6"/>
<line x1="241.80" y1="607.50" x2="241.80" y2="650.00" stroke="#222" stroke-width="0.8" stroke-dasharray="2.2 1.0"/>
<line x1="229.50" y1="649.50" x2="285.00" y2="649.50" stroke="#231f20" stroke-width="0.8"/>
<line x1="287.50" y1="649.50" x2="317.50" y2="649.50" stroke="#231f20" stroke-width="0.8"/>
<line x1="235.00" y1="649.50" x2="235.00" y2="651.70" stroke="#231f20" stroke-width="0.6"/>
<text x="235.00" y="660.80" font-size="7.0" fill="#333" stroke="#333" stroke-width="0.18" text-anchor="middle" textLength="3.20" lengthAdjust="spacingAndGlyphs">0</text>
<line x1="242.00" y1="649.50" x2="242.00" y2="651.70" stroke="#231f20" stroke-width="0.6"/>
<text x="242.00" y="660.80" font-size="7.0" fill="#333" stroke="#333" stroke-width="0.18" text-anchor="middle" textLength="3.20" lengthAdjust="spacingAndGlyphs">1</text>
<line x1="248.70" y1="649.50" x2="248.70" y2="651.70" stroke="#231f20" stroke-width="0.6"/>
<text x="248.70" y="660.80" font-size="7.0" fill="#333" stroke="#333" stroke-width="0.18" text-anchor="middle" textLength="3.20" lengthAdjust="spacingAndGlyphs">2</text>
<line x1="255.00" y1="649.50" x2="255.00" y2="651.70" stroke="#231f20" stroke-width="0.6"/>
<text x="255.00" y="660.80" font-size="7.0" fill="#333" stroke="#333" stroke-width="0.18" text-anchor="middle" textLength="3.20" lengthAdjust="spacingAndGlyphs">3</text>
<line x1="261.50" y1="649.50" x2="261.50" y2="651.70" stroke="#231f20" stroke-width="0.6"/>
<text x="261.50" y="660.80" font-size="7.0" fill="#333" stroke="#333" stroke-width="0.18" text-anchor="middle" textLength="3.20" lengthAdjust="spacingAndGlyphs">4</text>
<line x1="268.00" y1="649.50" x2="268.00" y2="651.70" stroke="#231f20" stroke-width="0.6"/>
<text x="268.00" y="660.80" font-size="7.0" fill="#333" stroke="#333" stroke-width="0.18" text-anchor="middle" textLength="3.20" lengthAdjust="spacingAndGlyphs">5</text>
<line x1="274.30" y1="649.50" x2="274.30" y2="651.70" stroke="#231f20" stroke-width="0.6"/>
<text x="274.30" y="660.80" font-size="7.0" fill="#333" stroke="#333" stroke-width="0.18" text-anchor="middle" textLength="3.20" lengthAdjust="spacingAndGlyphs">6</text>
<line x1="282.00" y1="649.50" x2="282.00" y2="651.70" stroke="#231f20" stroke-width="0.6"/>
<text x="282.00" y="660.80" font-size="7.0" fill="#333" stroke="#333" stroke-width="0.18" text-anchor="middle" textLength="3.20" lengthAdjust="spacingAndGlyphs">7</text>
<line x1="291.20" y1="649.50" x2="291.20" y2="651.70" stroke="#231f20" stroke-width="0.6"/>
<text x="291.20" y="660.80" font-size="7.0" fill="#333" stroke="#333" stroke-width="0.18" text-anchor="middle" textLength="6.40" lengthAdjust="spacingAndGlyphs">10</text>
<line x1="302.00" y1="649.50" x2="302.00" y2="651.70" stroke="#231f20" stroke-width="0.6"/>
<text x="302.00" y="660.80" font-size="7.0" fill="#333" stroke="#333" stroke-width="0.18" text-anchor="middle" textLength="6.40" lengthAdjust="spacingAndGlyphs">20</text>
<line x1="313.50" y1="649.50" x2="313.50" y2="651.70" stroke="#231f20" stroke-width="0.6"/>
<text x="313.50" y="660.80" font-size="7.0" fill="#333" stroke="#333" stroke-width="0.18" text-anchor="middle" textLength="6.40" lengthAdjust="spacingAndGlyphs">30</text>
<text x="222.00" y="619.10" font-size="7.2" fill="#222" stroke="#222" stroke-width="0.18" text-anchor="end" textLength="15.80" lengthAdjust="spacingAndGlyphs">TIGIT</text>
<rect x="241.80" y="618.20" width="41.90" height="3.60" fill="#f7b4b4"/>
<path d="M249.1 619.2h0M272.6 620.9h0M268.8 619.5h0M242.0 620.9h0M245.7 619.1h0M252.4 619.6h0M278.3 619.4h0M269.1 620.3h0M256.1 619.6h0M259.3 618.9h0M265.0 618.9h0M266.1 620.9h0M280.6 620.2h0M260.8 619.9h0M268.2 620.8h0M249.1 621.0h0M280.3 619.7h0M271.7 619.8h0M272.6 620.9h0M255.5 619.6h0M267.0 620.3h0M270.6 620.0h0M249.0 620.2h0M270.4 619.2h0M248.4 621.2h0M278.1 619.9h0M241.9 618.8h0M277.7 621.0h0M253.5 620.5h0M267.7 620.1h0M284.7 620.4h0M270.5 620.6h0M275.2 619.3h0M258.5 619.2h0M282.9 620.7h0M269.9 618.8h0M277.6 619.8h0M269.7 620.4h0M244.9 621.2h0M258.3 619.1h0M257.6 619.8h0M249.4 618.7h0M259.6 620.5h0M280.2 618.8h0M278.8 619.6h0M294.0 620.0h0M297.0 620.0h0M302.0 620.0h0M304.0 620.0h0M307.0 620.0h0M311.0 620.0h0" stroke="#ee6262" stroke-width="1.35" stroke-linecap="round" fill="none" opacity="0.9"/>
<line x1="283.70" y1="620.00" x2="287.50" y2="620.00" stroke="#333" stroke-width="0.6"/>
<line x1="287.50" y1="619.00" x2="287.50" y2="621.00" stroke="#333" stroke-width="0.6"/>
<circle cx="283.70" cy="620.00" r="0.90" fill="#333"/>
<text x="222.00" y="640.10" font-size="7.2" fill="#222" stroke="#222" stroke-width="0.18" text-anchor="end" textLength="13.30" lengthAdjust="spacingAndGlyphs">PD-1</text>
<rect x="241.80" y="638.20" width="15.70" height="3.60" fill="#f7b4b4"/>
<path d="M254.1 640.0h0M243.6 640.1h0M245.8 640.1h0M258.2 640.1h0M242.5 639.2h0M256.6 639.1h0M248.0 638.8h0M247.1 639.6h0M258.0 641.1h0M243.7 640.7h0M245.9 640.1h0M250.3 640.2h0M251.0 639.8h0M249.2 639.7h0M245.0 639.2h0M242.1 640.5h0M256.9 641.3h0M253.8 640.5h0M254.0 640.8h0M245.7 640.0h0M249.0 638.9h0M257.0 640.5h0M253.9 640.4h0M243.7 641.3h0M243.1 641.1h0M246.1 640.0h0M256.7 639.6h0M256.2 641.3h0M246.4 641.3h0M257.8 641.2h0M249.7 639.7h0M254.0 638.8h0M245.8 639.2h0M257.7 639.0h0M244.0 640.1h0M245.7 641.0h0M256.5 639.4h0M250.6 641.0h0M242.1 640.1h0M243.2 640.7h0M256.9 639.5h0M242.7 640.0h0M256.1 638.8h0M251.8 640.5h0M243.6 640.8h0M281.0 640.0h0M289.0 640.0h0M291.0 640.0h0M292.5 640.0h0" stroke="#ee6262" stroke-width="1.35" stroke-linecap="round" fill="none" opacity="0.9"/>
<line x1="257.50" y1="640.00" x2="261.00" y2="640.00" stroke="#333" stroke-width="0.6"/>
<line x1="261.00" y1="639.00" x2="261.00" y2="641.00" stroke="#333" stroke-width="0.6"/>
<circle cx="257.50" cy="640.00" r="0.90" fill="#333"/>
<text x="274.00" y="672.30" font-size="7.4" fill="#333" stroke="#333" stroke-width="0.18" text-anchor="middle" textLength="68.60" lengthAdjust="spacingAndGlyphs">Enrichment in receptor</text>
<text x="238.5" y="682.8" font-size="7.4" fill="#333" stroke="#333" stroke-width="0.18" textLength="71.8" lengthAdjust="spacingAndGlyphs">expression <tspan font-style="italic">(fold increase</tspan></text>
<text x="273.80" y="693.10" font-size="7.4" fill="#333" stroke="#333" stroke-width="0.18" text-anchor="middle" font-style="italic" textLength="80.00" lengthAdjust="spacingAndGlyphs">vs. MMI in bulk CD4 T cells)</text>
<text x="328.40" y="483.60" font-size="11.5" fill="#000" font-weight="bold">J</text>
<text x="433.20" y="481.20" font-size="8.0" fill="#222" stroke="#222" stroke-width="0.18" text-anchor="middle" textLength="85.80" lengthAdjust="spacingAndGlyphs">TIGIT-enriched clusters</text>
<line x1="353.00" y1="484.90" x2="512.70" y2="484.90" stroke="#555" stroke-width="0.8"/>
<text x="433.60" y="598.00" font-size="8.0" fill="#222" stroke="#222" stroke-width="0.18" text-anchor="middle" textLength="91.30" lengthAdjust="spacingAndGlyphs">CD161-enriched clusters</text>
<line x1="353.00" y1="600.50" x2="514.20" y2="600.50" stroke="#555" stroke-width="0.8"/>
<line x1="362.70" y1="492.00" x2="362.70" y2="564.70" stroke="#231f20" stroke-width="0.8"/>
<line x1="359.50" y1="564.40" x2="362.70" y2="564.40" stroke="#231f20" stroke-width="0.7"/>
<line x1="359.50" y1="554.66" x2="362.70" y2="554.66" stroke="#231f20" stroke-width="0.7"/>
<line x1="359.50" y1="544.91" x2="362.70" y2="544.91" stroke="#231f20" stroke-width="0.7"/>
<line x1="359.50" y1="535.17" x2="362.70" y2="535.17" stroke="#231f20" stroke-width="0.7"/>
<line x1="359.50" y1="525.42" x2="362.70" y2="525.42" stroke="#231f20" stroke-width="0.7"/>
<line x1="359.50" y1="515.68" x2="362.70" y2="515.68" stroke="#231f20" stroke-width="0.7"/>
<line x1="359.50" y1="505.94" x2="362.70" y2="505.94" stroke="#231f20" stroke-width="0.7"/>
<line x1="359.50" y1="496.19" x2="362.70" y2="496.19" stroke="#231f20" stroke-width="0.7"/>
<line x1="360.90" y1="559.53" x2="362.70" y2="559.53" stroke="#231f20" stroke-width="0.45"/>
<line x1="360.90" y1="549.78" x2="362.70" y2="549.78" stroke="#231f20" stroke-width="0.45"/>
<line x1="360.90" y1="540.04" x2="362.70" y2="540.04" stroke="#231f20" stroke-width="0.45"/>
<line x1="360.90" y1="530.30" x2="362.70" y2="530.30" stroke="#231f20" stroke-width="0.45"/>
<line x1="360.90" y1="520.55" x2="362.70" y2="520.55" stroke="#231f20" stroke-width="0.45"/>
<line x1="360.90" y1="510.81" x2="362.70" y2="510.81" stroke="#231f20" stroke-width="0.45"/>
<line x1="360.90" y1="501.06" x2="362.70" y2="501.06" stroke="#231f20" stroke-width="0.45"/>
<text x="356.90" y="566.80" font-size="6.8" fill="#222" stroke="#222" stroke-width="0.18" text-anchor="end">0</text>
<text x="356.90" y="557.06" font-size="6.8" fill="#222" stroke="#222" stroke-width="0.18" text-anchor="end">3</text>
<text x="356.90" y="547.31" font-size="6.8" fill="#222" stroke="#222" stroke-width="0.18" text-anchor="end">6</text>
<text x="356.90" y="537.57" font-size="6.8" fill="#222" stroke="#222" stroke-width="0.18" text-anchor="end">9</text>
<text x="356.90" y="527.82" font-size="6.8" fill="#222" stroke="#222" stroke-width="0.18" text-anchor="end">12</text>
<text x="356.90" y="518.08" font-size="6.8" fill="#222" stroke="#222" stroke-width="0.18" text-anchor="end">15</text>
<text x="356.90" y="508.34" font-size="6.8" fill="#222" stroke="#222" stroke-width="0.18" text-anchor="end">18</text>
<text x="356.90" y="498.59" font-size="6.8" fill="#222" stroke="#222" stroke-width="0.18" text-anchor="end">21</text>
<line x1="362.30" y1="564.40" x2="398.20" y2="564.40" stroke="#231f20" stroke-width="0.8"/>
<line x1="372.80" y1="564.40" x2="372.80" y2="566.40" stroke="#231f20" stroke-width="0.7"/>
<line x1="387.00" y1="564.40" x2="387.00" y2="566.40" stroke="#231f20" stroke-width="0.7"/>
<line x1="372.85" y1="503.50" x2="372.85" y2="563.40" stroke="#333" stroke-width="0.7"/>
<line x1="371.05" y1="503.50" x2="374.65" y2="503.50" stroke="#333" stroke-width="0.7"/>
<line x1="371.05" y1="563.40" x2="374.65" y2="563.40" stroke="#333" stroke-width="0.7"/>
<rect x="367.30" y="543.60" width="11.10" height="15.70" fill="#7da5c9" stroke="none"/>
<line x1="372.85" y1="543.60" x2="372.85" y2="559.30" stroke="#555" stroke-width="0.5"/>
<line x1="367.30" y1="553.20" x2="378.40" y2="553.20" stroke="#333" stroke-width="0.9"/>
<path d="M372.8 503.5h0M372.8 508.0h0M375.5 524.0h0M372.8 528.0h0M370.0 531.0h0M375.5 535.0h0M370.5 541.0h0M373.5 544.5h0M376.5 546.0h0M370.0 548.5h0M374.0 551.0h0M371.0 553.0h0M376.5 555.0h0M369.5 557.5h0M373.5 559.0h0M371.0 561.5h0M375.0 562.5h0M372.8 563.4h0" stroke="#1f5a98" stroke-width="2.0" stroke-linecap="round" fill="none"/>
<line x1="387.05" y1="509.40" x2="387.05" y2="560.20" stroke="#333" stroke-width="0.7"/>
<line x1="385.25" y1="509.40" x2="388.85" y2="509.40" stroke="#333" stroke-width="0.7"/>
<line x1="385.25" y1="560.20" x2="388.85" y2="560.20" stroke="#333" stroke-width="0.7"/>
<rect x="381.30" y="528.90" width="11.50" height="20.60" fill="#e8869a" stroke="none"/>
<line x1="387.05" y1="528.90" x2="387.05" y2="549.50" stroke="#555" stroke-width="0.5"/>
<line x1="381.30" y1="539.90" x2="392.80" y2="539.90" stroke="#333" stroke-width="0.9"/>
<path d="M387.0 509.4h0M387.0 512.0h0M387.0 516.0h0M387.0 520.0h0M384.0 524.0h0M389.5 524.5h0M383.5 529.0h0M386.0 531.0h0M390.5 532.0h0M384.5 535.0h0M388.5 537.0h0M386.0 540.5h0M391.0 541.0h0M383.5 544.0h0M388.0 546.0h0M385.0 549.0h0M390.0 549.5h0M387.0 555.0h0M387.0 560.2h0" stroke="#d3284b" stroke-width="2.0" stroke-linecap="round" fill="none"/>
<text x="372.60" y="575.00" font-size="7.0" fill="#333" stroke="#333" stroke-width="0.18" text-anchor="middle" textLength="8.70" lengthAdjust="spacingAndGlyphs">NR</text>
<text x="386.70" y="575.00" font-size="7.0" fill="#333" stroke="#333" stroke-width="0.18" text-anchor="middle">R</text>
<text x="379.60" y="492.80" font-size="6.9" fill="#333" stroke="#333" stroke-width="0.18" text-anchor="middle" textLength="23.70" lengthAdjust="spacingAndGlyphs">p=0.005</text>
<line x1="372.30" y1="496.20" x2="386.90" y2="496.20" stroke="#333" stroke-width="0.7"/>
<line x1="372.30" y1="495.00" x2="372.30" y2="497.40" stroke="#333" stroke-width="0.6"/>
<line x1="386.90" y1="495.00" x2="386.90" y2="497.40" stroke="#333" stroke-width="0.6"/>
<text x="335.20" y="565.60" font-size="7.2" fill="#333" stroke="#333" stroke-width="0.18" textLength="65.00" lengthAdjust="spacingAndGlyphs" transform="rotate(-90 335.20 565.60)">% Cluster (25+26)</text>
<text x="345.40" y="552.00" font-size="7.2" fill="#333" stroke="#333" stroke-width="0.18" textLength="43.10" lengthAdjust="spacingAndGlyphs" transform="rotate(-90 345.40 552.00)">in CD4 T cells</text>
<line x1="366.00" y1="607.50" x2="366.00" y2="680.50" stroke="#231f20" stroke-width="0.8"/>
<line x1="362.80" y1="611.90" x2="366.00" y2="611.90" stroke="#231f20" stroke-width="0.7"/>
<line x1="362.80" y1="622.18" x2="366.00" y2="622.18" stroke="#231f20" stroke-width="0.7"/>
<line x1="362.80" y1="632.46" x2="366.00" y2="632.46" stroke="#231f20" stroke-width="0.7"/>
<line x1="362.80" y1="642.74" x2="366.00" y2="642.74" stroke="#231f20" stroke-width="0.7"/>
<line x1="362.80" y1="653.02" x2="366.00" y2="653.02" stroke="#231f20" stroke-width="0.7"/>
<line x1="362.80" y1="663.30" x2="366.00" y2="663.30" stroke="#231f20" stroke-width="0.7"/>
<line x1="362.80" y1="673.58" x2="366.00" y2="673.58" stroke="#231f20" stroke-width="0.7"/>
<line x1="364.20" y1="606.76" x2="366.00" y2="606.76" stroke="#231f20" stroke-width="0.45"/>
<line x1="364.20" y1="617.04" x2="366.00" y2="617.04" stroke="#231f20" stroke-width="0.45"/>
<line x1="364.20" y1="627.32" x2="366.00" y2="627.32" stroke="#231f20" stroke-width="0.45"/>
<line x1="364.20" y1="637.60" x2="366.00" y2="637.60" stroke="#231f20" stroke-width="0.45"/>
<line x1="364.20" y1="647.88" x2="366.00" y2="647.88" stroke="#231f20" stroke-width="0.45"/>
<line x1="364.20" y1="658.16" x2="366.00" y2="658.16" stroke="#231f20" stroke-width="0.45"/>
<line x1="364.20" y1="668.44" x2="366.00" y2="668.44" stroke="#231f20" stroke-width="0.45"/>
<text x="359.90" y="614.30" font-size="6.8" fill="#222" stroke="#222" stroke-width="0.18" text-anchor="end">32</text>
<text x="359.90" y="624.58" font-size="6.8" fill="#222" stroke="#222" stroke-width="0.18" text-anchor="end">16</text>
<text x="359.90" y="634.86" font-size="6.8" fill="#222" stroke="#222" stroke-width="0.18" text-anchor="end">8</text>
<text x="359.90" y="645.14" font-size="6.8" fill="#222" stroke="#222" stroke-width="0.18" text-anchor="end">4</text>
<text x="359.90" y="655.42" font-size="6.8" fill="#222" stroke="#222" stroke-width="0.18" text-anchor="end">2</text>
<text x="359.90" y="665.70" font-size="6.8" fill="#222" stroke="#222" stroke-width="0.18" text-anchor="end">1</text>
<text x="359.90" y="675.98" font-size="6.8" fill="#222" stroke="#222" stroke-width="0.18" text-anchor="end">0.5</text>
<line x1="365.60" y1="680.20" x2="401.60" y2="680.20" stroke="#231f20" stroke-width="0.8"/>
<line x1="376.20" y1="680.20" x2="376.20" y2="682.20" stroke="#231f20" stroke-width="0.7"/>
<line x1="390.30" y1="680.20" x2="390.30" y2="682.20" stroke="#231f20" stroke-width="0.7"/>
<line x1="376.20" y1="618.40" x2="376.20" y2="676.00" stroke="#333" stroke-width="0.7"/>
<line x1="374.40" y1="618.40" x2="378.00" y2="618.40" stroke="#333" stroke-width="0.7"/>
<line x1="374.40" y1="676.00" x2="378.00" y2="676.00" stroke="#333" stroke-width="0.7"/>
<rect x="370.30" y="632.80" width="11.80" height="24.50" fill="#7da5c9" stroke="none"/>
<line x1="376.20" y1="632.80" x2="376.20" y2="657.30" stroke="#555" stroke-width="0.5"/>
<line x1="370.30" y1="645.50" x2="382.10" y2="645.50" stroke="#333" stroke-width="0.9"/>
<path d="M376.2 618.4h0M379.0 620.5h0M376.2 624.0h0M378.5 632.5h0M374.0 634.0h0M376.2 638.0h0M372.5 641.0h0M379.5 643.0h0M374.5 645.5h0M377.5 647.5h0M373.0 650.0h0M376.2 652.0h0M379.5 654.0h0M374.0 656.5h0M376.2 661.0h0M373.5 664.5h0M378.0 665.0h0M376.2 672.0h0M376.2 676.0h0" stroke="#1f5a98" stroke-width="2.0" stroke-linecap="round" fill="none"/>
<line x1="390.35" y1="618.40" x2="390.35" y2="656.50" stroke="#333" stroke-width="0.7"/>
<line x1="388.55" y1="618.40" x2="392.15" y2="618.40" stroke="#333" stroke-width="0.7"/>
<line x1="388.55" y1="656.50" x2="392.15" y2="656.50" stroke="#333" stroke-width="0.7"/>
<rect x="384.70" y="624.40" width="11.30" height="22.00" fill="#e8869a" stroke="none"/>
<line x1="390.35" y1="624.40" x2="390.35" y2="646.40" stroke="#555" stroke-width="0.5"/>
<line x1="384.70" y1="633.70" x2="396.00" y2="633.70" stroke="#333" stroke-width="0.9"/>
<path d="M390.3 618.4h0M392.5 620.0h0M388.0 624.0h0M390.3 626.0h0M393.5 627.0h0M386.5 628.5h0M391.5 630.5h0M388.5 632.5h0M394.5 633.5h0M386.5 635.5h0M390.3 637.0h0M392.5 640.0h0M389.0 643.0h0M390.3 648.5h0M387.5 652.0h0M391.5 653.0h0M390.3 656.5h0" stroke="#d3284b" stroke-width="2.0" stroke-linecap="round" fill="none"/>
<text x="376.00" y="690.80" font-size="7.0" fill="#333" stroke="#333" stroke-width="0.18" text-anchor="middle" textLength="8.80" lengthAdjust="spacingAndGlyphs">NR</text>
<text x="390.30" y="690.80" font-size="7.0" fill="#333" stroke="#333" stroke-width="0.18" text-anchor="middle">R</text>
<text x="383.00" y="607.50" font-size="6.9" fill="#333" stroke="#333" stroke-width="0.18" text-anchor="middle" textLength="23.70" lengthAdjust="spacingAndGlyphs">p=0.030</text>
<line x1="375.40" y1="611.70" x2="390.60" y2="611.70" stroke="#333" stroke-width="0.7"/>
<line x1="375.40" y1="610.50" x2="375.40" y2="612.90" stroke="#333" stroke-width="0.6"/>
<line x1="390.60" y1="610.50" x2="390.60" y2="612.90" stroke="#333" stroke-width="0.6"/>
<text x="338.60" y="670.00" font-size="7.2" fill="#333" stroke="#333" stroke-width="0.18" textLength="53.20" lengthAdjust="spacingAndGlyphs" transform="rotate(-90 338.60 670.00)">% Cluster (22+26)</text>
<text x="348.60" y="663.30" font-size="7.2" fill="#333" stroke="#333" stroke-width="0.18" textLength="38.10" lengthAdjust="spacingAndGlyphs" transform="rotate(-90 348.60 663.30)">in CD4 T cells</text>
<line x1="429.50" y1="494.60" x2="429.50" y2="565.00" stroke="#231f20" stroke-width="0.8"/>
<line x1="425.90" y1="564.40" x2="429.50" y2="564.40" stroke="#231f20" stroke-width="0.7"/>
<text x="422.90" y="566.80" font-size="6.8" fill="#222" stroke="#222" stroke-width="0.18" text-anchor="end">0</text>
<line x1="425.90" y1="552.44" x2="429.50" y2="552.44" stroke="#231f20" stroke-width="0.7"/>
<text x="422.90" y="554.84" font-size="6.8" fill="#222" stroke="#222" stroke-width="0.18" text-anchor="end">20</text>
<line x1="425.90" y1="540.48" x2="429.50" y2="540.48" stroke="#231f20" stroke-width="0.7"/>
<text x="422.90" y="542.88" font-size="6.8" fill="#222" stroke="#222" stroke-width="0.18" text-anchor="end">40</text>
<line x1="425.90" y1="528.52" x2="429.50" y2="528.52" stroke="#231f20" stroke-width="0.7"/>
<text x="422.90" y="530.92" font-size="6.8" fill="#222" stroke="#222" stroke-width="0.18" text-anchor="end">60</text>
<line x1="425.90" y1="516.56" x2="429.50" y2="516.56" stroke="#231f20" stroke-width="0.7"/>
<text x="422.90" y="518.96" font-size="6.8" fill="#222" stroke="#222" stroke-width="0.18" text-anchor="end">80</text>
<line x1="425.90" y1="504.60" x2="429.50" y2="504.60" stroke="#231f20" stroke-width="0.7"/>
<text x="422.90" y="507.00" font-size="6.8" fill="#222" stroke="#222" stroke-width="0.18" text-anchor="end">100</text>
<line x1="427.70" y1="558.42" x2="429.50" y2="558.42" stroke="#231f20" stroke-width="0.45"/>
<line x1="427.70" y1="546.46" x2="429.50" y2="546.46" stroke="#231f20" stroke-width="0.45"/>
<line x1="427.70" y1="534.50" x2="429.50" y2="534.50" stroke="#231f20" stroke-width="0.45"/>
<line x1="427.70" y1="522.54" x2="429.50" y2="522.54" stroke="#231f20" stroke-width="0.45"/>
<line x1="427.70" y1="510.58" x2="429.50" y2="510.58" stroke="#231f20" stroke-width="0.45"/>
<line x1="428.20" y1="498.62" x2="429.50" y2="498.62" stroke="#231f20" stroke-width="0.4"/>
<line x1="429.10" y1="564.70" x2="512.60" y2="564.70" stroke="#231f20" stroke-width="0.8"/>
<line x1="429.50" y1="564.70" x2="429.50" y2="566.90" stroke="#231f20" stroke-width="0.7"/>
<text x="429.50" y="575.80" font-size="7.0" fill="#333" stroke="#333" stroke-width="0.18" text-anchor="middle" textLength="3.00" lengthAdjust="spacingAndGlyphs">0</text>
<line x1="442.18" y1="564.70" x2="442.18" y2="566.90" stroke="#231f20" stroke-width="0.7"/>
<text x="442.18" y="575.80" font-size="7.0" fill="#333" stroke="#333" stroke-width="0.18" text-anchor="middle" textLength="6.20" lengthAdjust="spacingAndGlyphs">12</text>
<line x1="454.87" y1="564.70" x2="454.87" y2="566.90" stroke="#231f20" stroke-width="0.7"/>
<text x="454.87" y="575.80" font-size="7.0" fill="#333" stroke="#333" stroke-width="0.18" text-anchor="middle" textLength="6.20" lengthAdjust="spacingAndGlyphs">24</text>
<line x1="467.55" y1="564.70" x2="467.55" y2="566.90" stroke="#231f20" stroke-width="0.7"/>
<text x="467.55" y="575.80" font-size="7.0" fill="#333" stroke="#333" stroke-width="0.18" text-anchor="middle" textLength="6.20" lengthAdjust="spacingAndGlyphs">36</text>
<line x1="480.24" y1="564.70" x2="480.24" y2="566.90" stroke="#231f20" stroke-width="0.7"/>
<text x="480.24" y="575.80" font-size="7.0" fill="#333" stroke="#333" stroke-width="0.18" text-anchor="middle" textLength="6.20" lengthAdjust="spacingAndGlyphs">48</text>
<line x1="492.92" y1="564.70" x2="492.92" y2="566.90" stroke="#231f20" stroke-width="0.7"/>
<text x="492.92" y="575.80" font-size="7.0" fill="#333" stroke="#333" stroke-width="0.18" text-anchor="middle" textLength="6.20" lengthAdjust="spacingAndGlyphs">60</text>
<line x1="505.60" y1="564.70" x2="505.60" y2="566.90" stroke="#231f20" stroke-width="0.7"/>
<text x="505.60" y="575.80" font-size="7.0" fill="#333" stroke="#333" stroke-width="0.18" text-anchor="middle" textLength="6.20" lengthAdjust="spacingAndGlyphs">72</text>
<line x1="518.29" y1="564.70" x2="518.29" y2="566.90" stroke="#231f20" stroke-width="0.7"/>
<line x1="435.84" y1="564.70" x2="435.84" y2="566.00" stroke="#231f20" stroke-width="0.4"/>
<line x1="448.53" y1="564.70" x2="448.53" y2="566.00" stroke="#231f20" stroke-width="0.4"/>
<line x1="461.21" y1="564.70" x2="461.21" y2="566.00" stroke="#231f20" stroke-width="0.4"/>
<line x1="473.89" y1="564.70" x2="473.89" y2="566.00" stroke="#231f20" stroke-width="0.4"/>
<line x1="486.58" y1="564.70" x2="486.58" y2="566.00" stroke="#231f20" stroke-width="0.4"/>
<line x1="499.26" y1="564.70" x2="499.26" y2="566.00" stroke="#231f20" stroke-width="0.4"/>
<line x1="511.95" y1="564.70" x2="511.95" y2="566.00" stroke="#231f20" stroke-width="0.4"/>
<path d="M429.50 504.60 L434.15 504.60 L434.15 507.59 L435.00 507.59 L435.00 510.58 L436.48 510.58 L436.48 513.57 L441.97 513.57 L441.97 516.56 L451.91 516.56 L451.91 519.55 L457.72 519.55 L457.72 523.74 L511.95 523.74" fill="none" stroke="#2d63a0" stroke-width="1.0"/>
<line x1="444.30" y1="515.26" x2="444.30" y2="516.86" stroke="#2d63a0" stroke-width="0.6"/>
<line x1="461.21" y1="522.44" x2="461.21" y2="524.04" stroke="#2d63a0" stroke-width="0.6"/>
<line x1="465.44" y1="522.44" x2="465.44" y2="524.04" stroke="#2d63a0" stroke-width="0.6"/>
<line x1="469.67" y1="522.44" x2="469.67" y2="524.04" stroke="#2d63a0" stroke-width="0.6"/>
<line x1="476.01" y1="522.44" x2="476.01" y2="524.04" stroke="#2d63a0" stroke-width="0.6"/>
<line x1="482.35" y1="522.44" x2="482.35" y2="524.04" stroke="#2d63a0" stroke-width="0.6"/>
<line x1="488.69" y1="522.44" x2="488.69" y2="524.04" stroke="#2d63a0" stroke-width="0.6"/>
<line x1="497.15" y1="522.44" x2="497.15" y2="524.04" stroke="#2d63a0" stroke-width="0.6"/>
<line x1="507.72" y1="522.44" x2="507.72" y2="524.04" stroke="#2d63a0" stroke-width="0.6"/>
<path d="M429.50 504.60 L434.15 504.60 L434.15 507.59 L435.00 507.59 L435.00 510.58 L436.48 510.58 L436.48 516.56 L437.43 516.56 L437.43 522.54 L438.80 522.54 L438.80 528.52 L440.49 528.52 L440.49 531.51 L441.97 531.51 L441.97 534.50 L446.20 534.50 L446.20 537.49 L448.00 537.49 L448.00 540.48 L449.58 540.48 L449.58 543.47 L454.34 543.47 L454.34 547.66 L497.68 547.66" fill="none" stroke="#d42a48" stroke-width="1.0"/>
<line x1="460.15" y1="546.36" x2="460.15" y2="547.96" stroke="#d42a48" stroke-width="0.6"/>
<line x1="469.67" y1="546.36" x2="469.67" y2="547.96" stroke="#d42a48" stroke-width="0.6"/>
<line x1="476.01" y1="546.36" x2="476.01" y2="547.96" stroke="#d42a48" stroke-width="0.6"/>
<line x1="488.69" y1="546.36" x2="488.69" y2="547.96" stroke="#d42a48" stroke-width="0.6"/>
<line x1="495.03" y1="546.36" x2="495.03" y2="547.96" stroke="#d42a48" stroke-width="0.6"/>
<text x="471.50" y="585.60" font-size="7.6" fill="#333" stroke="#333" stroke-width="0.18" text-anchor="middle" textLength="88.40" lengthAdjust="spacingAndGlyphs">Time after allo-HSCT (months)</text>
<line x1="462.60" y1="497.30" x2="469.00" y2="497.30" stroke="#2d63a0" stroke-width="0.9"/>
<line x1="465.80" y1="496.20" x2="465.80" y2="497.60" stroke="#2d63a0" stroke-width="0.6"/>
<line x1="462.60" y1="503.00" x2="469.00" y2="503.00" stroke="#d42a48" stroke-width="0.9"/>
<line x1="465.80" y1="501.90" x2="465.80" y2="503.30" stroke="#d42a48" stroke-width="0.6"/>
<text x="470.30" y="499.30" font-size="6.2" fill="#333" stroke="#333" stroke-width="0.18" textLength="41.80" lengthAdjust="spacingAndGlyphs">Low %(C25+C26)</text>
<text x="470.30" y="505.00" font-size="6.2" fill="#333" stroke="#333" stroke-width="0.18" textLength="43.20" lengthAdjust="spacingAndGlyphs">High %(C25+C26)</text>
<text x="487.50" y="512.00" font-size="6.2" fill="#333" stroke="#333" stroke-width="0.18" text-anchor="middle" textLength="22.00" lengthAdjust="spacingAndGlyphs">p=0.0131</text>
<line x1="429.50" y1="610.70" x2="429.50" y2="680.70" stroke="#231f20" stroke-width="0.8"/>
<line x1="425.90" y1="680.40" x2="429.50" y2="680.40" stroke="#231f20" stroke-width="0.7"/>
<text x="422.90" y="682.80" font-size="6.8" fill="#222" stroke="#222" stroke-width="0.18" text-anchor="end">0</text>
<line x1="425.90" y1="668.44" x2="429.50" y2="668.44" stroke="#231f20" stroke-width="0.7"/>
<text x="422.90" y="670.84" font-size="6.8" fill="#222" stroke="#222" stroke-width="0.18" text-anchor="end">20</text>
<line x1="425.90" y1="656.48" x2="429.50" y2="656.48" stroke="#231f20" stroke-width="0.7"/>
<text x="422.90" y="658.88" font-size="6.8" fill="#222" stroke="#222" stroke-width="0.18" text-anchor="end">40</text>
<line x1="425.90" y1="644.52" x2="429.50" y2="644.52" stroke="#231f20" stroke-width="0.7"/>
<text x="422.90" y="646.92" font-size="6.8" fill="#222" stroke="#222" stroke-width="0.18" text-anchor="end">60</text>
<line x1="425.90" y1="632.56" x2="429.50" y2="632.56" stroke="#231f20" stroke-width="0.7"/>
<text x="422.90" y="634.96" font-size="6.8" fill="#222" stroke="#222" stroke-width="0.18" text-anchor="end">80</text>
<line x1="425.90" y1="620.60" x2="429.50" y2="620.60" stroke="#231f20" stroke-width="0.7"/>
<text x="422.90" y="623.00" font-size="6.8" fill="#222" stroke="#222" stroke-width="0.18" text-anchor="end">100</text>
<line x1="427.70" y1="674.42" x2="429.50" y2="674.42" stroke="#231f20" stroke-width="0.45"/>
<line x1="427.70" y1="662.46" x2="429.50" y2="662.46" stroke="#231f20" stroke-width="0.45"/>
<line x1="427.70" y1="650.50" x2="429.50" y2="650.50" stroke="#231f20" stroke-width="0.45"/>
<line x1="427.70" y1="638.54" x2="429.50" y2="638.54" stroke="#231f20" stroke-width="0.45"/>
<line x1="427.70" y1="626.58" x2="429.50" y2="626.58" stroke="#231f20" stroke-width="0.45"/>
<line x1="428.20" y1="614.62" x2="429.50" y2="614.62" stroke="#231f20" stroke-width="0.4"/>
<line x1="429.10" y1="680.40" x2="512.60" y2="680.40" stroke="#231f20" stroke-width="0.8"/>
<line x1="429.50" y1="680.40" x2="429.50" y2="682.60" stroke="#231f20" stroke-width="0.7"/>
<text x="429.50" y="691.00" font-size="7.0" fill="#333" stroke="#333" stroke-width="0.18" text-anchor="middle" textLength="3.00" lengthAdjust="spacingAndGlyphs">0</text>
<line x1="442.18" y1="680.40" x2="442.18" y2="682.60" stroke="#231f20" stroke-width="0.7"/>
<text x="442.18" y="691.00" font-size="7.0" fill="#333" stroke="#333" stroke-width="0.18" text-anchor="middle" textLength="6.20" lengthAdjust="spacingAndGlyphs">12</text>
<line x1="454.87" y1="680.40" x2="454.87" y2="682.60" stroke="#231f20" stroke-width="0.7"/>
<text x="454.87" y="691.00" font-size="7.0" fill="#333" stroke="#333" stroke-width="0.18" text-anchor="middle" textLength="6.20" lengthAdjust="spacingAndGlyphs">24</text>
<line x1="467.55" y1="680.40" x2="467.55" y2="682.60" stroke="#231f20" stroke-width="0.7"/>
<text x="467.55" y="691.00" font-size="7.0" fill="#333" stroke="#333" stroke-width="0.18" text-anchor="middle" textLength="6.20" lengthAdjust="spacingAndGlyphs">36</text>
<line x1="480.24" y1="680.40" x2="480.24" y2="682.60" stroke="#231f20" stroke-width="0.7"/>
<text x="480.24" y="691.00" font-size="7.0" fill="#333" stroke="#333" stroke-width="0.18" text-anchor="middle" textLength="6.20" lengthAdjust="spacingAndGlyphs">48</text>
<line x1="492.92" y1="680.40" x2="492.92" y2="682.60" stroke="#231f20" stroke-width="0.7"/>
<text x="492.92" y="691.00" font-size="7.0" fill="#333" stroke="#333" stroke-width="0.18" text-anchor="middle" textLength="6.20" lengthAdjust="spacingAndGlyphs">60</text>
<line x1="505.60" y1="680.40" x2="505.60" y2="682.60" stroke="#231f20" stroke-width="0.7"/>
<text x="505.60" y="691.00" font-size="7.0" fill="#333" stroke="#333" stroke-width="0.18" text-anchor="middle" textLength="6.20" lengthAdjust="spacingAndGlyphs">72</text>
<line x1="518.29" y1="680.40" x2="518.29" y2="682.60" stroke="#231f20" stroke-width="0.7"/>
<line x1="435.84" y1="680.40" x2="435.84" y2="681.70" stroke="#231f20" stroke-width="0.4"/>
<line x1="448.53" y1="680.40" x2="448.53" y2="681.70" stroke="#231f20" stroke-width="0.4"/>
<line x1="461.21" y1="680.40" x2="461.21" y2="681.70" stroke="#231f20" stroke-width="0.4"/>
<line x1="473.89" y1="680.40" x2="473.89" y2="681.70" stroke="#231f20" stroke-width="0.4"/>
<line x1="486.58" y1="680.40" x2="486.58" y2="681.70" stroke="#231f20" stroke-width="0.4"/>
<line x1="499.26" y1="680.40" x2="499.26" y2="681.70" stroke="#231f20" stroke-width="0.4"/>
<line x1="511.95" y1="680.40" x2="511.95" y2="681.70" stroke="#231f20" stroke-width="0.4"/>
<path d="M429.50 620.60 L434.15 620.60 L434.15 625.38 L435.31 625.38 L435.31 627.78 L436.48 627.78 L436.48 629.57 L442.71 629.57 L442.71 636.75 L458.88 636.75 L458.88 639.74 L511.95 639.74" fill="none" stroke="#2d63a0" stroke-width="1.0"/>
<line x1="444.30" y1="635.45" x2="444.30" y2="637.05" stroke="#2d63a0" stroke-width="0.6"/>
<line x1="463.32" y1="638.44" x2="463.32" y2="640.04" stroke="#2d63a0" stroke-width="0.6"/>
<line x1="467.55" y1="638.44" x2="467.55" y2="640.04" stroke="#2d63a0" stroke-width="0.6"/>
<line x1="476.01" y1="638.44" x2="476.01" y2="640.04" stroke="#2d63a0" stroke-width="0.6"/>
<line x1="480.24" y1="638.44" x2="480.24" y2="640.04" stroke="#2d63a0" stroke-width="0.6"/>
<line x1="488.69" y1="638.44" x2="488.69" y2="640.04" stroke="#2d63a0" stroke-width="0.6"/>
<line x1="495.03" y1="638.44" x2="495.03" y2="640.04" stroke="#2d63a0" stroke-width="0.6"/>
<line x1="505.60" y1="638.44" x2="505.60" y2="640.04" stroke="#2d63a0" stroke-width="0.6"/>
<line x1="516.17" y1="638.44" x2="516.17" y2="640.04" stroke="#2d63a0" stroke-width="0.6"/>
<path d="M429.50 620.60 L435.00 620.60 L435.00 626.58 L436.48 626.58 L436.48 632.56 L437.64 632.56 L437.64 638.54 L439.65 638.54 L439.65 644.52 L441.55 644.52 L441.55 647.51 L446.73 647.51 L446.73 650.50 L448.95 650.50 L448.95 653.49 L450.64 653.49 L450.64 656.48 L452.01 656.48 L452.01 659.47 L453.81 659.47 L453.81 663.66 L497.68 663.66" fill="none" stroke="#d42a48" stroke-width="1.0"/>
<line x1="461.21" y1="662.36" x2="461.21" y2="663.96" stroke="#d42a48" stroke-width="0.6"/>
<line x1="471.78" y1="662.36" x2="471.78" y2="663.96" stroke="#d42a48" stroke-width="0.6"/>
<line x1="476.01" y1="662.36" x2="476.01" y2="663.96" stroke="#d42a48" stroke-width="0.6"/>
<line x1="490.81" y1="662.36" x2="490.81" y2="663.96" stroke="#d42a48" stroke-width="0.6"/>
<line x1="495.03" y1="662.36" x2="495.03" y2="663.96" stroke="#d42a48" stroke-width="0.6"/>
<text x="471.50" y="701.70" font-size="7.6" fill="#333" stroke="#333" stroke-width="0.18" text-anchor="middle" textLength="88.40" lengthAdjust="spacingAndGlyphs">Time after allo-HSCT (months)</text>
<line x1="462.60" y1="614.20" x2="469.00" y2="614.20" stroke="#2d63a0" stroke-width="0.9"/>
<line x1="465.80" y1="613.10" x2="465.80" y2="614.50" stroke="#2d63a0" stroke-width="0.6"/>
<line x1="462.60" y1="621.00" x2="469.00" y2="621.00" stroke="#d42a48" stroke-width="0.9"/>
<line x1="465.80" y1="619.90" x2="465.80" y2="621.30" stroke="#d42a48" stroke-width="0.6"/>
<text x="470.30" y="616.20" font-size="6.2" fill="#333" stroke="#333" stroke-width="0.18" textLength="41.80" lengthAdjust="spacingAndGlyphs">Low %(C22+C26)</text>
<text x="470.30" y="623.00" font-size="6.2" fill="#333" stroke="#333" stroke-width="0.18" textLength="43.20" lengthAdjust="spacingAndGlyphs">High %(C22+C26)</text>
<text x="487.50" y="629.50" font-size="6.2" fill="#333" stroke="#333" stroke-width="0.18" text-anchor="middle" textLength="22.00" lengthAdjust="spacingAndGlyphs">p=0.0176</text>
<text x="409.60" y="563.20" font-size="7.2" fill="#333" stroke="#333" stroke-width="0.18" textLength="68.20" lengthAdjust="spacingAndGlyphs" transform="rotate(-90 409.60 563.20)">% Relapse-free survival</text>
<text x="409.60" y="680.00" font-size="7.2" fill="#333" stroke="#333" stroke-width="0.18" textLength="68.20" lengthAdjust="spacingAndGlyphs" transform="rotate(-90 409.60 680.00)">% Relapse-free survival</text>
<rect x="0.6" y="0.6" width="518.8" height="707.8" fill="none" stroke="#000" stroke-width="1.3"/></svg>
</body></html>
